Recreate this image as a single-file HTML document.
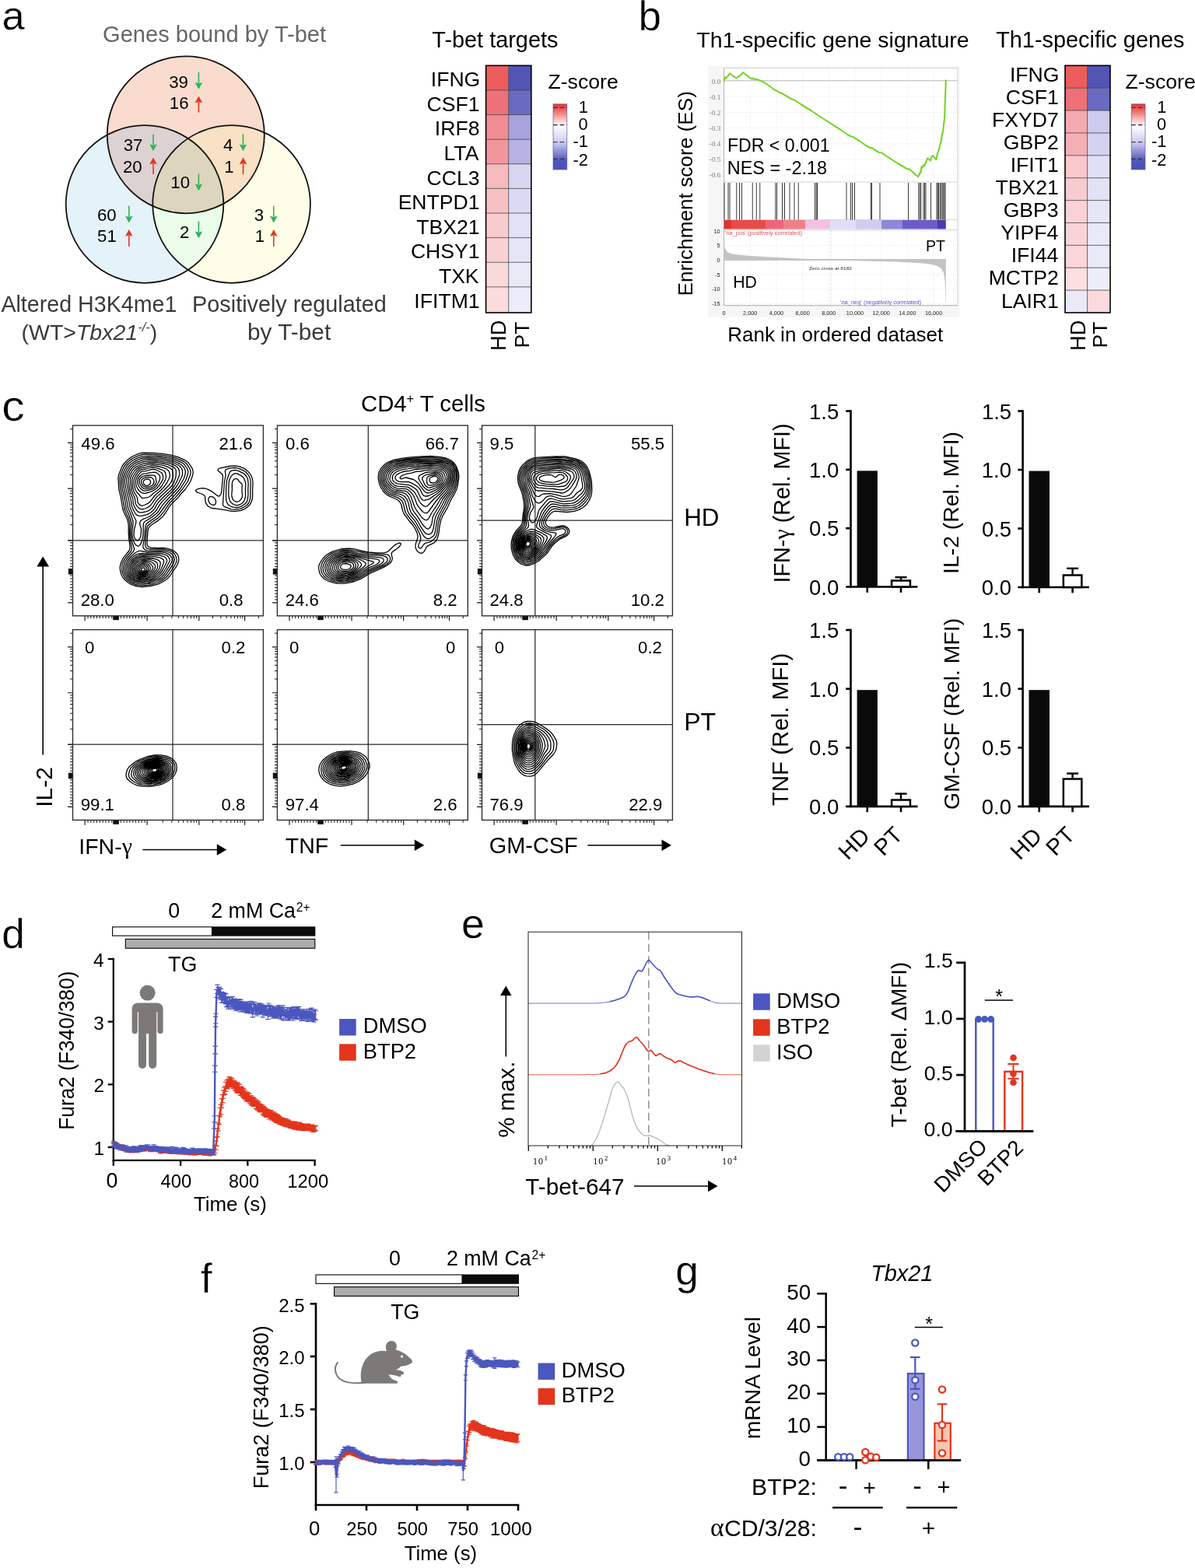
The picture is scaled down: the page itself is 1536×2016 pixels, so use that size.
<!DOCTYPE html>
<html lang="en"><head><meta charset="utf-8"><title>Figure</title>
<style>
html,body{margin:0;padding:0;background:#fff;}
svg{display:block;font-family:"Liberation Sans",sans-serif;}
</style></head>
<body>
<svg width="1536" height="2016" viewBox="0 0 1536 2016">
<rect width="1536" height="2016" fill="#fff"/>
<!-- panel a -->
<text x="2.57" y="38.30" font-size="52.50" stroke="#fff" stroke-width="0.35">a</text>
<text x="132.05" y="54.40" font-size="29.07" fill="#666">Genes bound by T-bet</text>
<defs><clipPath id="cT"><circle cx="238.8" cy="173.3" r="101.0"/></clipPath><clipPath id="cL"><circle cx="186.0" cy="262.5" r="101.3"/></clipPath><clipPath id="cR"><circle cx="297.6" cy="262.5" r="101.3"/></clipPath></defs>
<circle cx="238.8" cy="173.3" r="101.0" fill="#fadccf"/>
<circle cx="186.0" cy="262.5" r="101.3" fill="#e4f2fa"/>
<circle cx="297.6" cy="262.5" r="101.3" fill="#fdfde8"/>
<circle cx="238.8" cy="173.3" r="101.0" fill="#ddd2d2" clip-path="url(#cL)"/>
<circle cx="238.8" cy="173.3" r="101.0" fill="#f8e1c4" clip-path="url(#cR)"/>
<circle cx="186.0" cy="262.5" r="101.3" fill="#ebfcea" clip-path="url(#cR)"/>
<g clip-path="url(#cL)"><circle cx="238.8" cy="173.3" r="101.0" fill="#ded5be" clip-path="url(#cR)"/></g>
<circle cx="238.80" cy="173.30" r="101.00" fill="none" stroke="#111" stroke-width="1.8"/>
<circle cx="186.00" cy="262.50" r="101.30" fill="none" stroke="#111" stroke-width="1.8"/>
<circle cx="297.60" cy="262.50" r="101.30" fill="none" stroke="#111" stroke-width="1.8"/>
<text x="217.17" y="112.80" font-size="22.20">39</text>
<text x="217.84" y="140.00" font-size="22.20">16</text>
<text x="158.67" y="193.80" font-size="22.20">37</text>
<text x="157.89" y="222.00" font-size="22.20">20</text>
<text x="287.00" y="193.80" font-size="22.20">4</text>
<text x="288.33" y="222.00" font-size="22.20">1</text>
<text x="219.34" y="242.00" font-size="22.20">10</text>
<text x="124.89" y="283.80" font-size="22.20">60</text>
<text x="125.11" y="311.30" font-size="22.20">51</text>
<text x="230.89" y="305.50" font-size="22.20">2</text>
<text x="326.67" y="283.80" font-size="22.20">3</text>
<text x="327.83" y="311.30" font-size="22.20">1</text>
<line x1="255.40" y1="92.90" x2="255.40" y2="107.00" stroke="#2fb45c" stroke-width="1.6"/>
<path d="M255.40 114.80L250.60 106.00L255.40 107.20L260.20 106.00Z" fill="#2fb45c"/>
<line x1="255.40" y1="144.60" x2="255.40" y2="131.30" stroke="#e2371f" stroke-width="1.6"/>
<path d="M255.40 123.50L250.60 132.30L255.40 131.10L260.20 132.30Z" fill="#e2371f"/>
<line x1="197.00" y1="172.50" x2="197.00" y2="186.50" stroke="#2fb45c" stroke-width="1.6"/>
<path d="M197.00 194.30L192.20 185.50L197.00 186.70L201.80 185.50Z" fill="#2fb45c"/>
<line x1="197.00" y1="224.00" x2="197.00" y2="210.30" stroke="#e2371f" stroke-width="1.6"/>
<path d="M197.00 202.50L192.20 211.30L197.00 210.10L201.80 211.30Z" fill="#e2371f"/>
<line x1="312.50" y1="172.50" x2="312.50" y2="186.50" stroke="#2fb45c" stroke-width="1.6"/>
<path d="M312.50 194.30L307.70 185.50L312.50 186.70L317.30 185.50Z" fill="#2fb45c"/>
<line x1="312.50" y1="224.00" x2="312.50" y2="210.30" stroke="#e2371f" stroke-width="1.6"/>
<path d="M312.50 202.50L307.70 211.30L312.50 210.10L317.30 211.30Z" fill="#e2371f"/>
<line x1="255.40" y1="223.50" x2="255.40" y2="237.50" stroke="#2fb45c" stroke-width="1.6"/>
<path d="M255.40 245.30L250.60 236.50L255.40 237.70L260.20 236.50Z" fill="#2fb45c"/>
<line x1="165.80" y1="264.80" x2="165.80" y2="278.70" stroke="#2fb45c" stroke-width="1.6"/>
<path d="M165.80 286.50L161.00 277.70L165.80 278.90L170.60 277.70Z" fill="#2fb45c"/>
<line x1="165.80" y1="317.00" x2="165.80" y2="302.80" stroke="#e2371f" stroke-width="1.6"/>
<path d="M165.80 295.00L161.00 303.80L165.80 302.60L170.60 303.80Z" fill="#e2371f"/>
<line x1="255.40" y1="284.50" x2="255.40" y2="298.50" stroke="#2fb45c" stroke-width="1.6"/>
<path d="M255.40 306.30L250.60 297.50L255.40 298.70L260.20 297.50Z" fill="#2fb45c"/>
<line x1="351.80" y1="264.80" x2="351.80" y2="278.70" stroke="#2fb45c" stroke-width="1.6"/>
<path d="M351.80 286.50L347.00 277.70L351.80 278.90L356.60 277.70Z" fill="#2fb45c"/>
<line x1="351.80" y1="317.00" x2="351.80" y2="302.80" stroke="#e2371f" stroke-width="1.6"/>
<path d="M351.80 295.00L347.00 303.80L351.80 302.60L356.60 303.80Z" fill="#e2371f"/>
<text x="1.43" y="401.20" font-size="28.63" fill="#3a3a3a">Altered H3K4me1</text>
<text x="27.5" y="436.6" font-size="28.5" fill="#3a3a3a">(WT&gt;<tspan font-style="italic">Tbx21</tspan><tspan font-style="italic" font-size="16.5" dy="-10.5">-/-</tspan><tspan dy="10.5">)</tspan></text>
<text x="247.12" y="401.20" font-size="28.80" fill="#3a3a3a">Positively regulated</text>
<text x="318.06" y="436.60" font-size="29.81" fill="#3a3a3a">by T-bet</text>
<text x="555.35" y="61.30" font-size="28.88">T-bet targets</text>
<rect x="624.60" y="84.30" width="29.10" height="31.92" fill="#ec5c5c"/>
<rect x="653.70" y="84.30" width="29.10" height="31.92" fill="#5255b4"/>
<rect x="624.60" y="115.92" width="29.10" height="31.92" fill="#ee7078"/>
<rect x="653.70" y="115.92" width="29.10" height="31.92" fill="#6a6ac0"/>
<rect x="624.60" y="147.54" width="29.10" height="31.92" fill="#f18c94"/>
<rect x="653.70" y="147.54" width="29.10" height="31.92" fill="#a6a3dd"/>
<rect x="624.60" y="179.16" width="29.10" height="31.92" fill="#f2969e"/>
<rect x="653.70" y="179.16" width="29.10" height="31.92" fill="#b6b2e3"/>
<rect x="624.60" y="210.78" width="29.10" height="31.92" fill="#f6b9be"/>
<rect x="653.70" y="210.78" width="29.10" height="31.92" fill="#d8d6f1"/>
<rect x="624.60" y="242.40" width="29.10" height="31.92" fill="#f7c0c5"/>
<rect x="653.70" y="242.40" width="29.10" height="31.92" fill="#dbdaf3"/>
<rect x="624.60" y="274.02" width="29.10" height="31.92" fill="#f8cbcf"/>
<rect x="653.70" y="274.02" width="29.10" height="31.92" fill="#e2e2f6"/>
<rect x="624.60" y="305.64" width="29.10" height="31.92" fill="#f9d0d3"/>
<rect x="653.70" y="305.64" width="29.10" height="31.92" fill="#e5e5f7"/>
<rect x="624.60" y="337.26" width="29.10" height="31.92" fill="#fad9db"/>
<rect x="653.70" y="337.26" width="29.10" height="31.92" fill="#e9e9f8"/>
<rect x="624.60" y="368.88" width="29.10" height="33.42" fill="#fadcde"/>
<rect x="653.70" y="368.88" width="29.10" height="33.42" fill="#ebebf9"/>
<line x1="624.60" y1="115.92" x2="682.80" y2="115.92" stroke="#444" stroke-width="0.8"/>
<line x1="624.60" y1="147.54" x2="682.80" y2="147.54" stroke="#444" stroke-width="0.8"/>
<line x1="624.60" y1="179.16" x2="682.80" y2="179.16" stroke="#444" stroke-width="0.8"/>
<line x1="624.60" y1="210.78" x2="682.80" y2="210.78" stroke="#444" stroke-width="0.8"/>
<line x1="624.60" y1="242.40" x2="682.80" y2="242.40" stroke="#444" stroke-width="0.8"/>
<line x1="624.60" y1="274.02" x2="682.80" y2="274.02" stroke="#444" stroke-width="0.8"/>
<line x1="624.60" y1="305.64" x2="682.80" y2="305.64" stroke="#444" stroke-width="0.8"/>
<line x1="624.60" y1="337.26" x2="682.80" y2="337.26" stroke="#444" stroke-width="0.8"/>
<line x1="624.60" y1="368.88" x2="682.80" y2="368.88" stroke="#444" stroke-width="0.8"/>
<line x1="653.70" y1="84.30" x2="653.70" y2="402.00" stroke="#444" stroke-width="0.8"/>
<rect x="624.60" y="84.30" width="58.20" height="317.70" fill="none" stroke="#000" stroke-width="1.6"/>
<text x="553.79" y="111.30" font-size="26.60">IFNG</text>
<text x="548.60" y="142.88" font-size="26.60">CSF1</text>
<text x="558.84" y="174.46" font-size="26.60">IRF8</text>
<text x="570.55" y="206.04" font-size="26.60">LTA</text>
<text x="548.47" y="237.62" font-size="26.60">CCL3</text>
<text x="511.63" y="269.20" font-size="26.60">ENTPD1</text>
<text x="535.30" y="300.78" font-size="26.60">TBX21</text>
<text x="527.92" y="332.36" font-size="26.60">CHSY1</text>
<text x="563.90" y="363.94" font-size="26.60">TXK</text>
<text x="532.37" y="395.52" font-size="26.60">IFITM1</text>
<text x="650.30" y="450.93" font-size="27.20" transform="rotate(-90 650.30 450.93)">HD</text>
<text x="679.60" y="447.52" font-size="26.50" transform="rotate(-90 679.60 447.52)">PT</text>
<defs><linearGradient id="zg1" x1="0" y1="0" x2="0" y2="1"><stop offset="0" stop-color="#e53a35"/><stop offset="0.06" stop-color="#e8504c"/><stop offset="0.33" stop-color="#ffffff"/><stop offset="0.6" stop-color="#c9c7ec"/><stop offset="0.86" stop-color="#5256b8"/><stop offset="1" stop-color="#4a4fb4"/></linearGradient></defs>
<rect x="711.00" y="133.80" width="17.80" height="84.20" fill="url(#zg1)" stroke="#5a5bb0" stroke-width="0.7"/>
<line x1="711.00" y1="138.20" x2="728.80" y2="138.20" stroke="#222" stroke-width="1.1" stroke-dasharray="5.5 3.2"/>
<line x1="711.00" y1="160.60" x2="728.80" y2="160.60" stroke="#222" stroke-width="1.1" stroke-dasharray="5.5 3.2"/>
<line x1="711.00" y1="182.70" x2="728.80" y2="182.70" stroke="#222" stroke-width="1.1" stroke-dasharray="5.5 3.2"/>
<line x1="711.00" y1="204.30" x2="728.80" y2="204.30" stroke="#222" stroke-width="1.1" stroke-dasharray="5.5 3.2"/>
<text x="743.74" y="144.70" font-size="21.80">1</text>
<text x="743.52" y="166.90" font-size="21.80">0</text>
<text x="736.49" y="188.70" font-size="21.80">-1</text>
<text x="736.54" y="212.50" font-size="21.80">-2</text>
<text x="704.43" y="113.80" font-size="26.66">Z-score</text>
<text x="1280.15" y="61.30" font-size="28.88">Th1-specific genes</text>
<rect x="1369.00" y="84.30" width="28.60" height="29.18" fill="#ec5c5c"/>
<rect x="1397.60" y="84.30" width="29.40" height="29.18" fill="#5255b4"/>
<rect x="1369.00" y="113.18" width="28.60" height="29.18" fill="#ee7078"/>
<rect x="1397.60" y="113.18" width="29.40" height="29.18" fill="#6a6ac0"/>
<rect x="1369.00" y="142.06" width="28.60" height="29.18" fill="#f4aab0"/>
<rect x="1397.60" y="142.06" width="29.40" height="29.18" fill="#cdcaed"/>
<rect x="1369.00" y="170.95" width="28.60" height="29.18" fill="#f5b0b6"/>
<rect x="1397.60" y="170.95" width="29.40" height="29.18" fill="#d4d2f0"/>
<rect x="1369.00" y="199.83" width="28.60" height="29.18" fill="#f8c8cc"/>
<rect x="1397.60" y="199.83" width="29.40" height="29.18" fill="#e0e0f5"/>
<rect x="1369.00" y="228.71" width="28.60" height="29.18" fill="#f8cbcf"/>
<rect x="1397.60" y="228.71" width="29.40" height="29.18" fill="#e2e2f6"/>
<rect x="1369.00" y="257.59" width="28.60" height="29.18" fill="#f9d2d5"/>
<rect x="1397.60" y="257.59" width="29.40" height="29.18" fill="#e6e6f7"/>
<rect x="1369.00" y="286.47" width="28.60" height="29.18" fill="#f9d4d7"/>
<rect x="1397.60" y="286.47" width="29.40" height="29.18" fill="#e8e8f8"/>
<rect x="1369.00" y="315.35" width="28.60" height="29.18" fill="#fad6d9"/>
<rect x="1397.60" y="315.35" width="29.40" height="29.18" fill="#e9e9f8"/>
<rect x="1369.00" y="344.24" width="28.60" height="29.18" fill="#fbe0e2"/>
<rect x="1397.60" y="344.24" width="29.40" height="29.18" fill="#ededfa"/>
<rect x="1369.00" y="373.12" width="28.60" height="29.18" fill="#e9e9f8"/>
<rect x="1397.60" y="373.12" width="29.40" height="29.18" fill="#fadadc"/>
<line x1="1369.00" y1="113.18" x2="1427.00" y2="113.18" stroke="#444" stroke-width="0.8"/>
<line x1="1369.00" y1="142.06" x2="1427.00" y2="142.06" stroke="#444" stroke-width="0.8"/>
<line x1="1369.00" y1="170.95" x2="1427.00" y2="170.95" stroke="#444" stroke-width="0.8"/>
<line x1="1369.00" y1="199.83" x2="1427.00" y2="199.83" stroke="#444" stroke-width="0.8"/>
<line x1="1369.00" y1="228.71" x2="1427.00" y2="228.71" stroke="#444" stroke-width="0.8"/>
<line x1="1369.00" y1="257.59" x2="1427.00" y2="257.59" stroke="#444" stroke-width="0.8"/>
<line x1="1369.00" y1="286.47" x2="1427.00" y2="286.47" stroke="#444" stroke-width="0.8"/>
<line x1="1369.00" y1="315.35" x2="1427.00" y2="315.35" stroke="#444" stroke-width="0.8"/>
<line x1="1369.00" y1="344.24" x2="1427.00" y2="344.24" stroke="#444" stroke-width="0.8"/>
<line x1="1369.00" y1="373.12" x2="1427.00" y2="373.12" stroke="#444" stroke-width="0.8"/>
<line x1="1397.60" y1="84.30" x2="1397.60" y2="402.00" stroke="#444" stroke-width="0.8"/>
<rect x="1369.00" y="84.30" width="58.00" height="317.70" fill="none" stroke="#000" stroke-width="1.6"/>
<text x="1297.99" y="104.60" font-size="26.60">IFNG</text>
<text x="1292.80" y="133.69" font-size="26.60">CSF1</text>
<text x="1275.11" y="162.78" font-size="26.60">FXYD7</text>
<text x="1289.87" y="191.87" font-size="26.60">GBP2</text>
<text x="1298.72" y="220.96" font-size="26.60">IFIT1</text>
<text x="1279.50" y="250.05" font-size="26.60">TBX21</text>
<text x="1289.67" y="279.14" font-size="26.60">GBP3</text>
<text x="1286.35" y="308.23" font-size="26.60">YIPF4</text>
<text x="1299.65" y="337.32" font-size="26.60">IFI44</text>
<text x="1270.72" y="366.41" font-size="26.60">MCTP2</text>
<text x="1286.88" y="395.50" font-size="26.60">LAIR1</text>
<text x="1395.00" y="450.93" font-size="27.20" transform="rotate(-90 1395.00 450.93)">HD</text>
<text x="1423.30" y="447.52" font-size="26.50" transform="rotate(-90 1423.30 447.52)">PT</text>
<defs><linearGradient id="zg2" x1="0" y1="0" x2="0" y2="1"><stop offset="0" stop-color="#e53a35"/><stop offset="0.06" stop-color="#e8504c"/><stop offset="0.33" stop-color="#ffffff"/><stop offset="0.6" stop-color="#c9c7ec"/><stop offset="0.86" stop-color="#5256b8"/><stop offset="1" stop-color="#4a4fb4"/></linearGradient></defs>
<rect x="1454.20" y="133.80" width="17.80" height="84.20" fill="url(#zg2)" stroke="#5a5bb0" stroke-width="0.7"/>
<line x1="1454.20" y1="138.20" x2="1472.00" y2="138.20" stroke="#222" stroke-width="1.1" stroke-dasharray="5.5 3.2"/>
<line x1="1454.20" y1="160.60" x2="1472.00" y2="160.60" stroke="#222" stroke-width="1.1" stroke-dasharray="5.5 3.2"/>
<line x1="1454.20" y1="182.70" x2="1472.00" y2="182.70" stroke="#222" stroke-width="1.1" stroke-dasharray="5.5 3.2"/>
<line x1="1454.20" y1="204.30" x2="1472.00" y2="204.30" stroke="#222" stroke-width="1.1" stroke-dasharray="5.5 3.2"/>
<text x="1487.24" y="144.70" font-size="21.80">1</text>
<text x="1487.02" y="166.90" font-size="21.80">0</text>
<text x="1479.99" y="188.70" font-size="21.80">-1</text>
<text x="1480.04" y="212.50" font-size="21.80">-2</text>
<text x="1446.43" y="113.80" font-size="26.66">Z-score</text>
<!-- panel b : GSEA -->
<text x="820.55" y="39.40" font-size="53.00" stroke="#fff" stroke-width="0.35">b</text>
<text x="895.36" y="61.30" font-size="28.52">Th1-specific gene signature</text>
<rect x="910.00" y="85.00" width="323.30" height="323.00" fill="#f6f6f6"/>
<rect x="930.50" y="87.50" width="300.30" height="305.00" fill="#fff"/>
<path d="M930.5 87.5V233.5M930.5 296V392.5M964.2 87.5V233.5M964.2 296V392.5M997.9 87.5V233.5M997.9 296V392.5M1031.6 87.5V233.5M1031.6 296V392.5M1065.3 87.5V233.5M1065.3 296V392.5M1099.0 87.5V233.5M1099.0 296V392.5M1132.7 87.5V233.5M1132.7 296V392.5M1166.4 87.5V233.5M1166.4 296V392.5M1200.1 87.5V233.5M1200.1 296V392.5M930.5 124.5H1230.8M930.5 144.5H1230.8M930.5 164.5H1230.8M930.5 185H1230.8M930.5 205H1230.8M930.5 225H1230.8M930.5 297.5H1230.8M930.5 315.5H1230.8M930.5 353H1230.8M930.5 371.8H1230.8M930.5 390.5H1230.8" fill="none" stroke="#e4e4e4" stroke-width="0.7" stroke-dasharray="1.5 1.5"/>
<path d="M930.5 87.5H1230.8V392.5H930.5Z M930.5 234H1230.8 M930.5 282.5H1230.8 M930.5 295.5H1230.8" fill="none" stroke="#cfcfcf" stroke-width="0.9"/>
<line x1="930.50" y1="87.50" x2="930.50" y2="392.50" stroke="#b5b5b5" stroke-width="1"/>
<line x1="930.50" y1="392.80" x2="1230.80" y2="392.80" stroke="#b5b5b5" stroke-width="1"/>
<line x1="930.50" y1="103.80" x2="1230.80" y2="103.80" stroke="#b9b9b9" stroke-width="1.1"/>
<polyline points="930.5,104.5 931.5,99.5 933.0,101.0 934.5,98.5 936.0,97.5 938.0,94.3 940.0,96.0 942.5,97.8 945.0,99.5 946.8,100.3 949.0,98.5 951.0,97.5 953.0,95.5 955.0,93.2 957.5,95.0 960.0,97.0 963.0,99.5 966.8,101.5 968.5,100.8 970.5,102.3 972.0,101.6 975.0,103.0 978.0,103.8 983.0,106.5 988.0,110.0 993.0,113.5 996.0,116.0 998.0,116.3 1002.0,119.0 1006.0,120.5 1010.0,123.0 1018.0,127.5 1022.0,129.0 1030.0,134.5 1043.0,142.5 1055.0,150.5 1068.0,158.8 1080.0,166.5 1090.0,173.5 1093.0,175.0 1097.0,176.3 1105.0,181.5 1113.0,187.0 1118.0,190.2 1120.0,189.7 1124.0,192.5 1130.0,196.0 1133.0,196.3 1140.0,201.0 1152.0,208.8 1160.0,213.5 1167.0,217.8 1168.5,217.0 1174.0,222.0 1180.0,227.2 1181.5,225.0 1182.5,221.5 1183.5,222.0 1184.5,214.5 1185.5,215.5 1186.5,212.5 1188.0,213.5 1189.5,210.0 1191.0,206.5 1192.0,203.5 1194.0,205.0 1196.0,206.5 1197.5,201.5 1198.5,200.0 1201.0,202.5 1203.3,205.2 1204.5,200.0 1205.8,195.0 1207.0,192.0 1208.3,186.0 1209.5,183.0 1210.8,173.0 1212.0,170.0 1213.3,158.0 1214.2,150.0 1214.6,135.0 1215.3,118.0 1215.8,102.5" fill="none" stroke="#76d32a" stroke-width="2.1" stroke-linejoin="round"/>
<path d="M931.00 235V282.5M936.00 235V282.5M938.00 235V282.5M946.75 235V282.5M950.50 235V282.5M953.50 235V282.5M967.25 235V282.5M972.25 235V282.5M976.75 235V282.5M996.75 235V282.5M998.50 235V282.5M1005.50 235V282.5M1008.50 235V282.5M1015.00 235V282.5M1021.00 235V282.5M1026.25 235V282.5M1047.50 235V282.5M1049.25 235V282.5M1050.50 235V282.5M1088.00 235V282.5M1093.50 235V282.5M1095.50 235V282.5M1098.50 235V282.5M1119.25 235V282.5M1120.50 235V282.5M1131.00 235V282.5M1167.50 235V282.5M1180.75 235V282.5M1182.25 235V282.5M1183.75 235V282.5M1187.00 235V282.5M1188.50 235V282.5M1190.00 235V282.5M1196.50 235V282.5M1204.00 235V282.5M1205.25 235V282.5M1206.50 235V282.5M1208.25 235V282.5M1209.75 235V282.5M1211.25 235V282.5M1212.75 235V282.5M1214.00 235V282.5M1215.00 235V282.5" fill="none" stroke="#222" stroke-width="0.9"/>
<rect x="930.50" y="283.00" width="9.50" height="11.50" fill="#e0332f"/>
<rect x="940.00" y="283.00" width="44.00" height="11.50" fill="#e94a48"/>
<rect x="984.00" y="283.00" width="23.00" height="11.50" fill="#ee647c"/>
<rect x="1007.00" y="283.00" width="28.00" height="11.50" fill="#ef7f88"/>
<rect x="1035.00" y="283.00" width="32.00" height="11.50" fill="#f0c1e2"/>
<rect x="1067.00" y="283.00" width="33.00" height="11.50" fill="#e1ddf8"/>
<rect x="1100.00" y="283.00" width="33.00" height="11.50" fill="#d3cbf1"/>
<rect x="1133.00" y="283.00" width="27.00" height="11.50" fill="#8e88d7"/>
<rect x="1160.00" y="283.00" width="45.00" height="11.50" fill="#6b5dc9"/>
<rect x="1205.00" y="283.00" width="10.80" height="11.50" fill="#4a3bb2"/>
<path d="M930.5 334.3L930.5 312.0L931.5 318.0L933.0 321.5L936.0 324.5L940.0 326.3L950.0 327.8L965.0 329.0L985.0 330.3L1010.0 331.6L1040.0 333.0L1068.0 334.3L1068.0 334.3L1110.0 335.4L1150.0 336.6L1180.0 338.0L1195.0 339.6L1205.0 342.0L1210.0 345.5L1213.0 351.0L1214.6 362.0L1215.4 388.0L1215.8 388.0L1215.8 334.3Z" fill="#c3c3c3"/>
<line x1="930.50" y1="334.00" x2="1215.80" y2="334.00" stroke="#c3c3c3" stroke-width="2.0"/>
<line x1="1068.00" y1="296.00" x2="1068.00" y2="392.50" stroke="#cfcfcf" stroke-width="0.7" stroke-dasharray="2.5 2"/>
<text x="926.30" y="107.50" font-size="9.00" text-anchor="end" font-family="Liberation Serif,serif" fill="#777">0.0</text>
<text x="926.30" y="127.50" font-size="9.00" text-anchor="end" font-family="Liberation Serif,serif" fill="#777">-0.1</text>
<text x="926.30" y="147.50" font-size="9.00" text-anchor="end" font-family="Liberation Serif,serif" fill="#777">-0.2</text>
<text x="926.30" y="167.50" font-size="9.00" text-anchor="end" font-family="Liberation Serif,serif" fill="#777">-0.3</text>
<text x="926.30" y="188.00" font-size="9.00" text-anchor="end" font-family="Liberation Serif,serif" fill="#777">-0.4</text>
<text x="926.30" y="208.00" font-size="9.00" text-anchor="end" font-family="Liberation Serif,serif" fill="#777">-0.5</text>
<text x="926.30" y="228.00" font-size="9.00" text-anchor="end" font-family="Liberation Serif,serif" fill="#777">-0.6</text>
<text x="925.50" y="299.80" font-size="7.30" text-anchor="end" fill="#222">10</text>
<text x="925.50" y="318.10" font-size="7.30" text-anchor="end" fill="#222">5</text>
<text x="925.50" y="336.90" font-size="7.30" text-anchor="end" fill="#222">0</text>
<text x="925.50" y="355.60" font-size="7.30" text-anchor="end" fill="#222">-5</text>
<text x="925.50" y="374.40" font-size="7.30" text-anchor="end" fill="#222">-10</text>
<text x="925.50" y="393.10" font-size="7.30" text-anchor="end" fill="#222">-15</text>
<text x="930.50" y="405.20" font-size="7.30" text-anchor="middle" fill="#222">0</text>
<text x="964.20" y="405.20" font-size="7.30" text-anchor="middle" fill="#222">2,000</text>
<text x="997.90" y="405.20" font-size="7.30" text-anchor="middle" fill="#222">4,000</text>
<text x="1031.60" y="405.20" font-size="7.30" text-anchor="middle" fill="#222">6,000</text>
<text x="1065.30" y="405.20" font-size="7.30" text-anchor="middle" fill="#222">8,000</text>
<text x="1099.00" y="405.20" font-size="7.30" text-anchor="middle" fill="#222">10,000</text>
<text x="1132.70" y="405.20" font-size="7.30" text-anchor="middle" fill="#222">12,000</text>
<text x="1166.40" y="405.20" font-size="7.30" text-anchor="middle" fill="#222">14,000</text>
<text x="1200.10" y="405.20" font-size="7.30" text-anchor="middle" fill="#222">16,000</text>
<text x="932.00" y="302.00" font-size="6.40" fill="#e4504e" textLength="99" lengthAdjust="spacingAndGlyphs">'na_pos' (positively correlated)</text>
<text x="1080.00" y="391.00" font-size="6.40" fill="#5a55c8" textLength="104" lengthAdjust="spacingAndGlyphs">'na_neg' (negatively correlated)</text>
<text x="1040.00" y="346.50" font-size="6.20" fill="#333" textLength="55" lengthAdjust="spacingAndGlyphs">Zero cross at 8182</text>
<text x="934.89" y="195.00" font-size="23.12">FDR &lt; 0.001</text>
<text x="934.87" y="223.80" font-size="23.40">NES = -2.18</text>
<text x="942.24" y="370.00" font-size="21.29">HD</text>
<text x="1189.88" y="322.50" font-size="19.62">PT</text>
<text x="890.30" y="380.55" font-size="26.20" transform="rotate(-90 890.30 380.55)">Enrichment score (ES)</text>
<text x="935.36" y="438.80" font-size="25.94">Rank in ordered dataset</text>
<!-- panel c -->
<text x="2.20" y="541.40" font-size="55.30" stroke="#fff" stroke-width="0.4" textLength="29.4" lengthAdjust="spacingAndGlyphs">c</text>
<text x="464.0" y="528.6" font-size="29.3">CD4<tspan font-size="16.5" dy="-10.5">+</tspan><tspan dy="10.5"> T cells</tspan></text>
<path d="M109.1 791.8v6.4M87.1 774.8H93.5M189.1 791.8v6.4M87.1 694.8H93.5M255.8 791.8v6.4M87.1 628.1H93.5M314.6 791.8v6.4M87.1 569.3H93.5" fill="none" stroke="#111" stroke-width="1.15"/>
<path d="M113.0 791.8v3.4M90.1 770.9H93.5M116.8 791.8v3.4M90.1 767.1H93.5M120.7 791.8v3.4M90.1 763.2H93.5M124.5 791.8v3.4M90.1 759.4H93.5M128.3 791.8v3.4M90.1 755.5H93.5M132.2 791.8v3.4M90.1 751.7H93.5M136.1 791.8v3.4M90.1 747.9H93.5M139.9 791.8v3.4M90.1 744.0H93.5M143.8 791.8v3.4M90.1 740.1H93.5M155.3 791.8v3.4M90.1 728.6H93.5M159.2 791.8v3.4M90.1 724.8H93.5M163.0 791.8v3.4M90.1 720.9H93.5M166.8 791.8v3.4M90.1 717.0H93.5M170.7 791.8v3.4M90.1 713.2H93.5M174.5 791.8v3.4M90.1 709.4H93.5M178.4 791.8v3.4M90.1 705.5H93.5M182.2 791.8v3.4M90.1 701.6H93.5M186.1 791.8v3.4M90.1 697.8H93.5M209.2 791.8v3.4M90.1 674.7H93.5M273.5 791.8v3.4M90.1 610.4H93.5M220.9 791.8v3.4M90.1 663.0H93.5M283.9 791.8v3.4M90.1 600.0H93.5M229.3 791.8v3.4M90.1 654.6H93.5M291.2 791.8v3.4M90.1 592.7H93.5M235.7 791.8v3.4M90.1 648.2H93.5M296.9 791.8v3.4M90.1 587.0H93.5M241.0 791.8v3.4M90.1 642.9H93.5M301.6 791.8v3.4M90.1 582.3H93.5M245.5 791.8v3.4M90.1 638.4H93.5M305.5 791.8v3.4M90.1 578.4H93.5M249.3 791.8v3.4M90.1 634.6H93.5M308.9 791.8v3.4M90.1 575.0H93.5M252.7 791.8v3.4M90.1 631.2H93.5M311.9 791.8v3.4M90.1 572.0H93.5M332.3 791.8v3.4M90.1 551.6H93.5" fill="none" stroke="#111" stroke-width="1.0"/>
<rect x="145.30" y="791.80" width="7.60" height="5.40" fill="#111"/>
<rect x="87.90" y="731.00" width="5.60" height="7.60" fill="#111"/>
<rect x="93.50" y="547.00" width="244.90" height="244.80" fill="none" stroke="#2a2a2a" stroke-width="1.35"/>
<line x1="222.00" y1="547.00" x2="222.00" y2="791.80" stroke="#2a2a2a" stroke-width="1.25"/>
<line x1="87.30" y1="694.80" x2="338.40" y2="694.80" stroke="#2a2a2a" stroke-width="1.25"/>
<path d="M372.0 791.8v6.4M350.0 774.8H356.4M452.0 791.8v6.4M350.0 694.8H356.4M518.7 791.8v6.4M350.0 628.1H356.4M577.5 791.8v6.4M350.0 569.3H356.4" fill="none" stroke="#111" stroke-width="1.15"/>
<path d="M375.8 791.8v3.4M353.0 770.9H356.4M379.7 791.8v3.4M353.0 767.1H356.4M383.5 791.8v3.4M353.0 763.2H356.4M387.4 791.8v3.4M353.0 759.4H356.4M391.2 791.8v3.4M353.0 755.5H356.4M395.1 791.8v3.4M353.0 751.7H356.4M398.9 791.8v3.4M353.0 747.9H356.4M402.8 791.8v3.4M353.0 744.0H356.4M406.6 791.8v3.4M353.0 740.1H356.4M418.2 791.8v3.4M353.0 728.6H356.4M422.0 791.8v3.4M353.0 724.8H356.4M425.9 791.8v3.4M353.0 720.9H356.4M429.8 791.8v3.4M353.0 717.0H356.4M433.6 791.8v3.4M353.0 713.2H356.4M437.4 791.8v3.4M353.0 709.4H356.4M441.3 791.8v3.4M353.0 705.5H356.4M445.1 791.8v3.4M353.0 701.6H356.4M449.0 791.8v3.4M353.0 697.8H356.4M472.1 791.8v3.4M353.0 674.7H356.4M536.4 791.8v3.4M353.0 610.4H356.4M483.8 791.8v3.4M353.0 663.0H356.4M546.8 791.8v3.4M353.0 600.0H356.4M492.2 791.8v3.4M353.0 654.6H356.4M554.1 791.8v3.4M353.0 592.7H356.4M498.6 791.8v3.4M353.0 648.2H356.4M559.8 791.8v3.4M353.0 587.0H356.4M503.9 791.8v3.4M353.0 642.9H356.4M564.5 791.8v3.4M353.0 582.3H356.4M508.4 791.8v3.4M353.0 638.4H356.4M568.4 791.8v3.4M353.0 578.4H356.4M512.2 791.8v3.4M353.0 634.6H356.4M571.8 791.8v3.4M353.0 575.0H356.4M515.6 791.8v3.4M353.0 631.2H356.4M574.8 791.8v3.4M353.0 572.0H356.4M595.2 791.8v3.4M353.0 551.6H356.4" fill="none" stroke="#111" stroke-width="1.0"/>
<rect x="408.20" y="791.80" width="7.60" height="5.40" fill="#111"/>
<rect x="350.80" y="731.00" width="5.60" height="7.60" fill="#111"/>
<rect x="356.40" y="547.00" width="244.90" height="244.80" fill="none" stroke="#2a2a2a" stroke-width="1.35"/>
<line x1="473.30" y1="547.00" x2="473.30" y2="791.80" stroke="#2a2a2a" stroke-width="1.25"/>
<line x1="350.20" y1="694.80" x2="601.30" y2="694.80" stroke="#2a2a2a" stroke-width="1.25"/>
<path d="M635.1 791.8v6.4M613.1 774.8H619.5M715.1 791.8v6.4M613.1 694.8H619.5M781.8 791.8v6.4M613.1 628.1H619.5M840.6 791.8v6.4M613.1 569.3H619.5" fill="none" stroke="#111" stroke-width="1.15"/>
<path d="M639.0 791.8v3.4M616.1 770.9H619.5M642.8 791.8v3.4M616.1 767.1H619.5M646.6 791.8v3.4M616.1 763.2H619.5M650.5 791.8v3.4M616.1 759.4H619.5M654.4 791.8v3.4M616.1 755.5H619.5M658.2 791.8v3.4M616.1 751.7H619.5M662.0 791.8v3.4M616.1 747.9H619.5M665.9 791.8v3.4M616.1 744.0H619.5M669.8 791.8v3.4M616.1 740.1H619.5M681.3 791.8v3.4M616.1 728.6H619.5M685.1 791.8v3.4M616.1 724.8H619.5M689.0 791.8v3.4M616.1 720.9H619.5M692.9 791.8v3.4M616.1 717.0H619.5M696.7 791.8v3.4M616.1 713.2H619.5M700.5 791.8v3.4M616.1 709.4H619.5M704.4 791.8v3.4M616.1 705.5H619.5M708.2 791.8v3.4M616.1 701.6H619.5M712.1 791.8v3.4M616.1 697.8H619.5M735.2 791.8v3.4M616.1 674.7H619.5M799.5 791.8v3.4M616.1 610.4H619.5M746.9 791.8v3.4M616.1 663.0H619.5M809.9 791.8v3.4M616.1 600.0H619.5M755.3 791.8v3.4M616.1 654.6H619.5M817.2 791.8v3.4M616.1 592.7H619.5M761.7 791.8v3.4M616.1 648.2H619.5M822.9 791.8v3.4M616.1 587.0H619.5M767.0 791.8v3.4M616.1 642.9H619.5M827.6 791.8v3.4M616.1 582.3H619.5M771.5 791.8v3.4M616.1 638.4H619.5M831.5 791.8v3.4M616.1 578.4H619.5M775.3 791.8v3.4M616.1 634.6H619.5M834.9 791.8v3.4M616.1 575.0H619.5M778.7 791.8v3.4M616.1 631.2H619.5M837.9 791.8v3.4M616.1 572.0H619.5M858.3 791.8v3.4M616.1 551.6H619.5" fill="none" stroke="#111" stroke-width="1.0"/>
<rect x="671.30" y="791.80" width="7.60" height="5.40" fill="#111"/>
<rect x="613.90" y="731.00" width="5.60" height="7.60" fill="#111"/>
<rect x="619.50" y="547.00" width="244.90" height="244.80" fill="none" stroke="#2a2a2a" stroke-width="1.35"/>
<line x1="687.80" y1="547.00" x2="687.80" y2="791.80" stroke="#2a2a2a" stroke-width="1.25"/>
<line x1="613.30" y1="669.00" x2="864.40" y2="669.00" stroke="#2a2a2a" stroke-width="1.25"/>
<path d="M109.1 1054.4v6.4M87.1 1037.4H93.5M189.1 1054.4v6.4M87.1 957.4H93.5M255.8 1054.4v6.4M87.1 890.7H93.5M314.6 1054.4v6.4M87.1 831.9H93.5" fill="none" stroke="#111" stroke-width="1.15"/>
<path d="M113.0 1054.4v3.4M90.1 1033.5H93.5M116.8 1054.4v3.4M90.1 1029.7H93.5M120.7 1054.4v3.4M90.1 1025.8H93.5M124.5 1054.4v3.4M90.1 1022.0H93.5M128.3 1054.4v3.4M90.1 1018.1H93.5M132.2 1054.4v3.4M90.1 1014.3H93.5M136.1 1054.4v3.4M90.1 1010.5H93.5M139.9 1054.4v3.4M90.1 1006.6H93.5M143.8 1054.4v3.4M90.1 1002.8H93.5M155.3 1054.4v3.4M90.1 991.2H93.5M159.2 1054.4v3.4M90.1 987.4H93.5M163.0 1054.4v3.4M90.1 983.5H93.5M166.8 1054.4v3.4M90.1 979.6H93.5M170.7 1054.4v3.4M90.1 975.8H93.5M174.5 1054.4v3.4M90.1 972.0H93.5M178.4 1054.4v3.4M90.1 968.1H93.5M182.2 1054.4v3.4M90.1 964.2H93.5M186.1 1054.4v3.4M90.1 960.4H93.5M209.2 1054.4v3.4M90.1 937.3H93.5M273.5 1054.4v3.4M90.1 873.0H93.5M220.9 1054.4v3.4M90.1 925.6H93.5M283.9 1054.4v3.4M90.1 862.6H93.5M229.3 1054.4v3.4M90.1 917.2H93.5M291.2 1054.4v3.4M90.1 855.3H93.5M235.7 1054.4v3.4M90.1 910.8H93.5M296.9 1054.4v3.4M90.1 849.6H93.5M241.0 1054.4v3.4M90.1 905.5H93.5M301.6 1054.4v3.4M90.1 844.9H93.5M245.5 1054.4v3.4M90.1 901.0H93.5M305.5 1054.4v3.4M90.1 841.0H93.5M249.3 1054.4v3.4M90.1 897.2H93.5M308.9 1054.4v3.4M90.1 837.6H93.5M252.7 1054.4v3.4M90.1 893.8H93.5M311.9 1054.4v3.4M90.1 834.6H93.5M332.3 1054.4v3.4M90.1 814.2H93.5" fill="none" stroke="#111" stroke-width="1.0"/>
<rect x="145.30" y="1054.40" width="7.60" height="5.40" fill="#111"/>
<rect x="87.90" y="993.60" width="5.60" height="7.60" fill="#111"/>
<rect x="93.50" y="809.60" width="244.90" height="244.80" fill="none" stroke="#2a2a2a" stroke-width="1.35"/>
<line x1="222.00" y1="809.60" x2="222.00" y2="1054.40" stroke="#2a2a2a" stroke-width="1.25"/>
<line x1="87.30" y1="957.00" x2="338.40" y2="957.00" stroke="#2a2a2a" stroke-width="1.25"/>
<path d="M372.0 1054.4v6.4M350.0 1037.4H356.4M452.0 1054.4v6.4M350.0 957.4H356.4M518.7 1054.4v6.4M350.0 890.7H356.4M577.5 1054.4v6.4M350.0 831.9H356.4" fill="none" stroke="#111" stroke-width="1.15"/>
<path d="M375.8 1054.4v3.4M353.0 1033.5H356.4M379.7 1054.4v3.4M353.0 1029.7H356.4M383.5 1054.4v3.4M353.0 1025.8H356.4M387.4 1054.4v3.4M353.0 1022.0H356.4M391.2 1054.4v3.4M353.0 1018.1H356.4M395.1 1054.4v3.4M353.0 1014.3H356.4M398.9 1054.4v3.4M353.0 1010.5H356.4M402.8 1054.4v3.4M353.0 1006.6H356.4M406.6 1054.4v3.4M353.0 1002.8H356.4M418.2 1054.4v3.4M353.0 991.2H356.4M422.0 1054.4v3.4M353.0 987.4H356.4M425.9 1054.4v3.4M353.0 983.5H356.4M429.8 1054.4v3.4M353.0 979.6H356.4M433.6 1054.4v3.4M353.0 975.8H356.4M437.4 1054.4v3.4M353.0 972.0H356.4M441.3 1054.4v3.4M353.0 968.1H356.4M445.1 1054.4v3.4M353.0 964.2H356.4M449.0 1054.4v3.4M353.0 960.4H356.4M472.1 1054.4v3.4M353.0 937.3H356.4M536.4 1054.4v3.4M353.0 873.0H356.4M483.8 1054.4v3.4M353.0 925.6H356.4M546.8 1054.4v3.4M353.0 862.6H356.4M492.2 1054.4v3.4M353.0 917.2H356.4M554.1 1054.4v3.4M353.0 855.3H356.4M498.6 1054.4v3.4M353.0 910.8H356.4M559.8 1054.4v3.4M353.0 849.6H356.4M503.9 1054.4v3.4M353.0 905.5H356.4M564.5 1054.4v3.4M353.0 844.9H356.4M508.4 1054.4v3.4M353.0 901.0H356.4M568.4 1054.4v3.4M353.0 841.0H356.4M512.2 1054.4v3.4M353.0 897.2H356.4M571.8 1054.4v3.4M353.0 837.6H356.4M515.6 1054.4v3.4M353.0 893.8H356.4M574.8 1054.4v3.4M353.0 834.6H356.4M595.2 1054.4v3.4M353.0 814.2H356.4" fill="none" stroke="#111" stroke-width="1.0"/>
<rect x="408.20" y="1054.40" width="7.60" height="5.40" fill="#111"/>
<rect x="350.80" y="993.60" width="5.60" height="7.60" fill="#111"/>
<rect x="356.40" y="809.60" width="244.90" height="244.80" fill="none" stroke="#2a2a2a" stroke-width="1.35"/>
<line x1="473.30" y1="809.60" x2="473.30" y2="1054.40" stroke="#2a2a2a" stroke-width="1.25"/>
<line x1="350.20" y1="957.00" x2="601.30" y2="957.00" stroke="#2a2a2a" stroke-width="1.25"/>
<path d="M635.1 1054.4v6.4M613.1 1037.4H619.5M715.1 1054.4v6.4M613.1 957.4H619.5M781.8 1054.4v6.4M613.1 890.7H619.5M840.6 1054.4v6.4M613.1 831.9H619.5" fill="none" stroke="#111" stroke-width="1.15"/>
<path d="M639.0 1054.4v3.4M616.1 1033.5H619.5M642.8 1054.4v3.4M616.1 1029.7H619.5M646.6 1054.4v3.4M616.1 1025.8H619.5M650.5 1054.4v3.4M616.1 1022.0H619.5M654.4 1054.4v3.4M616.1 1018.1H619.5M658.2 1054.4v3.4M616.1 1014.3H619.5M662.0 1054.4v3.4M616.1 1010.5H619.5M665.9 1054.4v3.4M616.1 1006.6H619.5M669.8 1054.4v3.4M616.1 1002.8H619.5M681.3 1054.4v3.4M616.1 991.2H619.5M685.1 1054.4v3.4M616.1 987.4H619.5M689.0 1054.4v3.4M616.1 983.5H619.5M692.9 1054.4v3.4M616.1 979.6H619.5M696.7 1054.4v3.4M616.1 975.8H619.5M700.5 1054.4v3.4M616.1 972.0H619.5M704.4 1054.4v3.4M616.1 968.1H619.5M708.2 1054.4v3.4M616.1 964.2H619.5M712.1 1054.4v3.4M616.1 960.4H619.5M735.2 1054.4v3.4M616.1 937.3H619.5M799.5 1054.4v3.4M616.1 873.0H619.5M746.9 1054.4v3.4M616.1 925.6H619.5M809.9 1054.4v3.4M616.1 862.6H619.5M755.3 1054.4v3.4M616.1 917.2H619.5M817.2 1054.4v3.4M616.1 855.3H619.5M761.7 1054.4v3.4M616.1 910.8H619.5M822.9 1054.4v3.4M616.1 849.6H619.5M767.0 1054.4v3.4M616.1 905.5H619.5M827.6 1054.4v3.4M616.1 844.9H619.5M771.5 1054.4v3.4M616.1 901.0H619.5M831.5 1054.4v3.4M616.1 841.0H619.5M775.3 1054.4v3.4M616.1 897.2H619.5M834.9 1054.4v3.4M616.1 837.6H619.5M778.7 1054.4v3.4M616.1 893.8H619.5M837.9 1054.4v3.4M616.1 834.6H619.5M858.3 1054.4v3.4M616.1 814.2H619.5" fill="none" stroke="#111" stroke-width="1.0"/>
<rect x="671.30" y="1054.40" width="7.60" height="5.40" fill="#111"/>
<rect x="613.90" y="993.60" width="5.60" height="7.60" fill="#111"/>
<rect x="619.50" y="809.60" width="244.90" height="244.80" fill="none" stroke="#2a2a2a" stroke-width="1.35"/>
<line x1="687.80" y1="809.60" x2="687.80" y2="1054.40" stroke="#2a2a2a" stroke-width="1.25"/>
<line x1="613.30" y1="931.60" x2="864.40" y2="931.60" stroke="#2a2a2a" stroke-width="1.25"/>
<text x="104.30" y="577.80" font-size="22.20">49.6</text>
<text x="103.69" y="779.00" font-size="22.20">28.0</text>
<text x="109.11" y="840.30" font-size="22.20">0</text>
<text x="103.75" y="1041.80" font-size="22.20">99.1</text>
<text x="366.91" y="577.80" font-size="22.20">0.6</text>
<text x="366.69" y="779.00" font-size="22.20">24.6</text>
<text x="372.11" y="840.30" font-size="22.20">0</text>
<text x="366.75" y="1041.80" font-size="22.20">97.4</text>
<text x="629.55" y="577.80" font-size="22.20">9.5</text>
<text x="629.49" y="779.00" font-size="22.20">24.8</text>
<text x="635.71" y="840.30" font-size="22.20">0</text>
<text x="629.49" y="1041.80" font-size="22.20">76.9</text>
<text x="281.49" y="577.80" font-size="22.20">21.6</text>
<text x="281.71" y="779.00" font-size="22.20">0.8</text>
<text x="284.61" y="840.30" font-size="22.20">0.2</text>
<text x="284.61" y="1041.80" font-size="22.20">0.8</text>
<text x="546.69" y="577.80" font-size="22.20">66.7</text>
<text x="556.86" y="779.00" font-size="22.20">8.2</text>
<text x="573.11" y="840.30" font-size="22.20">0</text>
<text x="556.69" y="1041.80" font-size="22.20">2.6</text>
<text x="810.91" y="577.80" font-size="22.20">55.5</text>
<text x="810.74" y="779.00" font-size="22.20">10.2</text>
<text x="820.11" y="840.30" font-size="22.20">0.2</text>
<text x="808.19" y="1041.80" font-size="22.20">22.9</text>
<path d="M188.1 616.0L190.0 615.8L191.5 616.2L192.8 617.5L193.5 619.0L193.5 620.5L193.0 622.0L191.6 623.5L190.0 624.3L187.8 624.3L186.2 623.7L184.8 622.1L184.1 620.5L184.2 619.0L184.8 618.0L186.2 616.8ZM184.0 730.0L185.5 730.1L186.2 730.7L186.6 731.5L186.5 732.2L186.0 733.0L184.8 733.9L183.2 734.2L182.5 734.0L181.6 733.0L181.8 731.7L182.5 730.7ZM187.7 613.8L190.8 613.3L194.5 614.0L196.5 615.2L197.5 617.0L198.1 619.8L197.4 622.0L195.2 624.2L192.2 625.9L188.5 626.5L185.5 625.8L183.2 623.7L181.9 621.2L181.5 619.0L182.2 616.8L184.0 615.2ZM184.0 727.8L185.5 727.7L187.3 728.5L188.6 730.0L188.9 731.5L188.3 733.0L186.6 734.5L184.8 735.4L182.5 735.6L181.5 735.2L180.2 734.1L179.7 733.0L179.7 731.5L181.2 729.2L182.5 728.3ZM187.8 611.5L192.3 611.0L197.5 611.1L198.8 611.5L199.9 613.0L200.9 619.0L200.7 620.5L199.7 622.8L197.1 625.8L195.2 626.9L193.0 627.8L187.8 628.7L184.8 628.1L183.2 627.1L181.9 625.7L179.6 622.0L179.0 618.2L179.5 616.0L181.6 613.8L184.0 612.4ZM182.4 726.2L185.5 725.7L187.8 726.3L190.0 728.3L191.2 730.8L191.0 732.2L189.9 733.8L187.0 735.9L184.8 736.7L182.5 736.9L180.2 736.1L178.6 734.5L177.8 733.0L177.7 731.5L178.7 729.2L180.2 727.6ZM191.8 607.8L199.0 607.1L200.5 607.5L202.4 608.5L204.2 610.0L205.4 612.2L205.7 614.5L205.3 616.8L203.7 620.5L201.9 623.5L199.8 626.2L197.5 628.0L193.8 629.6L189.2 630.7L186.2 631.1L184.0 630.7L182.5 629.9L181.0 628.6L178.8 625.8L177.6 623.5L176.8 619.8L177.1 616.0L178.8 613.3L182.5 609.9L184.0 609.2L187.8 608.8ZM184.3 724.0L187.8 724.2L190.2 725.5L192.8 728.5L193.5 730.0L193.6 731.5L192.4 733.8L188.5 736.6L184.8 737.9L181.8 738.0L179.5 737.2L177.2 735.2L176.0 733.0L175.9 730.8L176.9 728.5L179.1 726.2L181.8 724.6ZM192.6 604.0L196.0 603.4L199.0 603.5L201.2 604.3L207.2 607.5L208.3 608.5L209.3 610.8L209.7 613.8L209.4 616.0L208.0 618.9L204.6 624.2L202.0 627.2L199.8 629.1L196.0 631.3L191.5 633.0L186.2 634.3L183.2 634.0L181.0 632.8L178.8 631.0L177.7 629.5L175.6 625.8L174.8 623.5L174.5 621.2L174.4 618.2L174.8 616.0L176.3 613.0L181.0 606.9L182.5 606.1L187.8 605.6ZM182.9 722.5L187.0 722.2L189.2 722.6L190.9 723.2L193.0 724.8L195.3 727.0L196.3 728.5L196.6 730.0L196.4 731.5L195.6 733.0L194.4 734.5L192.5 736.0L187.8 738.5L183.2 739.3L179.5 738.7L176.5 736.8L174.6 734.5L174.0 731.5L174.7 728.5L176.5 726.0L179.5 723.7ZM194.1 601.0L196.8 600.8L200.5 601.3L208.8 604.3L211.0 605.5L212.2 607.0L213.1 610.0L213.5 613.0L213.1 615.2L211.4 619.0L207.7 625.0L205.8 627.5L202.8 630.2L197.5 634.0L193.8 637.5L191.5 639.0L188.5 639.9L184.0 640.4L182.5 640.3L181.8 639.8L179.1 636.2L175.8 632.8L174.3 630.2L172.3 623.5L172.0 619.0L172.4 616.0L174.1 612.2L178.2 606.2L179.8 604.8L182.5 603.6L187.8 603.0ZM181.2 721.0L185.5 720.4L190.0 720.8L193.0 721.8L197.1 724.0L199.0 726.1L199.6 728.5L199.0 731.5L197.7 733.8L195.5 736.0L193.4 737.5L190.0 739.2L187.0 740.1L184.0 740.5L181.0 740.4L178.0 739.5L175.8 738.2L174.1 736.8L172.7 734.5L172.2 731.5L172.6 728.5L173.7 726.2L175.8 723.9L178.0 722.3ZM194.4 598.8L198.2 598.8L202.9 599.5L209.5 601.2L214.1 603.2L216.2 604.7L217.6 607.0L218.3 610.0L218.2 613.0L217.4 615.2L214.2 621.2L210.9 625.8L206.8 630.2L199.1 637.0L192.2 645.8L190.0 647.4L185.5 649.5L183.2 650.2L181.8 650.2L179.5 649.1L177.5 646.8L176.9 645.2L176.5 640.8L175.9 638.5L172.8 633.4L171.7 631.0L170.5 625.8L169.8 620.5L169.7 617.5L170.1 615.2L170.9 613.0L172.2 610.8L175.9 605.5L178.3 603.2L180.2 602.1L182.5 601.3L187.8 600.6ZM183.6 718.8L191.5 719.2L198.2 721.1L200.6 722.5L201.9 724.0L202.5 725.5L202.6 727.8L202.1 730.8L201.0 733.0L198.3 736.0L195.6 738.2L192.2 740.1L189.2 741.1L185.5 741.7L181.8 741.8L179.5 741.4L176.5 740.4L174.2 739.1L172.4 737.5L171.3 736.0L170.8 734.5L170.5 730.0L170.9 727.8L172.0 725.5L175.0 722.1L178.8 719.8L181.0 719.1ZM191.2 597.2L196.8 596.6L206.5 597.6L211.0 598.7L217.8 601.4L220.5 603.2L221.9 605.5L222.3 608.5L222.3 613.0L221.7 615.2L220.0 619.6L218.2 622.8L210.8 630.2L200.5 639.9L193.8 649.5L191.5 651.4L187.8 653.5L184.8 654.5L181.8 654.8L179.9 654.2L178.0 652.9L175.8 650.3L174.2 647.5L173.3 640.0L170.3 634.0L169.2 630.2L167.5 619.8L167.5 616.0L168.2 613.0L169.8 610.0L172.9 605.5L175.8 602.5L178.8 600.6L181.8 599.3ZM180.8 717.2L185.5 717.0L196.0 718.0L200.5 718.9L204.2 720.6L205.9 722.5L206.2 724.8L204.9 730.8L203.3 733.8L201.2 736.0L196.8 739.7L193.8 741.3L190.0 742.6L184.8 743.2L180.2 743.0L175.8 741.8L172.8 740.2L170.5 738.0L169.1 735.2L168.6 730.8L169.2 727.0L170.8 724.0L173.5 721.0L177.2 718.5ZM191.7 595.0L199.8 594.7L208.0 595.5L215.1 597.2L222.2 600.1L224.5 601.8L226.0 604.0L226.4 606.2L226.0 613.0L223.5 620.5L221.5 623.8L218.5 627.2L208.6 636.2L201.3 643.8L199.8 646.0L196.9 651.2L195.1 653.5L192.2 655.8L188.5 657.6L182.5 658.8L179.5 658.8L177.2 657.8L175.8 656.4L173.5 652.9L171.7 649.0L171.2 646.8L170.7 640.8L167.9 634.0L166.2 626.5L165.0 619.0L165.2 615.2L166.4 611.5L169.3 606.2L170.8 604.0L173.5 601.4L177.2 599.0L181.8 596.9L184.8 596.1ZM179.4 715.8L184.0 715.2L200.5 716.2L205.8 717.2L209.3 718.8L210.2 719.8L210.6 721.0L210.4 723.2L207.6 730.8L205.6 734.5L203.5 736.8L198.2 740.9L195.2 742.5L190.8 744.0L187.0 744.5L181.0 744.6L175.8 743.5L172.0 741.7L169.0 739.0L167.4 736.0L166.8 730.8L167.3 727.0L169.2 723.2L172.0 720.0L175.7 717.3ZM193.8 592.8L202.0 592.7L208.0 593.3L216.2 595.1L223.0 597.4L227.5 600.2L229.5 602.5L230.5 605.5L230.7 608.5L230.5 610.8L229.9 613.0L226.2 621.2L223.9 625.0L219.6 630.2L210.7 638.5L204.2 645.2L202.0 648.2L199.0 653.6L196.6 656.5L193.0 659.5L189.2 661.6L181.8 663.3L178.0 663.1L175.8 662.2L174.2 660.8L171.1 655.0L169.6 651.2L168.9 648.2L168.2 642.2L165.9 634.8L162.9 621.2L162.5 617.5L162.9 614.5L164.3 610.8L167.8 604.0L169.8 601.5L173.5 598.5L177.2 596.3L183.2 594.0L187.8 593.2ZM181.3 713.5L184.0 713.4L205.0 714.2L210.2 715.3L211.8 716.0L213.2 717.2L214.4 719.5L214.6 721.0L214.3 722.5L209.1 733.0L205.8 737.6L202.8 740.0L197.5 743.3L192.2 745.3L188.5 746.0L181.8 746.2L177.2 745.5L172.8 744.1L169.0 741.5L166.5 738.2L165.4 735.2L165.0 730.0L165.2 727.8L165.9 725.5L168.7 721.0L172.0 717.7L176.5 714.9L178.8 714.0ZM185.1 591.2L191.5 590.7L205.0 590.8L213.2 592.2L222.2 594.5L229.1 598.0L231.2 599.5L232.6 601.0L233.6 602.5L234.4 604.8L234.6 609.2L234.2 611.5L233.3 613.8L227.3 625.0L221.5 632.0L215.5 637.6L208.0 645.4L205.0 649.3L201.6 655.0L199.8 657.5L196.8 660.4L191.5 664.4L189.2 665.5L184.0 667.3L182.2 668.5L180.6 670.0L179.7 671.5L179.6 673.0L179.8 674.5L181.3 679.0L181.6 681.2L181.0 688.8L180.4 691.0L179.5 692.6L178.0 694.3L176.5 694.9L175.0 694.2L173.5 692.6L172.4 690.2L172.0 688.0L172.5 681.2L174.8 672.2L174.9 669.2L171.7 663.2L167.2 652.8L165.4 642.2L161.3 625.8L160.3 620.5L160.3 616.8L161.0 613.0L162.2 610.0L165.6 603.2L167.8 600.2L172.0 596.8L175.0 594.9L181.0 592.3ZM301.1 616.0L303.2 615.3L305.2 616.0L307.8 619.4L310.6 622.0L311.3 623.5L310.9 631.8L311.6 636.2L311.5 638.5L310.5 640.8L308.9 643.0L307.2 644.5L305.5 645.2L303.2 645.1L300.8 643.8L299.0 641.5L298.0 638.2L297.8 635.5L298.4 629.5L298.3 621.2L299.5 617.8ZM178.1 712.0L182.5 711.3L190.8 712.0L205.0 711.8L210.2 712.5L214.0 713.8L216.3 715.8L217.9 718.8L218.1 720.2L217.9 721.8L212.8 731.5L209.9 736.0L207.2 739.3L204.2 741.6L198.2 744.8L190.8 747.3L182.5 747.8L176.5 746.9L173.5 746.1L170.5 744.7L168.2 743.0L166.5 741.2L164.9 739.0L163.6 736.0L163.1 733.0L163.0 730.0L163.4 727.0L164.1 724.8L165.2 722.5L166.8 720.2L169.8 717.1L172.8 714.6L175.0 713.2ZM184.1 589.0L190.0 588.5L205.0 588.8L213.2 590.1L223.0 592.4L231.2 596.3L234.6 598.8L236.5 601.0L237.6 603.2L238.2 605.5L238.3 607.8L237.6 611.5L236.3 615.2L230.8 625.0L229.0 627.5L212.4 645.2L207.7 651.2L203.8 657.2L201.2 660.2L193.0 666.6L187.0 670.0L185.3 671.5L184.5 673.0L184.2 674.5L184.2 682.0L183.8 689.5L183.2 692.5L181.8 697.1L180.2 700.4L178.8 701.8L177.2 702.1L175.0 701.0L173.5 699.2L172.0 696.2L170.5 691.8L169.8 685.7L171.0 673.8L170.9 670.0L167.8 660.2L165.2 655.0L164.5 652.8L163.0 643.1L159.2 627.2L158.3 621.2L158.2 617.5L158.6 613.8L159.8 610.0L163.4 602.5L166.0 598.8L169.0 596.2L173.5 593.1L180.2 590.0ZM300.5 609.2L302.5 608.7L304.8 608.9L308.7 610.8L311.5 612.6L313.0 614.2L314.0 616.0L315.2 619.3L315.8 622.0L315.4 629.5L315.6 637.8L314.6 642.2L313.5 644.5L311.5 646.8L308.5 648.7L305.5 649.6L303.2 649.5L301.0 648.8L298.8 647.6L297.2 646.3L295.8 644.5L295.1 643.0L293.9 637.8L293.7 633.2L294.1 621.2L294.5 618.2L295.6 615.2L297.2 612.3L298.8 610.6ZM177.0 709.0L178.8 708.4L181.0 708.3L190.0 710.0L206.5 709.7L209.5 710.0L212.5 710.7L217.0 712.6L219.2 714.6L221.1 718.0L221.3 719.5L221.0 721.8L219.6 724.8L211.7 737.5L208.4 741.2L205.0 743.6L197.5 746.9L193.0 748.4L190.0 749.1L181.0 749.3L173.5 747.7L170.5 746.5L168.2 745.1L166.0 743.2L163.8 740.5L162.5 738.2L161.4 735.2L160.9 732.2L161.0 729.2L162.2 724.0L164.3 720.2L167.5 716.5L171.2 712.9L174.2 710.5ZM183.3 586.8L190.0 586.4L199.8 586.5L205.8 587.0L216.2 588.6L224.5 590.7L232.8 594.3L236.5 596.8L238.2 598.8L240.6 602.5L241.5 604.8L241.8 607.0L241.1 610.8L238.7 617.5L231.4 628.8L223.5 637.8L216.3 645.0L204.4 661.0L200.5 664.7L189.2 672.4L187.7 674.5L186.9 677.5L185.7 691.0L183.8 701.5L183.9 703.8L184.6 705.2L186.4 706.8L190.0 707.9L193.8 708.1L208.8 707.9L213.2 708.7L218.4 710.5L221.5 712.8L223.7 716.5L224.3 719.5L223.4 723.2L221.9 726.2L214.0 738.2L211.0 741.7L208.0 744.2L201.2 747.5L193.8 750.0L190.0 750.7L183.2 751.1L179.5 750.8L174.2 749.7L170.5 748.3L167.5 746.7L164.6 744.3L162.1 741.2L160.4 738.2L159.1 734.5L158.8 731.5L159.1 727.8L159.7 724.8L160.8 721.8L162.8 718.8L171.4 709.0L172.4 706.8L172.5 705.2L169.4 695.5L168.5 690.2L168.1 685.0L168.8 674.5L168.6 670.8L165.7 661.8L162.9 655.8L161.9 652.8L160.8 644.2L159.0 635.5L157.2 628.8L156.3 622.0L156.2 618.2L156.5 613.8L157.5 610.0L161.2 601.8L163.8 597.8L166.8 594.9L171.2 591.6L178.8 588.1ZM298.7 604.8L301.8 604.3L304.0 604.6L306.2 605.3L313.0 608.6L314.7 610.0L317.0 613.0L318.2 615.2L318.7 617.5L319.2 622.8L318.8 628.8L319.0 635.5L318.5 640.8L317.9 643.8L316.8 646.0L314.4 648.3L310.0 651.1L306.2 652.3L303.2 652.5L300.2 652.2L298.0 651.6L295.6 650.5L293.5 649.0L292.3 647.5L291.3 645.2L290.8 643.0L290.5 639.2L290.7 627.2L291.5 617.5L295.3 607.0L296.5 605.7ZM183.0 584.5L186.2 584.2L198.2 584.4L207.2 585.2L217.0 586.6L226.8 589.2L235.0 592.9L238.8 595.3L240.5 597.2L243.5 601.8L244.5 604.0L245.1 607.0L244.5 610.8L241.3 619.0L234.1 629.5L225.2 639.9L218.5 646.3L215.9 649.8L211.0 657.3L206.2 663.2L202.8 666.4L195.2 671.3L190.8 674.9L189.2 677.6L188.3 681.3L186.6 700.0L186.9 702.2L187.8 704.0L189.5 705.2L192.1 706.0L210.2 706.2L217.0 707.7L220.8 709.2L222.7 710.5L224.2 712.0L226.4 715.8L227.1 719.5L226.8 721.8L226.1 724.0L224.0 727.8L216.4 739.0L213.0 742.8L209.5 745.6L202.8 749.0L194.5 751.6L190.8 752.3L182.5 752.8L178.0 752.3L173.5 751.3L169.8 749.9L166.0 747.8L162.8 745.0L160.2 742.0L158.2 738.2L157.0 734.5L156.7 731.5L156.7 728.5L157.2 725.5L158.2 722.5L160.6 718.0L168.2 709.0L169.2 706.8L169.4 704.5L167.5 694.8L167.0 691.0L166.6 685.0L166.9 675.2L166.6 671.5L165.4 667.0L160.7 656.5L159.8 653.5L157.6 640.0L155.0 628.8L154.3 622.0L154.1 616.0L154.6 611.5L157.9 603.2L159.7 599.5L162.7 595.8L166.8 591.9L170.5 589.2L178.0 585.9ZM296.1 601.8L300.2 601.3L304.0 601.5L307.0 602.4L313.8 605.3L316.1 607.0L319.2 610.8L320.6 613.0L321.7 616.0L322.2 621.2L321.9 629.5L322.0 635.5L321.6 640.8L320.7 644.5L319.6 646.8L317.5 649.2L311.5 653.2L308.5 654.4L301.8 655.1L297.2 654.8L289.0 651.7L287.2 650.5L286.4 649.0L288.5 619.0L290.1 610.8L289.3 605.5L290.3 604.0L291.5 603.2ZM270.1 638.5L271.8 638.3L274.0 639.1L275.5 640.4L276.8 642.2L277.5 644.5L277.4 646.8L276.7 648.2L275.7 649.0L274.0 649.3L271.8 648.7L270.1 647.5L268.5 645.2L267.8 643.0L268.0 640.9L268.8 639.5ZM183.2 582.2L197.5 582.3L208.8 583.3L218.5 584.8L229.0 587.7L238.0 591.8L241.5 594.2L245.0 598.8L246.9 601.8L247.9 604.8L248.2 607.8L247.5 611.5L245.1 618.2L243.0 622.0L237.9 629.5L232.2 635.5L227.9 640.8L220.0 648.4L217.8 651.4L212.7 659.5L208.5 664.8L203.5 669.1L195.2 674.5L192.5 676.8L191.0 679.0L190.0 682.4L188.9 697.8L189.2 700.7L190.1 702.2L192.2 703.7L194.5 704.2L202.0 704.6L209.5 704.5L213.2 704.9L219.2 706.4L223.0 708.1L226.8 711.2L228.4 713.5L229.4 715.8L229.8 718.0L229.8 720.2L228.6 724.8L227.0 727.8L218.4 740.5L214.8 744.2L211.0 747.0L203.5 750.8L195.2 753.2L191.5 753.9L182.5 754.6L178.0 754.2L172.8 753.0L168.2 751.1L164.5 749.0L160.7 745.8L158.1 742.8L156.1 739.0L154.9 735.2L154.4 732.2L154.3 729.2L154.7 726.2L155.6 723.2L158.5 717.2L166.0 708.0L166.8 706.0L167.1 703.0L165.7 692.5L165.2 685.0L165.2 676.0L164.8 672.2L163.8 668.3L159.0 658.0L157.6 653.5L155.5 640.4L152.9 629.5L151.9 615.2L152.5 610.8L156.7 600.2L158.5 597.2L161.1 594.2L166.0 589.6L169.8 587.0L178.0 583.4ZM294.6 599.5L301.0 598.9L304.8 599.2L308.5 600.1L314.5 602.7L317.5 604.9L320.9 608.5L322.9 611.5L324.4 615.2L325.0 620.5L324.6 630.2L324.7 637.0L324.3 640.8L323.4 644.5L321.6 648.2L319.0 651.1L313.8 654.7L310.0 656.3L302.5 657.4L298.0 657.4L290.5 655.8L279.2 654.1L273.2 653.5L270.6 652.8L267.1 650.5L265.0 647.7L264.0 644.5L263.5 638.5L262.7 637.0L260.5 635.5L253.8 633.1L251.9 631.8L251.6 631.0L251.7 630.2L252.4 629.5L255.2 628.3L259.8 627.7L263.6 628.0L267.2 629.2L271.8 631.6L280.0 637.7L281.5 638.0L282.2 637.7L283.8 635.7L284.8 631.8L286.5 612.2L286.2 610.8L285.2 609.3L280.6 605.5L280.0 604.0L280.4 603.2L281.4 602.5L283.0 601.9Z" fill="none" stroke="#000" stroke-width="1.3" stroke-linejoin="round"/>
<path d="M559.0 612.2L560.8 612.6L562.4 613.8L562.9 615.2L562.2 617.6L560.8 619.4L558.5 620.7L555.5 621.0L553.4 620.5L552.5 619.1L552.2 617.5L552.1 616.0L552.7 614.5L555.4 613.0ZM556.7 610.8L559.2 610.4L560.8 610.5L562.2 611.0L563.8 611.9L564.6 613.0L565.0 614.5L564.5 617.5L562.2 620.7L559.5 622.8L553.2 624.2L551.0 623.9L549.5 622.6L548.6 620.5L548.6 616.0L549.2 613.8L551.0 612.2ZM558.6 608.5L560.8 608.6L563.0 609.2L564.9 610.0L566.0 611.0L566.7 612.2L567.1 614.5L566.9 616.8L566.4 618.2L563.8 622.0L560.8 624.6L552.5 627.2L550.2 626.9L547.5 625.0L545.8 622.8L542.7 616.0L542.8 614.1L544.5 612.2L548.0 610.3ZM549.8 607.0L560.0 606.6L565.2 607.8L566.9 608.5L568.2 609.9L569.0 611.5L569.4 613.8L569.2 616.8L568.4 619.0L566.8 621.5L564.3 624.2L562.2 626.0L560.0 627.5L551.8 630.4L550.2 630.3L548.8 629.7L544.3 625.8L539.0 617.5L537.9 614.5L538.3 612.2L539.9 610.8L546.2 607.8ZM441.0 724.8L444.5 724.5L449.0 725.6L450.3 726.2L450.9 727.0L451.2 727.8L451.0 729.2L449.7 730.8L448.5 731.5L446.8 732.1L441.5 732.3L439.2 731.7L437.8 730.0L437.8 728.2L438.7 726.2ZM545.9 604.8L551.8 604.2L560.8 604.8L566.8 605.9L568.2 606.5L569.8 607.8L570.8 609.2L572.0 612.2L572.3 614.5L571.6 617.5L569.9 620.5L566.9 624.2L563.0 628.0L560.8 629.7L552.5 633.4L549.5 633.8L548.0 633.5L546.5 632.6L545.0 631.1L537.5 621.2L533.8 618.0L531.5 616.5L521.8 614.0L520.2 614.2L516.5 615.6L515.0 615.5L514.1 614.5L514.2 613.7L515.8 612.1L518.0 610.8L520.4 610.0L523.1 609.2L529.2 608.2L534.5 606.4L540.5 606.0ZM442.2 722.5L448.5 722.5L452.0 723.3L453.5 724.6L454.5 726.2L454.6 728.5L453.9 730.0L451.6 732.2L448.2 733.8L440.8 734.5L437.8 733.7L435.9 732.2L435.1 730.8L434.9 729.2L435.5 727.0L436.4 725.5L437.9 724.0L440.0 723.0ZM545.0 602.5L552.5 601.8L562.2 602.9L568.3 604.0L570.5 605.2L572.4 607.0L573.8 609.2L574.7 612.2L574.6 615.2L573.4 619.0L572.0 621.2L568.0 625.8L563.8 630.2L561.5 632.0L551.0 637.5L547.2 638.0L545.8 637.7L544.2 636.9L542.5 634.8L540.2 629.5L538.2 627.1L534.5 624.1L528.5 620.9L525.5 619.7L523.2 619.3L516.5 619.7L512.8 619.2L509.5 617.5L508.0 615.2L508.0 613.0L509.4 610.8L512.8 608.6L516.5 607.0L520.2 606.0L527.0 605.3L532.2 603.9ZM440.8 721.0L443.8 720.5L447.5 720.5L451.2 720.9L453.6 721.8L455.5 723.2L457.1 725.5L457.3 727.8L456.4 730.0L455.0 731.8L452.7 733.5L450.5 734.8L448.2 735.5L440.0 736.2L438.3 736.0L436.2 735.1L434.3 733.8L433.1 732.2L432.5 730.0L432.8 727.8L433.8 725.5L435.7 723.2L437.8 722.0ZM547.4 600.2L554.0 599.9L565.2 601.1L569.0 602.1L572.0 603.7L574.2 605.8L575.9 608.5L576.7 611.5L576.7 614.5L575.9 617.5L574.3 621.2L572.8 623.5L566.0 631.0L563.0 633.8L551.8 641.6L545.8 643.4L543.5 643.1L542.0 641.8L540.5 639.6L536.4 631.0L535.2 629.5L533.0 627.8L528.5 624.9L525.5 623.7L512.8 622.2L509.8 621.6L506.7 619.8L505.3 618.2L504.5 616.8L504.3 613.8L504.8 611.5L505.6 610.0L508.2 607.5L512.8 605.2L518.0 603.6L524.8 602.8L530.0 601.7L536.0 601.5L541.2 600.7ZM444.0 718.8L451.2 719.1L455.0 720.4L457.1 721.8L459.6 724.0L460.4 725.5L460.2 727.8L458.3 730.8L456.1 733.0L453.5 734.9L450.5 736.4L447.5 737.2L440.8 737.8L438.5 737.8L436.2 737.1L432.0 734.5L430.3 732.2L430.0 730.8L430.1 729.2L430.9 726.2L432.9 723.2L435.5 721.2L439.2 719.6ZM540.0 598.8L553.2 598.1L562.2 598.7L567.5 599.6L572.0 601.4L575.0 603.6L577.2 606.7L578.3 610.0L578.5 613.8L578.0 616.7L576.3 621.2L574.2 624.8L566.3 634.0L557.0 642.2L550.2 649.8L548.0 651.3L546.5 651.2L545.0 650.6L542.8 649.1L541.0 647.5L538.9 644.5L535.7 637.8L533.1 633.2L531.5 631.6L527.0 627.9L525.5 626.9L523.2 626.1L511.2 625.2L508.2 624.5L506.0 623.1L503.8 621.1L502.1 619.0L501.2 616.8L501.1 615.2L501.4 613.0L502.1 610.8L503.3 608.5L506.0 605.8L509.8 603.7L513.5 602.3L517.2 601.4L529.2 599.7L535.5 599.5ZM442.0 717.2L445.2 717.0L450.5 717.4L453.5 717.9L455.8 718.7L461.2 721.8L463.1 723.2L464.6 725.5L464.5 727.0L462.9 729.2L456.8 734.5L453.5 736.6L450.5 737.9L446.7 738.8L439.2 739.4L437.0 739.1L434.8 738.3L430.5 736.0L428.2 733.8L427.6 732.2L427.4 730.8L428.1 727.0L430.3 723.2L433.2 720.5L437.0 718.6ZM549.2 596.5L559.2 596.6L564.5 597.2L569.0 598.2L573.5 600.2L576.5 602.4L578.7 605.5L579.8 608.5L580.2 613.0L579.8 616.0L578.7 619.8L576.8 624.2L575.0 627.2L572.1 631.0L565.2 638.5L560.3 644.5L551.0 657.5L549.5 659.1L548.8 659.5L547.2 659.7L545.0 659.0L542.8 657.5L537.5 650.9L535.9 648.2L533.1 640.8L531.3 637.0L529.8 634.8L525.5 630.5L524.0 629.4L521.8 628.6L510.5 627.9L506.8 626.7L503.4 624.2L500.0 620.5L498.8 618.2L498.4 615.2L499.3 610.8L501.5 606.9L503.0 605.3L505.2 603.5L509.8 601.3L515.8 599.7L526.2 598.1L535.2 597.6L540.5 596.8ZM440.8 715.8L443.8 715.4L447.5 715.5L452.8 716.2L455.8 717.0L464.3 720.2L467.3 721.8L470.0 724.0L470.2 725.5L469.4 727.0L467.2 729.2L456.5 736.6L452.0 738.9L447.5 740.2L440.8 740.8L437.8 740.8L434.8 740.1L429.0 737.5L426.4 735.2L425.6 733.8L425.0 731.5L425.3 727.8L427.0 724.0L429.0 721.7L431.0 720.0L434.8 717.7ZM541.6 595.0L551.8 594.8L560.8 595.0L566.0 595.7L570.5 597.0L575.0 598.9L578.0 601.3L580.6 605.5L581.7 610.0L581.8 613.8L581.2 617.5L579.1 623.5L577.2 627.4L574.4 631.8L566.2 641.5L561.4 649.8L554.7 659.5L551.0 666.7L549.5 668.2L548.0 668.7L545.8 668.3L542.8 666.1L535.2 655.8L532.7 651.2L528.2 638.5L526.9 636.2L525.0 634.0L523.2 632.5L521.0 631.4L509.0 630.0L505.3 628.5L502.2 626.3L498.5 622.3L496.9 619.8L496.1 616.8L496.4 612.2L497.1 610.0L498.2 607.8L499.9 605.5L502.1 603.2L506.0 600.7L511.2 598.9L524.0 596.6ZM440.1 714.2L446.0 713.8L453.5 714.7L471.5 719.9L479.1 721.8L480.2 722.5L480.3 723.2L478.7 724.8L463.7 733.8L458.0 737.6L452.8 740.1L449.0 741.4L445.2 741.9L439.2 742.4L434.8 741.8L428.8 739.6L426.5 738.2L424.9 736.8L423.5 734.5L422.8 732.2L422.6 730.0L422.8 727.8L423.6 725.5L425.0 723.2L427.0 721.0L429.5 718.8L433.2 716.6ZM539.4 593.5L548.0 593.1L559.2 593.3L566.0 594.0L571.2 595.4L575.8 597.2L578.8 599.5L581.7 604.0L582.9 607.0L583.3 609.2L583.4 613.0L583.0 616.8L582.0 620.5L579.9 626.5L576.9 631.8L569.3 641.5L564.6 650.5L558.0 661.0L556.1 665.5L555.2 672.2L554.5 674.5L552.5 678.4L551.1 679.8L550.2 680.1L549.5 680.1L548.0 679.4L543.8 675.2L536.0 663.1L531.4 657.2L529.7 653.5L527.6 645.2L525.0 639.2L523.2 636.7L521.0 634.8L519.2 634.0L516.3 633.2L508.2 632.0L505.2 630.9L503.0 629.7L500.0 627.1L496.3 622.8L495.0 620.5L494.2 617.5L494.3 612.2L494.8 610.0L495.7 607.8L497.3 605.5L500.0 602.6L502.2 600.7L504.5 599.3L509.0 597.6L523.2 594.9ZM439.7 712.8L445.2 712.1L451.2 712.6L460.5 715.0L471.5 717.4L484.2 718.9L486.1 719.5L487.2 720.2L487.7 721.8L487.1 723.2L484.3 725.5L475.2 729.7L467.4 733.8L458.8 739.0L455.0 740.8L450.5 742.5L446.0 743.4L439.2 743.8L434.0 743.2L431.0 742.5L428.0 741.3L425.2 739.8L423.4 738.2L421.8 736.0L420.8 733.8L420.2 730.8L420.4 727.8L421.2 725.5L423.0 722.5L424.9 720.2L427.5 718.0L431.8 715.4ZM538.0 592.0L545.8 591.5L557.8 591.6L566.8 592.5L572.8 594.1L577.2 596.1L580.4 598.8L581.9 601.0L583.5 604.0L584.9 609.2L585.1 613.0L584.5 617.5L581.6 627.2L578.3 633.2L572.0 641.8L568.5 649.0L560.8 662.5L559.2 667.0L557.0 679.8L555.5 684.2L554.0 685.9L552.5 686.7L551.0 687.0L549.5 686.9L548.0 686.4L545.6 684.2L541.2 678.0L537.8 671.5L534.5 666.6L528.6 659.5L527.0 655.8L524.7 646.0L523.1 642.2L521.0 639.3L519.4 637.8L516.6 636.2L505.2 633.2L503.0 632.2L500.8 630.8L497.9 628.0L494.5 623.5L493.0 620.5L492.3 617.5L492.3 612.2L492.9 609.2L493.8 607.0L495.4 604.8L498.5 601.4L500.7 599.5L503.0 598.0L508.2 596.0L522.5 593.4ZM444.1 710.5L447.5 710.4L451.2 710.8L460.2 713.2L471.5 715.4L488.8 716.8L491.0 717.5L492.5 718.5L493.2 719.5L493.2 721.0L492.4 722.5L491.0 724.0L487.7 726.2L469.8 734.5L460.2 740.1L455.8 742.3L449.8 744.2L444.5 745.1L438.5 745.3L431.8 744.5L428.0 743.3L424.2 741.5L421.9 739.8L419.9 737.5L418.7 735.2L417.9 732.2L417.7 729.2L418.4 726.2L419.8 723.2L422.1 720.2L425.0 717.5L428.4 715.0L431.0 713.8L437.8 711.6ZM536.3 590.5L544.2 589.9L555.5 589.8L566.8 590.9L572.8 592.3L578.0 594.7L580.2 596.3L581.8 598.0L583.3 600.2L584.8 603.2L585.9 606.2L586.5 609.2L586.7 613.0L586.4 616.0L585.4 621.2L583.7 627.2L580.6 633.2L574.2 642.5L571.3 649.0L563.8 662.7L561.5 669.8L559.4 683.5L558.5 686.9L557.8 688.3L556.2 689.9L553.2 691.8L551.0 692.6L549.5 692.6L548.0 692.1L545.8 690.5L544.2 688.8L534.9 672.2L531.5 667.6L527.7 663.2L525.5 660.2L523.8 656.5L520.9 645.2L518.8 641.6L517.0 640.0L514.6 638.5L511.0 637.0L503.0 634.6L500.8 633.5L498.5 631.9L495.7 628.8L492.7 624.2L491.4 621.2L490.4 617.5L490.2 614.5L490.4 611.5L491.0 608.5L491.9 606.2L493.4 604.0L496.2 600.9L498.5 598.8L500.7 597.2L504.5 595.4L508.2 594.2L524.0 591.5ZM442.3 709.0L447.5 708.7L451.2 709.0L460.2 711.3L472.3 713.6L489.5 714.4L493.2 714.9L495.5 715.6L497.0 716.6L498.0 718.0L498.1 720.2L497.5 721.8L496.2 723.2L491.8 726.4L472.2 735.2L461.0 741.7L456.5 743.7L450.5 745.6L443.8 746.7L438.5 746.8L431.0 746.1L428.0 745.2L422.8 743.0L420.3 741.2L418.1 739.0L416.2 736.0L415.3 733.0L415.2 729.2L415.8 726.2L417.5 722.5L419.7 719.5L422.1 717.2L426.5 713.9L431.0 711.8L437.8 709.8ZM544.0 588.2L554.8 588.2L567.5 589.4L572.8 590.5L578.0 592.9L580.2 594.3L582.5 596.5L584.2 598.8L585.9 601.8L587.8 607.8L588.2 613.8L587.8 617.5L586.6 623.5L584.4 630.2L581.5 635.5L576.5 643.3L573.3 650.5L567.0 661.8L565.4 665.5L563.3 673.0L561.7 685.8L560.2 690.2L557.9 693.2L554.8 695.8L551.8 697.2L547.2 698.2L545.8 698.9L544.6 700.0L542.0 704.0L541.2 704.7L539.8 705.0L539.0 704.7L538.2 703.9L537.8 702.2L538.1 700.0L540.2 695.5L540.8 693.2L540.6 690.2L539.7 687.2L536.7 680.5L533.8 675.3L523.7 662.5L521.7 659.5L520.6 656.5L518.6 648.2L517.4 645.2L515.7 643.0L512.8 640.7L509.0 638.8L500.8 635.9L497.8 634.0L495.4 631.8L492.1 627.2L489.9 622.8L488.5 617.5L488.2 613.0L488.5 610.0L489.4 607.0L490.5 604.8L492.0 602.5L497.3 597.2L499.2 596.0L503.7 593.9L508.2 592.5L523.2 590.0ZM440.4 707.5L446.8 707.0L451.2 707.1L473.0 711.9L497.0 712.8L499.2 713.6L500.5 715.0L501.6 717.2L501.5 719.5L500.6 721.8L499.4 723.2L497.0 725.3L494.0 727.2L474.5 736.0L463.2 742.4L458.8 744.6L452.0 746.9L444.5 748.2L439.2 748.4L431.0 747.9L427.2 746.9L421.2 744.5L418.5 742.8L416.2 740.5L414.1 737.5L413.0 734.5L412.5 730.8L412.9 727.0L414.3 723.2L416.7 719.5L419.0 717.0L423.5 713.5L426.5 711.6L429.5 710.3L435.5 708.5ZM542.2 586.8L554.0 586.5L566.8 587.7L572.8 588.8L578.8 591.5L581.0 593.0L583.2 595.0L585.0 597.2L586.8 600.2L589.0 606.2L589.6 610.0L589.8 613.8L588.7 622.0L587.5 627.2L586.4 630.2L583.5 636.2L578.6 644.5L575.1 652.8L569.0 663.2L566.8 668.5L565.3 675.2L563.7 687.2L561.8 693.2L560.0 695.9L557.8 697.9L549.4 702.2L548.0 703.8L545.8 708.0L544.5 709.8L542.8 711.0L541.2 711.4L539.0 710.7L536.8 709.0L535.2 706.8L534.3 704.5L534.0 702.2L534.3 699.2L536.8 691.8L537.0 689.5L536.3 685.8L533.7 679.8L530.8 675.3L525.5 669.2L519.5 661.0L517.6 656.5L515.9 649.0L513.8 645.2L511.5 643.0L509.1 641.5L500.8 638.1L497.8 636.4L494.8 634.0L492.2 631.0L489.8 627.2L488.1 623.5L486.7 618.2L486.1 613.8L486.8 608.5L487.6 606.2L489.1 603.2L491.4 600.2L494.4 597.2L497.0 595.3L499.2 594.1L506.0 591.3L515.8 589.4L527.8 587.9ZM512.0 698.5L513.5 698.2L515.0 698.4L515.3 699.2L515.2 700.0L513.8 702.2L511.6 704.5L505.2 709.0L503.6 710.5L503.3 711.2L503.2 712.8L504.3 717.3L504.1 719.5L502.7 722.5L500.6 724.8L497.8 726.8L493.2 729.4L475.2 737.5L464.0 744.1L455.8 747.5L450.5 748.9L443.0 750.1L434.0 750.0L429.5 749.4L421.2 746.8L417.5 744.8L413.5 741.2L412.0 739.0L410.9 736.8L409.8 732.2L409.7 728.5L410.5 725.5L412.5 721.8L415.1 718.0L418.2 714.8L423.5 711.1L428.0 708.9L437.8 706.0L442.2 705.5L449.0 705.1L455.8 705.8L465.5 708.5L473.0 710.0L485.0 710.9L493.2 710.8L496.2 710.2L498.9 709.0L506.0 702.0L509.0 699.9Z" fill="none" stroke="#000" stroke-width="1.3" stroke-linejoin="round"/>
<path d="M677.1 697.0L678.2 696.5L679.0 696.5L680.4 697.0L681.1 697.8L681.4 698.5L681.3 700.0L679.8 701.8L678.2 702.2L677.5 702.1L676.8 701.7L676.0 700.8L676.0 698.6ZM676.8 695.5L678.2 695.0L680.5 695.4L681.9 696.2L682.9 697.8L683.0 699.2L682.6 700.8L681.5 702.2L679.8 703.4L678.2 703.7L676.8 703.4L675.2 702.4L674.7 701.5L674.5 700.0L674.7 698.5L675.3 697.0ZM701.5 610.7L704.5 610.3L707.5 610.5L710.2 611.5L713.5 613.5L714.2 613.5L715.0 612.9L717.4 610.8L719.5 610.1L721.0 610.2L722.5 610.6L724.1 611.5L724.8 612.3L725.2 613.8L724.4 615.2L721.9 616.8L718.7 618.2L713.7 619.8L709.8 620.1L700.8 619.5L695.5 618.2L693.7 616.8L693.2 615.2L693.8 613.8L695.5 612.4ZM676.8 694.0L679.0 693.7L682.0 694.5L683.5 695.6L684.6 697.8L684.7 700.0L683.6 702.2L682.0 704.0L679.8 705.1L677.5 705.2L675.5 704.5L673.9 703.0L673.3 701.5L673.2 699.2L673.9 697.0L675.2 695.0ZM706.7 607.8L713.5 607.6L719.5 607.1L723.6 607.8L726.3 609.4L728.8 612.2L729.7 614.5L729.3 616.8L728.3 618.2L726.2 619.7L718.8 622.3L716.5 622.8L701.5 622.3L693.2 620.6L691.0 618.8L689.4 616.0L689.7 613.8L691.2 611.5L693.3 610.0L696.2 608.9ZM677.1 692.5L680.5 692.4L683.5 693.4L685.6 695.5L686.5 697.8L686.3 700.7L685.2 703.0L682.1 706.0L679.8 707.0L676.8 706.7L674.5 705.6L672.8 703.8L672.0 701.5L672.1 698.5L673.0 696.0L674.5 694.0ZM715.9 604.8L721.0 604.6L725.5 605.8L727.6 607.0L731.6 610.0L733.3 612.2L733.5 613.8L733.2 615.2L731.1 619.8L727.8 623.6L725.5 625.0L717.2 625.8L711.2 625.1L703.0 625.1L697.0 624.2L692.5 623.9L691.0 623.3L689.5 622.0L685.8 617.1L685.5 614.5L686.7 611.5L688.8 609.6L692.5 607.7L697.0 606.4ZM677.7 691.0L682.0 691.1L685.0 692.2L687.3 694.8L688.3 697.8L688.1 700.8L686.5 704.0L682.8 707.7L681.2 708.6L679.8 709.0L676.8 708.6L673.8 707.0L671.7 704.5L670.8 701.5L671.0 697.8L672.3 694.8L674.5 692.3L676.0 691.5ZM715.2 602.5L718.8 602.2L721.8 602.5L733.0 605.5L735.7 607.0L737.5 610.0L738.2 612.2L738.0 613.8L737.5 614.9L730.9 625.0L729.2 626.8L727.0 628.4L724.0 629.5L720.2 629.8L711.2 628.5L702.2 628.2L696.2 627.3L691.8 627.1L689.5 626.3L688.0 625.1L683.9 619.0L682.9 616.0L683.2 612.2L684.3 609.2L685.0 608.3L686.5 607.2L695.5 604.6L703.8 604.0ZM678.0 689.5L682.8 689.3L685.8 690.5L688.0 692.3L689.3 694.0L690.3 697.0L689.9 700.8L688.0 704.5L683.5 709.2L681.4 710.5L679.8 710.9L678.2 710.9L676.0 710.4L673.0 708.5L670.5 705.2L669.5 701.5L669.9 697.0L671.5 693.7L673.0 691.9L674.5 690.8ZM712.0 601.0L717.2 600.3L721.8 600.6L733.8 603.0L736.7 604.1L738.5 605.5L739.5 607.0L741.0 610.8L741.2 613.8L739.9 616.8L735.1 625.0L733.0 628.0L730.0 630.6L725.5 633.3L723.2 634.0L709.0 631.9L695.5 630.9L691.0 631.0L688.8 630.2L687.2 628.8L685.8 626.7L682.6 621.2L681.4 618.2L680.9 615.2L681.0 612.2L681.6 609.2L682.8 607.0L685.0 605.0L688.8 603.7L696.2 602.5L703.8 602.0ZM677.6 688.0L682.0 687.3L684.2 687.6L685.8 688.2L688.0 689.6L691.0 692.1L692.3 694.0L692.7 695.5L692.5 697.8L691.7 700.8L689.3 705.2L686.7 708.2L684.2 710.6L682.0 712.1L679.8 712.7L676.0 712.3L674.5 711.7L672.8 710.5L669.8 706.8L668.8 704.5L668.4 702.2L668.3 699.2L668.6 697.0L670.3 693.2L672.1 691.0L673.8 689.6ZM715.3 598.8L721.0 598.8L733.8 600.8L739.0 602.5L740.5 603.6L741.9 605.5L744.0 611.5L744.2 613.8L743.8 616.0L740.7 625.0L735.2 633.2L733.3 635.5L731.5 636.7L728.5 637.8L725.5 638.4L722.5 638.2L715.0 636.1L707.5 634.7L698.5 635.0L696.8 635.5L694.0 637.6L692.5 638.3L690.2 638.1L688.8 637.4L687.2 635.9L686.5 634.6L684.4 629.5L680.9 622.8L679.9 619.8L679.1 615.2L679.0 612.2L679.5 609.2L680.9 606.2L682.1 604.8L684.2 603.0L688.8 601.3ZM679.5 685.8L682.0 685.4L684.2 685.6L688.5 687.2L694.0 691.0L695.1 692.5L695.7 694.8L695.0 697.8L693.4 701.5L691.6 704.5L688.7 708.2L685.8 711.2L683.5 713.0L681.2 714.1L678.2 714.5L676.0 714.2L673.8 713.3L672.0 712.0L670.0 709.6L668.6 707.5L667.7 705.2L667.1 702.2L667.1 699.2L667.3 697.0L668.0 694.8L669.2 692.5L670.9 690.2L674.5 687.5ZM713.5 597.2L720.2 597.1L732.2 598.4L739.0 600.1L742.0 601.9L743.2 603.2L744.6 605.5L746.8 611.5L748.9 624.2L748.8 626.5L748.3 628.0L746.5 630.4L742.0 633.3L737.5 638.4L735.2 639.9L733.8 640.4L725.5 641.6L722.5 641.6L718.8 640.8L710.5 638.0L708.2 637.6L706.0 637.7L703.2 638.5L701.5 639.4L697.8 643.8L694.8 646.2L692.5 646.8L690.2 646.3L688.0 644.1L685.0 639.2L684.1 637.0L682.4 631.0L678.3 622.0L677.0 613.0L677.2 610.0L678.3 607.0L679.8 604.7L682.0 602.4L684.2 600.9L687.2 599.7L691.0 599.0ZM680.7 683.5L683.5 683.3L685.8 683.7L694.1 687.2L696.4 688.8L697.9 690.2L698.8 691.8L699.0 694.0L698.1 697.0L695.2 702.2L692.0 706.8L688.8 710.5L685.4 713.5L682.8 715.2L679.8 716.1L676.8 716.1L674.5 715.5L672.2 714.3L670.0 712.0L667.9 709.0L666.8 706.8L666.0 703.8L665.9 697.8L666.7 694.8L667.7 692.5L670.8 688.4L674.5 685.6ZM710.4 595.8L720.2 595.4L731.5 596.5L739.0 598.2L741.2 599.1L743.1 600.2L745.0 602.2L746.6 604.8L748.1 607.8L749.1 610.8L751.7 623.5L751.7 626.5L751.0 629.2L749.5 632.2L747.3 634.8L744.2 637.2L739.8 641.6L737.5 643.0L735.2 643.9L723.2 644.8L718.8 644.0L709.0 641.0L706.8 641.1L704.5 642.1L703.0 643.4L693.3 655.0L692.0 658.0L690.4 664.8L688.0 669.6L685.8 671.7L684.2 672.0L683.5 671.8L682.0 670.3L681.1 668.5L680.5 665.5L680.6 663.2L682.0 658.6L685.5 653.5L685.8 651.2L682.5 640.8L680.5 632.5L677.4 625.8L676.1 622.0L675.0 613.8L675.0 611.5L675.7 608.5L677.1 605.5L679.8 602.2L682.8 599.8L685.8 598.3L690.2 597.2ZM682.0 680.5L683.5 680.3L685.8 680.8L696.2 685.2L702.1 688.8L703.2 690.2L703.4 691.8L702.4 694.8L699.7 699.2L694.2 706.8L689.5 712.0L685.8 715.1L682.8 716.8L679.8 717.7L676.0 717.7L673.8 717.1L671.5 715.8L669.2 713.4L666.7 709.8L665.4 706.8L664.7 703.8L664.5 700.0L664.7 697.0L665.5 694.0L666.9 691.0L668.5 688.8L670.8 686.3L674.5 683.7ZM706.6 594.2L712.8 593.8L720.2 593.7L731.5 594.7L739.8 596.6L742.0 597.5L744.2 598.9L746.4 601.0L747.9 603.2L750.0 607.0L751.1 610.0L752.9 617.5L753.6 622.0L753.8 625.8L753.3 629.5L751.8 633.7L749.5 636.9L742.7 643.6L738.2 646.4L735.2 647.1L724.0 647.8L720.2 647.2L711.2 644.9L709.0 644.6L707.5 644.9L706.0 645.8L701.4 650.5L697.4 655.8L695.5 659.0L689.9 674.5L689.5 676.8L690.1 678.2L692.9 680.5L700.0 684.4L707.9 688.0L708.5 688.8L708.5 690.2L707.3 692.5L699.0 703.8L693.4 710.5L690.2 713.6L685.8 717.0L682.8 718.5L678.2 719.5L674.5 719.1L672.2 718.2L670.0 716.6L665.8 711.2L664.7 709.0L663.8 706.0L663.1 700.8L663.3 697.8L663.8 694.8L664.9 691.8L666.2 689.3L670.8 684.2L677.9 679.0L679.0 677.5L679.5 676.0L679.4 673.8L678.1 667.8L678.1 664.0L679.0 659.5L681.5 652.0L681.6 648.2L678.7 634.0L675.1 625.0L673.6 619.8L672.9 613.8L673.6 609.2L675.1 605.5L677.5 602.1L680.5 599.2L684.2 596.9L687.2 595.9L690.2 595.4ZM715.6 592.0L724.0 592.2L731.5 593.0L736.8 594.0L742.8 596.0L745.0 597.4L747.2 599.4L749.6 602.5L751.7 606.2L753.1 610.0L754.5 615.2L755.3 620.5L755.6 625.8L755.3 629.5L754.4 633.2L753.1 636.2L751.8 638.5L746.9 643.8L743.5 646.8L739.0 649.2L736.0 649.9L724.0 650.5L721.0 650.1L714.2 648.4L710.5 648.0L709.0 648.2L707.5 648.9L704.5 651.4L699.2 658.4L697.0 662.5L693.9 670.8L693.4 673.8L693.5 676.0L694.2 677.5L695.5 679.0L699.2 681.6L702.2 683.0L705.2 683.9L713.5 685.1L714.7 685.8L714.9 686.5L714.7 687.2L712.3 691.0L706.8 697.0L697.9 708.2L693.7 712.8L690.2 715.9L685.8 719.0L681.2 720.8L677.5 721.3L673.8 720.7L671.5 719.8L669.2 718.2L667.0 715.8L664.9 712.8L663.7 710.5L662.7 707.5L661.9 703.8L661.7 700.8L662.2 695.5L663.1 692.5L664.4 689.5L665.8 687.2L668.5 684.2L675.2 678.2L676.1 676.8L676.8 674.5L676.2 667.8L676.3 664.0L679.0 652.0L679.2 647.5L676.7 634.0L672.4 622.8L671.2 618.2L670.9 613.0L672.1 607.8L673.9 604.0L677.6 599.5L681.2 596.5L685.0 594.7L688.0 593.9L694.8 593.1ZM709.1 590.5L721.0 590.3L733.0 591.6L738.2 592.6L742.0 593.9L745.0 595.4L747.5 597.2L750.2 600.2L752.2 603.2L754.2 607.8L755.9 613.0L756.8 618.2L757.3 623.5L757.2 628.8L756.5 633.2L754.6 638.5L752.0 642.2L745.8 648.4L743.5 650.0L740.5 651.5L736.0 652.6L724.8 653.2L721.0 652.8L714.2 651.3L711.2 651.2L708.2 652.1L706.0 653.9L700.7 661.0L697.8 666.7L696.7 670.0L696.2 673.0L696.4 675.2L697.0 676.8L698.5 678.5L700.8 680.0L703.8 681.3L706.8 681.9L712.0 681.8L721.0 679.8L724.0 679.9L725.5 680.5L726.3 681.2L727.0 682.8L726.9 684.2L725.9 685.8L724.8 686.6L718.8 689.2L716.5 690.6L710.5 695.9L706.8 700.0L699.3 709.8L693.2 715.7L690.2 718.3L686.5 720.6L681.2 722.6L677.5 723.2L674.5 722.8L671.5 721.7L668.5 719.8L666.6 718.0L664.3 715.0L662.7 712.0L661.6 709.0L660.5 704.5L660.2 701.5L660.7 695.5L661.5 692.5L663.1 688.8L664.5 686.5L666.9 683.5L673.0 677.6L674.4 675.2L674.8 673.0L674.8 663.2L677.2 651.2L677.1 646.0L674.8 634.0L670.4 622.8L669.4 619.0L669.0 613.8L669.7 609.2L671.0 605.5L673.3 601.8L678.2 596.5L682.0 594.0L685.8 592.6L690.2 591.8ZM703.7 589.0L715.8 588.4L723.2 588.6L728.5 589.1L740.5 591.6L744.2 593.1L748.3 595.8L751.3 598.8L753.4 601.8L755.2 605.5L757.2 611.5L758.3 616.8L758.9 621.2L759.0 629.5L758.4 634.0L756.5 640.0L753.4 644.5L748.3 649.8L745.8 651.6L742.8 653.3L737.5 654.9L727.8 655.8L721.0 655.4L714.2 654.2L712.0 654.2L709.0 655.4L706.8 657.3L701.5 664.4L699.5 668.5L698.9 670.8L698.8 673.0L699.3 675.2L700.2 676.8L702.1 678.2L703.6 679.0L706.0 679.7L708.2 679.9L712.8 679.6L721.0 677.7L724.8 677.8L727.0 678.7L728.9 680.5L729.7 682.8L729.3 685.0L728.4 686.5L727.0 687.7L718.7 691.8L711.9 697.0L707.8 701.5L701.4 710.5L691.0 720.0L687.2 722.3L682.0 724.3L678.2 725.1L675.2 724.9L671.5 723.7L668.5 722.0L666.2 720.2L663.6 717.2L661.8 714.2L660.6 711.2L659.2 706.0L658.7 702.2L659.1 695.5L659.9 692.5L661.3 688.8L664.1 684.2L670.8 677.3L672.5 674.5L673.1 672.2L673.5 662.5L675.4 652.0L675.2 645.8L673.0 634.4L672.2 631.8L668.7 623.5L667.8 620.5L667.2 615.2L667.5 610.8L669.0 605.5L671.1 601.8L676.0 596.1L679.8 593.2L683.5 591.4L687.2 590.4L694.0 589.6ZM713.0 586.8L726.2 587.0L739.0 589.6L742.8 590.8L746.5 592.5L749.5 594.6L752.3 597.2L755.0 601.0L756.8 604.8L758.6 610.8L760.1 617.5L760.5 621.2L760.8 630.2L760.5 634.0L759.7 637.8L757.5 643.0L755.7 646.0L753.3 649.0L749.5 652.5L744.2 655.4L738.2 657.3L728.5 658.5L713.5 657.1L710.7 658.0L708.2 659.9L703.8 665.4L702.0 668.5L701.5 670.0L701.3 672.2L701.6 673.8L702.3 675.2L703.8 676.6L705.2 677.3L709.0 678.1L712.8 677.8L721.8 676.0L724.0 676.0L726.2 676.5L729.2 678.1L731.2 680.5L731.8 682.8L731.7 684.2L731.1 685.8L730.1 687.2L728.5 688.8L719.6 693.2L712.8 698.5L709.0 702.8L704.9 709.0L702.6 712.0L691.8 721.7L687.2 724.3L681.2 726.5L677.5 727.0L673.8 726.5L670.0 725.1L667.0 723.2L664.4 721.0L662.0 718.0L660.2 715.0L659.0 712.0L657.6 706.8L657.1 703.0L657.1 699.2L657.6 695.5L658.5 691.8L659.9 688.0L663.1 682.8L669.4 676.0L671.1 673.0L671.5 670.8L672.1 662.5L673.7 652.8L673.5 646.0L671.5 635.8L670.0 631.0L666.8 623.5L665.9 619.8L665.5 613.0L666.6 607.0L668.5 602.5L671.7 598.0L676.8 593.1L681.2 590.5L685.8 588.9L691.0 588.1Z" fill="none" stroke="#000" stroke-width="1.3" stroke-linejoin="round"/>
<path d="M197.5 988.3L199.8 988.0L201.2 988.5L202.0 989.8L201.4 991.2L200.5 992.0L199.0 992.4L197.5 992.3L196.0 991.8L195.2 991.1L195.1 990.5L195.3 989.8ZM196.5 987.5L199.8 986.9L202.2 987.5L203.0 988.2L203.4 989.0L203.5 989.8L203.0 991.2L201.5 992.8L199.8 993.5L197.1 993.5L194.5 992.8L193.1 991.3L193.3 989.8L194.5 988.6ZM198.1 986.0L201.3 986.0L203.4 986.8L204.3 987.5L204.8 988.2L204.9 989.8L203.9 992.0L202.0 993.8L199.8 994.6L196.0 994.6L192.8 993.5L191.9 992.8L191.2 991.2L191.4 989.8L191.9 989.0L193.9 987.5ZM196.9 985.2L199.8 984.9L202.8 985.2L204.6 986.0L206.1 987.5L206.5 989.0L205.9 991.2L204.9 992.8L202.8 994.6L199.7 995.7L195.2 995.7L192.2 994.9L190.8 993.9L189.8 992.8L189.5 990.5L190.7 988.2L193.0 986.6ZM195.7 984.5L199.0 983.9L202.0 984.0L204.2 984.5L206.5 985.8L207.7 987.5L208.0 989.0L207.7 990.5L206.4 992.8L203.5 995.3L202.0 996.1L199.8 996.8L193.8 996.7L191.5 996.1L189.4 995.0L188.1 993.5L187.5 992.0L187.7 990.5L188.3 989.0L190.8 986.6ZM197.6 983.0L200.5 982.8L203.5 983.1L205.8 983.9L207.9 985.3L209.1 986.8L209.5 989.0L209.2 990.5L207.9 992.8L206.5 994.3L204.2 996.1L202.0 997.3L199.8 997.8L196.0 998.0L192.2 997.7L189.2 996.8L187.4 995.8L186.0 994.2L185.4 992.0L185.7 990.5L187.0 988.2L188.5 986.7L190.8 985.2L193.8 984.0ZM196.0 982.2L199.0 981.8L202.8 981.9L205.8 982.6L208.8 984.1L210.4 986.0L211.2 988.2L210.8 990.5L209.6 992.8L207.5 995.0L205.0 996.9L202.0 998.4L199.8 998.9L195.2 999.2L191.5 998.9L187.8 997.9L185.1 996.5L183.8 995.0L183.0 992.8L183.5 990.5L184.4 989.0L186.5 986.8L189.2 984.7L192.2 983.3ZM198.1 980.8L202.0 980.6L205.8 981.3L208.8 982.5L211.3 984.5L212.6 986.8L212.8 989.0L212.2 991.2L210.1 994.2L207.6 996.5L204.2 998.6L201.2 999.7L198.2 1000.2L193.8 1000.4L189.2 999.9L185.3 998.8L182.5 997.0L181.1 995.0L180.6 992.8L181.1 990.5L182.7 988.2L186.3 985.2L189.2 983.3L193.0 981.9ZM195.8 980.0L199.7 979.5L204.2 979.6L208.0 980.6L211.1 982.2L213.3 984.5L214.1 986.0L214.5 987.5L214.3 990.5L212.7 993.5L210.2 996.2L207.2 998.3L203.5 1000.2L199.8 1001.2L194.5 1001.7L190.0 1001.5L184.8 1000.4L181.5 998.8L179.4 996.5L178.4 994.2L178.4 992.0L179.7 989.0L181.8 986.8L187.8 982.8L191.5 981.2ZM197.4 978.5L202.8 978.2L207.2 978.9L211.0 980.4L213.5 982.2L215.7 985.2L216.3 988.2L216.0 990.5L215.5 992.0L213.5 995.0L210.2 998.0L205.8 1000.6L202.0 1002.0L197.5 1002.9L192.2 1003.1L186.2 1002.4L182.5 1001.4L179.3 999.5L177.0 996.5L176.2 993.5L176.7 990.5L178.5 987.5L181.2 985.2L187.8 981.4L192.2 979.7ZM199.3 977.0L205.0 977.1L209.5 978.0L213.4 980.0L216.5 983.0L217.9 986.0L218.0 989.8L216.6 993.5L214.3 996.5L210.8 999.5L205.8 1002.1L201.2 1003.5L196.0 1004.4L190.8 1004.5L184.0 1003.6L180.2 1002.4L177.2 1000.3L174.9 997.2L174.3 995.8L174.0 993.5L174.9 989.8L177.2 986.3L181.0 983.5L188.5 979.6L195.2 977.6ZM195.2 976.2L200.5 975.5L207.2 975.9L211.8 977.1L215.5 979.2L218.5 982.2L219.8 985.2L220.0 987.5L219.7 990.5L218.2 994.2L215.0 998.0L211.0 1001.2L205.8 1003.7L199.8 1005.2L194.5 1006.0L189.2 1005.9L181.8 1004.9L179.5 1004.2L177.2 1003.0L173.5 999.5L172.5 998.0L171.8 995.8L171.7 993.5L172.1 991.3L173.9 987.5L176.6 984.5L181.0 981.7L188.5 978.1ZM195.3 974.8L201.2 974.0L208.8 974.5L214.0 976.1L216.2 977.3L218.5 978.9L221.3 982.2L221.9 983.8L222.3 986.0L221.7 991.2L220.9 993.5L219.5 995.8L215.0 1000.2L210.2 1003.4L205.7 1005.3L197.5 1007.2L191.5 1007.6L181.8 1006.8L178.0 1005.8L175.0 1004.1L170.5 1000.2L169.5 998.8L169.0 997.2L168.8 995.0L169.3 992.0L170.0 989.8L171.3 987.5L174.6 983.8L178.8 981.0L187.8 976.8ZM199.4 972.5L207.2 972.7L212.5 973.6L218.5 976.2L220.6 977.8L222.6 980.0L224.0 982.2L224.6 984.5L224.7 987.5L224.3 990.5L222.5 995.0L220.9 997.2L218.8 999.5L213.2 1003.7L207.2 1006.5L197.5 1008.8L193.0 1009.2L182.5 1008.8L178.0 1008.0L172.8 1005.5L169.0 1002.7L167.1 1001.0L166.1 999.5L165.5 997.2L165.5 995.0L166.4 991.2L168.2 987.5L172.4 983.0L177.2 979.7L186.2 975.7L193.0 973.7ZM197.9 971.0L202.0 970.7L206.5 970.9L210.2 971.3L214.0 972.1L220.0 974.7L222.2 976.2L224.3 978.5L225.8 980.7L226.7 983.0L227.2 986.0L227.0 989.0L226.3 992.0L225.1 995.0L223.1 998.0L221.0 1000.2L215.5 1004.5L208.8 1007.9L205.8 1008.8L198.2 1010.4L193.0 1011.0L182.5 1010.9L176.5 1009.8L171.2 1007.5L166.8 1004.5L164.5 1002.5L163.3 1001.0L162.3 998.8L162.1 995.0L162.8 992.0L163.9 989.0L165.3 986.8L167.5 984.5L173.5 979.7L179.5 976.6L188.5 973.0Z" fill="none" stroke="#000" stroke-width="1.3" stroke-linejoin="round"/>
<path d="M440.5 985.2L442.2 984.8L443.8 984.8L444.7 985.2L445.3 986.0L445.4 986.8L444.5 988.1L443.0 989.0L440.8 989.3L439.2 989.0L438.4 988.2L438.4 987.5L439.2 986.1ZM441.6 983.8L443.8 983.6L446.0 984.5L447.0 986.0L446.8 987.5L445.2 989.2L443.0 990.3L440.0 990.6L437.8 990.0L436.7 989.0L436.5 988.2L436.8 986.8L438.5 985.1ZM440.0 983.0L443.8 982.4L445.2 982.7L446.8 983.4L448.1 984.5L448.8 986.0L448.3 988.2L446.0 990.4L443.0 991.6L440.0 992.0L436.9 991.2L435.8 990.5L434.9 989.0L435.1 986.8L437.0 984.5ZM441.1 981.5L444.5 981.3L447.5 982.2L450.0 984.5L450.5 986.0L450.4 987.5L449.0 989.8L447.2 991.2L445.2 992.3L443.0 993.0L440.8 993.3L437.0 992.8L435.4 992.0L433.8 990.5L433.2 989.0L433.4 986.8L434.7 984.5L436.2 983.2L438.5 982.2ZM438.6 980.8L444.5 980.1L446.8 980.5L449.0 981.6L451.2 983.5L452.2 985.2L452.3 986.8L451.6 989.0L450.4 990.5L448.2 992.3L446.0 993.6L443.8 994.2L438.5 994.5L436.2 994.0L434.0 992.9L432.3 991.2L431.6 989.8L431.4 988.2L431.9 986.0L433.2 983.8L434.8 982.4ZM439.6 979.2L443.8 978.9L446.8 979.2L449.8 980.4L452.3 982.2L453.9 984.5L454.1 986.8L453.5 989.0L451.9 991.2L449.8 993.0L446.8 994.7L444.5 995.4L441.5 995.8L438.5 995.8L435.5 995.2L433.2 994.2L431.3 992.8L430.2 991.2L429.6 989.0L429.9 986.8L430.8 984.5L432.5 982.3L434.0 981.1L436.3 980.0ZM442.4 977.8L445.2 977.7L448.2 978.3L451.2 979.6L454.2 981.7L455.6 983.8L456.0 986.0L455.6 988.3L454.5 990.5L452.8 992.6L450.5 994.3L447.5 995.9L444.5 996.8L440.7 997.2L437.0 997.1L434.0 996.3L431.5 995.0L428.9 992.8L427.8 990.5L427.8 987.5L429.3 983.8L431.7 981.0L434.5 979.2L437.8 978.2ZM437.3 977.0L443.8 976.5L447.5 976.8L452.0 978.3L455.7 980.8L457.3 983.0L457.8 986.0L456.8 989.8L454.8 992.8L452.8 994.6L449.0 996.7L446.0 997.8L442.2 998.5L437.8 998.6L434.8 998.1L431.0 996.7L428.5 995.0L426.6 992.8L425.7 990.5L425.7 987.5L426.8 984.5L429.0 981.5L431.7 979.2L434.0 978.0ZM439.0 975.5L446.0 975.3L450.5 976.1L455.0 978.0L458.0 980.6L459.6 983.8L459.8 985.2L459.5 987.5L458.7 989.8L457.5 992.0L454.8 995.0L451.2 997.2L446.8 999.1L443.0 999.9L438.5 1000.1L434.8 999.7L431.0 998.5L428.0 996.9L425.8 994.7L424.1 992.0L423.6 989.0L424.1 986.0L425.6 983.0L428.4 980.0L431.8 977.6L435.5 976.0ZM442.0 974.0L446.8 974.0L451.2 974.7L455.0 975.9L458.0 977.9L460.5 980.8L461.8 983.8L461.8 986.8L460.5 990.5L458.0 994.2L455.6 996.5L452.0 998.5L446.0 1000.8L442.2 1001.5L437.0 1001.6L432.5 1000.8L428.8 999.4L426.6 998.0L425.0 996.5L423.2 994.2L422.0 992.0L421.6 990.5L421.6 988.2L422.0 986.0L423.0 983.8L424.5 981.5L426.1 980.0L431.8 976.0L436.2 974.5ZM443.2 972.5L448.2 972.6L453.5 973.5L457.2 975.0L460.2 977.1L463.1 980.8L464.2 983.8L464.1 987.5L462.4 991.2L460.0 995.0L457.2 997.5L452.8 1000.0L446.0 1002.4L441.5 1003.2L435.5 1003.1L431.0 1002.1L427.2 1000.6L425.0 999.0L423.2 997.2L421.4 995.0L420.1 992.8L419.6 990.5L419.5 988.2L420.2 985.2L421.2 983.0L422.8 980.9L424.4 979.2L428.8 976.1L431.8 974.4L436.2 973.1ZM442.4 971.0L447.5 971.0L453.5 971.7L458.0 973.1L461.0 974.8L464.0 977.8L466.0 981.5L466.7 986.0L465.8 989.8L462.6 995.0L459.8 998.0L454.2 1001.3L448.2 1003.5L443.0 1004.7L437.0 1004.9L431.8 1004.1L426.5 1002.3L424.2 1000.9L421.9 998.8L419.3 995.8L418.1 993.5L417.6 991.2L417.4 988.2L418.0 985.2L418.9 983.0L420.4 980.8L422.6 978.5L430.2 973.4L434.8 971.9ZM440.8 969.5L446.8 969.2L453.5 969.9L458.8 971.2L462.5 973.1L466.2 976.8L468.2 980.7L469.0 983.8L469.1 986.0L468.4 989.8L464.7 995.8L462.1 998.8L458.0 1001.5L452.0 1004.2L445.2 1006.1L440.0 1006.7L432.5 1006.1L426.5 1004.5L423.5 1002.9L421.0 1001.0L418.2 998.3L416.6 995.8L415.6 992.8L415.2 989.8L415.4 986.8L416.2 983.8L417.8 980.7L419.8 978.5L422.0 976.6L428.0 972.6L430.2 971.5L433.2 970.6ZM438.8 968.0L444.5 967.5L451.2 967.7L458.0 968.9L462.5 970.4L466.3 973.2L469.3 977.0L471.5 982.2L471.9 984.5L471.9 986.8L470.4 991.3L466.5 997.2L463.6 1000.2L459.5 1003.0L452.8 1006.1L445.2 1008.1L439.2 1008.7L432.5 1008.2L428.0 1007.2L424.2 1005.8L420.5 1003.6L416.6 1000.2L414.6 997.2L413.3 994.2L412.8 990.5L412.9 986.8L413.7 983.8L415.2 980.8L417.5 977.8L420.2 975.5L426.5 971.4L429.5 969.9L433.2 968.8ZM442.0 965.8L450.5 965.6L458.8 966.9L464.0 968.7L468.6 971.8L470.2 973.2L471.7 975.5L474.1 980.0L474.9 982.2L475.0 986.0L473.4 991.2L470.9 995.8L466.2 1001.0L461.0 1004.6L453.5 1008.1L446.0 1009.9L437.8 1010.8L431.0 1010.2L424.2 1008.3L419.8 1005.9L416.2 1003.2L413.5 1000.2L411.7 997.2L410.5 994.2L409.8 990.5L410.1 986.8L411.3 983.0L413.4 979.2L416.1 976.2L419.0 973.9L425.0 970.0L428.0 968.5L432.5 967.0Z" fill="none" stroke="#000" stroke-width="1.3" stroke-linejoin="round"/>
<path d="M678.0 956.8L679.0 956.1L679.8 956.2L680.7 956.8L681.6 958.2L681.7 959.8L681.3 961.2L680.5 962.5L679.8 963.0L679.0 963.2L678.2 962.9L677.5 961.7L677.2 959.0L677.5 957.5ZM678.6 954.5L679.8 954.5L681.3 955.2L682.5 956.8L683.1 959.0L682.8 961.1L682.0 962.8L680.5 964.5L679.0 965.0L677.5 964.3L676.9 963.5L676.1 959.8L676.3 957.5L676.7 956.2L677.5 955.1ZM677.9 953.0L679.8 952.7L682.0 953.6L683.9 956.0L684.5 958.2L684.2 961.2L682.9 964.2L681.2 965.9L679.0 966.7L677.5 966.4L676.2 965.0L675.4 962.8L675.1 960.5L675.1 958.2L675.5 956.0L676.8 953.8ZM677.3 951.5L679.8 950.9L681.2 951.1L682.8 951.9L685.0 954.7L686.0 958.2L685.5 962.0L683.9 965.8L682.0 967.6L679.0 968.6L677.5 968.5L675.8 967.2L674.7 965.0L674.1 962.0L674.0 958.2L674.4 955.2L675.6 953.0ZM678.5 949.2L680.5 949.0L682.0 949.3L684.3 950.8L685.5 952.2L686.7 954.5L687.4 956.8L687.6 959.0L686.8 963.5L685.0 967.5L683.5 968.9L682.0 969.8L679.8 970.6L678.2 970.7L676.0 969.9L674.9 968.8L674.1 967.2L673.1 963.5L672.8 958.2L673.1 955.2L674.4 952.2L676.0 950.5ZM677.3 947.8L679.0 947.2L681.2 947.2L683.5 947.8L685.0 948.9L686.5 950.5L687.5 952.2L688.5 954.5L689.1 957.5L689.1 959.8L688.7 962.8L687.9 965.8L686.9 968.0L685.8 969.6L683.5 971.5L681.2 972.7L679.8 973.1L678.2 973.1L676.8 972.6L674.5 970.9L672.8 968.0L671.9 963.5L671.6 957.5L672.2 953.8L673.0 951.9L674.3 950.0ZM677.6 945.5L679.8 945.1L682.0 945.3L684.2 946.2L686.4 947.8L687.8 949.2L689.2 951.5L690.3 954.5L690.8 957.5L690.8 960.5L690.3 963.5L689.2 967.2L688.1 969.5L686.5 971.7L684.2 973.8L682.0 975.2L679.8 975.7L677.5 975.4L676.0 974.7L674.5 973.5L673.0 971.7L671.3 968.0L670.5 962.8L670.4 956.8L671.3 952.2L673.8 948.2L675.2 946.8ZM678.2 943.2L680.5 943.2L683.5 943.9L686.4 945.5L688.8 947.5L690.1 949.2L691.2 951.5L692.3 955.2L692.7 958.2L692.4 962.0L691.4 966.5L690.2 969.5L688.8 971.8L686.5 974.6L683.6 977.0L681.2 978.0L679.0 978.3L676.8 977.9L675.2 977.0L673.0 974.7L671.1 971.8L669.6 967.2L669.0 959.0L669.5 953.8L670.2 951.5L671.5 948.8L673.0 946.6L674.5 945.0L676.0 944.0ZM676.3 941.8L679.0 941.2L682.0 941.5L685.8 943.1L689.5 945.5L691.6 947.8L692.7 950.0L694.3 955.2L694.8 958.2L694.5 962.0L693.1 967.2L691.9 970.2L690.3 973.1L688.0 976.0L685.0 978.8L682.8 980.1L679.8 980.8L677.5 980.7L676.0 980.3L674.5 979.4L672.8 977.8L669.5 971.8L668.5 968.8L668.0 965.8L667.8 956.8L668.7 951.5L670.4 947.8L672.2 944.8L673.8 943.2ZM677.2 939.5L679.8 939.2L682.8 939.7L688.0 942.1L691.8 944.7L693.6 947.0L695.1 950.0L696.8 955.2L697.3 958.2L696.9 962.0L694.7 968.8L693.3 971.8L691.0 975.6L688.0 979.2L685.0 981.8L682.8 982.9L679.8 983.4L677.5 983.3L675.2 982.5L673.0 980.9L671.5 979.2L667.9 971.8L666.8 968.0L666.5 965.0L666.5 955.2L667.1 952.2L668.1 949.2L670.3 944.8L672.0 942.5L674.5 940.6ZM678.1 937.2L680.5 937.0L683.5 937.7L690.5 941.0L693.2 942.9L696.1 946.2L698.4 950.0L699.8 953.8L700.7 958.2L700.5 960.5L699.8 962.8L695.3 972.5L691.8 978.4L688.8 981.8L685.8 984.3L682.8 985.7L679.8 986.2L676.8 985.9L674.5 984.9L672.2 983.0L670.0 980.3L668.3 977.0L666.1 971.0L665.2 967.2L665.0 964.2L664.9 958.2L665.3 953.8L666.2 950.0L668.1 945.5L669.8 942.5L672.2 940.0L675.2 938.2ZM678.2 935.0L681.2 934.8L684.2 935.4L691.8 939.0L695.7 941.8L699.3 945.5L701.9 949.2L703.7 953.8L704.3 958.2L704.2 961.2L703.5 963.5L700.0 968.4L695.3 977.0L692.7 980.8L689.8 983.8L685.8 987.1L682.8 988.6L679.8 989.1L676.8 988.8L673.8 987.4L671.5 985.3L668.5 981.5L666.7 977.8L664.9 972.5L663.9 968.0L663.4 963.5L663.5 956.8L664.0 952.2L665.1 948.5L667.4 943.2L669.2 940.4L671.5 938.2L674.5 936.3ZM677.6 932.8L681.2 932.5L685.8 933.3L692.5 936.7L698.2 940.2L701.4 943.2L704.9 947.8L707.2 952.2L708.0 956.0L707.9 962.0L707.1 965.0L706.0 966.6L701.5 971.4L695.6 980.8L693.0 983.8L686.5 989.8L683.5 991.4L680.5 991.9L676.0 991.5L673.0 990.1L670.8 987.9L667.0 983.0L665.1 979.2L663.6 974.0L662.3 968.0L661.8 963.5L661.9 956.8L662.5 951.5L663.5 947.8L665.8 942.5L668.2 938.8L670.8 936.2L674.5 933.8ZM676.2 930.5L681.2 930.0L686.5 930.9L690.2 932.5L699.5 938.0L703.2 941.0L707.4 945.5L710.8 951.5L711.9 955.2L711.5 962.8L710.8 965.0L709.6 967.2L703.8 973.5L696.1 983.7L688.9 991.2L685.8 993.7L682.0 994.8L677.5 994.7L674.5 994.1L671.5 992.4L669.1 989.8L665.0 983.8L663.5 980.8L660.8 969.5L660.2 965.0L660.1 959.8L660.6 952.2L661.7 947.8L663.7 942.5L666.2 938.0L668.5 935.2L672.2 932.2ZM677.8 927.5L682.8 927.4L685.8 927.9L688.8 928.9L692.5 930.8L703.0 937.4L707.5 941.1L710.8 944.8L714.5 950.8L715.3 953.0L715.7 955.2L715.5 959.0L714.8 963.5L713.6 966.5L711.6 969.5L705.2 976.2L690.2 993.8L688.0 995.7L685.7 997.1L682.0 998.1L676.8 997.8L673.0 996.6L669.2 993.8L666.6 990.5L662.9 984.5L661.3 980.8L659.0 969.5L658.3 963.5L658.5 955.2L659.2 950.0L660.7 944.8L663.7 938.0L666.2 934.2L670.0 930.6L673.8 928.5Z" fill="none" stroke="#000" stroke-width="1.3" stroke-linejoin="round"/>
<line x1="55.20" y1="970.50" x2="55.20" y2="727.60" stroke="#000" stroke-width="1.6"/>
<path d="M55.20 715.60L47.30 728.60L63.10 728.60Z" fill="#000"/>
<text x="66.60" y="1037.77" font-size="30.00" transform="rotate(-90 66.60 1037.77)">IL-2</text>
<text x="101.3" y="1097.6" font-size="28.5">IFN-<tspan font-family="Liberation Serif,DejaVu Serif,serif" font-size="30">γ</tspan></text>
<line x1="183.30" y1="1092.50" x2="279.80" y2="1092.50" stroke="#000" stroke-width="1.6"/>
<path d="M291.30 1092.50L278.80 1085.25L278.80 1099.75Z" fill="#000"/>
<text x="366.86" y="1096.80" font-size="28.50">TNF</text>
<line x1="437.80" y1="1086.80" x2="533.80" y2="1086.80" stroke="#000" stroke-width="1.6"/>
<path d="M545.30 1086.80L532.80 1079.55L532.80 1094.05Z" fill="#000"/>
<text x="628.86" y="1096.80" font-size="28.86">GM-CSF</text>
<line x1="755.30" y1="1086.80" x2="851.50" y2="1086.80" stroke="#000" stroke-width="1.6"/>
<path d="M863.00 1086.80L850.50 1079.55L850.50 1094.05Z" fill="#000"/>
<text x="879.22" y="676.00" font-size="31.33">HD</text>
<text x="879.16" y="939.00" font-size="31.98">PT</text>
<line x1="1093.50" y1="527.20" x2="1093.50" y2="755.80" stroke="#000" stroke-width="2.6"/>
<line x1="1087.20" y1="754.50" x2="1179.50" y2="754.50" stroke="#000" stroke-width="2.6"/>
<line x1="1087.20" y1="679.17" x2="1093.50" y2="679.17" stroke="#000" stroke-width="2.6"/>
<line x1="1087.20" y1="603.83" x2="1093.50" y2="603.83" stroke="#000" stroke-width="2.6"/>
<line x1="1087.20" y1="528.50" x2="1093.50" y2="528.50" stroke="#000" stroke-width="2.6"/>
<text x="1040.01" y="764.70" font-size="27.50">0.0</text>
<text x="1040.08" y="689.37" font-size="27.50">0.5</text>
<text x="1040.01" y="614.03" font-size="27.50">1.0</text>
<text x="1040.08" y="538.70" font-size="27.50">1.5</text>
<rect x="1101.60" y="605.34" width="26.30" height="149.16" fill="#0a0a0a"/>
<line x1="1158.00" y1="745.30" x2="1158.00" y2="742.20" stroke="#000" stroke-width="2.4"/>
<line x1="1150.50" y1="742.20" x2="1165.50" y2="742.20" stroke="#000" stroke-width="2.4"/>
<rect x="1146.05" y="746.50" width="23.90" height="8.00" fill="#fff" stroke="#000" stroke-width="2.5"/>
<line x1="1114.75" y1="754.50" x2="1114.75" y2="761.80" stroke="#000" stroke-width="2.6"/>
<line x1="1158.00" y1="754.50" x2="1158.00" y2="761.80" stroke="#000" stroke-width="2.6"/>
<text x="1015.3" y="749.6" font-size="28.8" transform="rotate(-90 1015.3 749.6)">IFN-<tspan font-family="Liberation Serif,DejaVu Serif,serif" font-size="30">γ</tspan> (Rel. MFI)</text>
<line x1="1314.60" y1="527.20" x2="1314.60" y2="756.30" stroke="#000" stroke-width="2.6"/>
<line x1="1308.30" y1="755.00" x2="1400.00" y2="755.00" stroke="#000" stroke-width="2.6"/>
<line x1="1308.30" y1="679.50" x2="1314.60" y2="679.50" stroke="#000" stroke-width="2.6"/>
<line x1="1308.30" y1="604.00" x2="1314.60" y2="604.00" stroke="#000" stroke-width="2.6"/>
<line x1="1308.30" y1="528.50" x2="1314.60" y2="528.50" stroke="#000" stroke-width="2.6"/>
<text x="1261.81" y="765.20" font-size="27.50">0.0</text>
<text x="1261.88" y="689.70" font-size="27.50">0.5</text>
<text x="1261.81" y="614.20" font-size="27.50">1.0</text>
<text x="1261.88" y="538.70" font-size="27.50">1.5</text>
<rect x="1322.50" y="605.51" width="26.50" height="149.49" fill="#0a0a0a"/>
<line x1="1378.60" y1="738.30" x2="1378.60" y2="730.80" stroke="#000" stroke-width="2.4"/>
<line x1="1371.10" y1="730.80" x2="1386.10" y2="730.80" stroke="#000" stroke-width="2.4"/>
<rect x="1366.85" y="739.50" width="23.50" height="15.50" fill="#fff" stroke="#000" stroke-width="2.5"/>
<line x1="1335.75" y1="755.00" x2="1335.75" y2="762.30" stroke="#000" stroke-width="2.6"/>
<line x1="1378.60" y1="755.00" x2="1378.60" y2="762.30" stroke="#000" stroke-width="2.6"/>
<text x="1231.60" y="737.98" font-size="28.40" transform="rotate(-90 1231.60 737.98)">IL-2 (Rel. MFI)</text>
<line x1="1093.50" y1="808.70" x2="1093.50" y2="1038.20" stroke="#000" stroke-width="2.6"/>
<line x1="1087.20" y1="1036.90" x2="1179.50" y2="1036.90" stroke="#000" stroke-width="2.6"/>
<line x1="1087.20" y1="961.27" x2="1093.50" y2="961.27" stroke="#000" stroke-width="2.6"/>
<line x1="1087.20" y1="885.63" x2="1093.50" y2="885.63" stroke="#000" stroke-width="2.6"/>
<line x1="1087.20" y1="810.00" x2="1093.50" y2="810.00" stroke="#000" stroke-width="2.6"/>
<text x="1040.01" y="1047.10" font-size="27.50">0.0</text>
<text x="1040.08" y="971.47" font-size="27.50">0.5</text>
<text x="1040.01" y="895.83" font-size="27.50">1.0</text>
<text x="1040.08" y="820.20" font-size="27.50">1.5</text>
<rect x="1101.60" y="887.15" width="26.30" height="149.75" fill="#0a0a0a"/>
<line x1="1158.00" y1="1027.30" x2="1158.00" y2="1020.50" stroke="#000" stroke-width="2.4"/>
<line x1="1150.50" y1="1020.50" x2="1165.50" y2="1020.50" stroke="#000" stroke-width="2.4"/>
<rect x="1146.05" y="1028.50" width="23.90" height="8.40" fill="#fff" stroke="#000" stroke-width="2.5"/>
<line x1="1114.75" y1="1036.90" x2="1114.75" y2="1044.20" stroke="#000" stroke-width="2.6"/>
<line x1="1158.00" y1="1036.90" x2="1158.00" y2="1044.20" stroke="#000" stroke-width="2.6"/>
<text x="1013.30" y="1036.26" font-size="29.50" transform="rotate(-90 1013.30 1036.26)">TNF (Rel. MFI)</text>
<line x1="1314.60" y1="808.70" x2="1314.60" y2="1038.20" stroke="#000" stroke-width="2.6"/>
<line x1="1308.30" y1="1036.90" x2="1400.00" y2="1036.90" stroke="#000" stroke-width="2.6"/>
<line x1="1308.30" y1="961.27" x2="1314.60" y2="961.27" stroke="#000" stroke-width="2.6"/>
<line x1="1308.30" y1="885.63" x2="1314.60" y2="885.63" stroke="#000" stroke-width="2.6"/>
<line x1="1308.30" y1="810.00" x2="1314.60" y2="810.00" stroke="#000" stroke-width="2.6"/>
<text x="1261.81" y="1047.10" font-size="27.50">0.0</text>
<text x="1261.88" y="971.47" font-size="27.50">0.5</text>
<text x="1261.81" y="895.83" font-size="27.50">1.0</text>
<text x="1261.88" y="820.20" font-size="27.50">1.5</text>
<rect x="1322.50" y="887.15" width="26.50" height="149.75" fill="#0a0a0a"/>
<line x1="1378.60" y1="1000.30" x2="1378.60" y2="994.50" stroke="#000" stroke-width="2.4"/>
<line x1="1371.10" y1="994.50" x2="1386.10" y2="994.50" stroke="#000" stroke-width="2.4"/>
<rect x="1366.85" y="1001.50" width="23.50" height="35.40" fill="#fff" stroke="#000" stroke-width="2.5"/>
<line x1="1335.75" y1="1036.90" x2="1335.75" y2="1044.20" stroke="#000" stroke-width="2.6"/>
<line x1="1378.60" y1="1036.90" x2="1378.60" y2="1044.20" stroke="#000" stroke-width="2.6"/>
<text x="1233.20" y="1040.90" font-size="28.40" transform="rotate(-90 1233.20 1040.90)">GM-CSF (Rel. MFI)</text>
<text x="1076.17" y="1094.44" font-size="29.5" transform="rotate(-45 1098.00 1084.30)">HD</text>
<text x="1122.47" y="1090.94" font-size="29.5" transform="rotate(-45 1142.20 1080.80)">PT</text>
<text x="1297.27" y="1094.44" font-size="29.5" transform="rotate(-45 1319.10 1084.30)">HD</text>
<text x="1343.57" y="1090.94" font-size="29.5" transform="rotate(-45 1363.30 1080.80)">PT</text>
<!-- panel d -->
<text x="2.25" y="1219.30" font-size="53.00" stroke="#fff" stroke-width="0.35">d</text>
<rect x="144.60" y="1191.80" width="127.90" height="11.30" fill="#fff" stroke="#000" stroke-width="1.1"/>
<rect x="272.50" y="1191.30" width="132.80" height="12.30" fill="#0a0a0a"/>
<rect x="161.30" y="1207.40" width="243.50" height="11.80" fill="#adadad" stroke="#000" stroke-width="1.1"/>
<text x="216.13" y="1179.50" font-size="26.80">0</text>
<text x="271.26" y="1179.50" font-size="26.8">2 mM Ca<tspan font-size="15.6" dy="-7.8" dx="0.8">2+</tspan></text>
<text x="216.10" y="1248.50" font-size="26.80">TG</text>
<line x1="145.80" y1="1231.85" x2="145.80" y2="1492.95" stroke="#000" stroke-width="2.3"/>
<line x1="144.65" y1="1491.80" x2="405.75" y2="1491.80" stroke="#000" stroke-width="2.3"/>
<line x1="138.65" y1="1233.00" x2="145.80" y2="1233.00" stroke="#000" stroke-width="2.3"/>
<text x="119.98" y="1243.10" font-size="24.30">4</text>
<line x1="138.65" y1="1313.60" x2="145.80" y2="1313.60" stroke="#000" stroke-width="2.3"/>
<text x="120.35" y="1323.70" font-size="24.30">3</text>
<line x1="138.65" y1="1394.30" x2="145.80" y2="1394.30" stroke="#000" stroke-width="2.3"/>
<text x="120.53" y="1404.40" font-size="24.30">2</text>
<line x1="138.65" y1="1475.00" x2="145.80" y2="1475.00" stroke="#000" stroke-width="2.3"/>
<text x="120.47" y="1485.10" font-size="24.30">1</text>
<line x1="145.80" y1="1491.80" x2="145.80" y2="1498.95" stroke="#000" stroke-width="2.3"/>
<line x1="232.07" y1="1491.80" x2="232.07" y2="1498.95" stroke="#000" stroke-width="2.3"/>
<line x1="318.33" y1="1491.80" x2="318.33" y2="1498.95" stroke="#000" stroke-width="2.3"/>
<line x1="404.60" y1="1491.80" x2="404.60" y2="1498.95" stroke="#000" stroke-width="2.3"/>
<text x="136.53" y="1527.00" font-size="26.81">0</text>
<text x="206.46" y="1527.00" font-size="23.83">400</text>
<text x="294.00" y="1527.00" font-size="23.43">800</text>
<text x="369.21" y="1527.00" font-size="23.84">1200</text>
<text x="248.92" y="1557.00" font-size="25.90">Time (s)</text>
<text x="95.30" y="1452.67" font-size="27.60" transform="rotate(-90 95.30 1452.67)" textLength="204.22" lengthAdjust="spacingAndGlyphs">Fura2 (F340/380)</text>
<circle cx="189.60" cy="1276.60" r="10.00" fill="#7c7a78"/>
<path d="M177.1 1289.4h25a7.5 7.5 0 0 1 7.5 7.5v28.5a3.6 3.6 0 0 1 -7.2 0v-24.5h-1.2v68a5 5 0 0 1 -10 0v-40h-3.2v40a5 5 0 0 1 -10 0v-68h-1.2v24.5a3.6 3.6 0 0 1 -7.2 0v-28.5a7.5 7.5 0 0 1 7.5 -7.5z" fill="#7c7a78"/>
<rect x="436.10" y="1310.00" width="21.60" height="21.40" fill="#4b57be"/>
<text x="466.75" y="1328.20" font-size="27.30">DMSO</text>
<rect x="436.10" y="1342.30" width="21.60" height="21.40" fill="#e2351c"/>
<text x="466.75" y="1360.50" font-size="27.30">BTP2</text>
<path d="M145.8 1467.5V1473.1M142.6 1467.5h6.4M142.6 1473.1h6.4M146.9 1468.6V1473.4M143.7 1468.6h6.4M143.7 1473.4h6.4M148.0 1469.3V1474.5M144.8 1469.3h6.4M144.8 1474.5h6.4M149.0 1469.6V1475.1M145.8 1469.6h6.4M145.8 1475.1h6.4M150.1 1470.0V1474.5M146.9 1470.0h6.4M146.9 1474.5h6.4M151.2 1471.1V1476.1M148.0 1471.1h6.4M148.0 1476.1h6.4M152.3 1471.3V1476.8M149.1 1471.3h6.4M149.1 1476.8h6.4M153.3 1472.1V1476.8M150.1 1472.1h6.4M150.1 1476.8h6.4M154.4 1472.2V1476.7M151.2 1472.2h6.4M151.2 1476.7h6.4M155.5 1472.2V1477.3M152.3 1472.2h6.4M152.3 1477.3h6.4M156.6 1471.7V1477.1M153.4 1471.7h6.4M153.4 1477.1h6.4M157.7 1473.3V1478.8M154.5 1473.3h6.4M154.5 1478.8h6.4M158.7 1473.0V1478.0M155.5 1473.0h6.4M155.5 1478.0h6.4M159.8 1474.8V1479.4M156.6 1474.8h6.4M156.6 1479.4h6.4M160.9 1474.4V1478.8M157.7 1474.4h6.4M157.7 1478.8h6.4M162.0 1474.8V1479.7M158.8 1474.8h6.4M158.8 1479.7h6.4M163.1 1474.3V1478.8M159.9 1474.3h6.4M159.9 1478.8h6.4M164.1 1475.0V1480.2M160.9 1475.0h6.4M160.9 1480.2h6.4M165.2 1476.0V1481.3M162.0 1476.0h6.4M162.0 1481.3h6.4M166.3 1475.7V1480.9M163.1 1475.7h6.4M163.1 1480.9h6.4M167.4 1476.5V1481.1M164.2 1476.5h6.4M164.2 1481.1h6.4M168.4 1476.3V1481.9M165.2 1476.3h6.4M165.2 1481.9h6.4M169.5 1476.3V1481.6M166.3 1476.3h6.4M166.3 1481.6h6.4M170.6 1476.6V1481.9M167.4 1476.6h6.4M167.4 1481.9h6.4M171.7 1474.0V1479.5M168.5 1474.0h6.4M168.5 1479.5h6.4M172.8 1475.5V1481.1M169.6 1475.5h6.4M169.6 1481.1h6.4M173.8 1475.2V1480.1M170.6 1475.2h6.4M170.6 1480.1h6.4M174.9 1476.2V1481.6M171.7 1476.2h6.4M171.7 1481.6h6.4M176.0 1476.3V1481.2M172.8 1476.3h6.4M172.8 1481.2h6.4M177.1 1475.6V1480.5M173.9 1475.6h6.4M173.9 1480.5h6.4M178.2 1475.1V1480.7M175.0 1475.1h6.4M175.0 1480.7h6.4M179.2 1474.9V1479.4M176.0 1474.9h6.4M176.0 1479.4h6.4M180.3 1475.7V1480.7M177.1 1475.7h6.4M177.1 1480.7h6.4M181.4 1474.4V1479.8M178.2 1474.4h6.4M178.2 1479.8h6.4M182.5 1473.7V1478.9M179.3 1473.7h6.4M179.3 1478.9h6.4M183.5 1475.3V1480.2M180.3 1475.3h6.4M180.3 1480.2h6.4M184.6 1473.8V1479.2M181.4 1473.8h6.4M181.4 1479.2h6.4M185.7 1475.2V1479.9M182.5 1475.2h6.4M182.5 1479.9h6.4M186.8 1474.1V1479.1M183.6 1474.1h6.4M183.6 1479.1h6.4M187.9 1473.9V1479.0M184.7 1473.9h6.4M184.7 1479.0h6.4M188.9 1473.2V1477.7M185.7 1473.2h6.4M185.7 1477.7h6.4M190.0 1474.8V1479.5M186.8 1474.8h6.4M186.8 1479.5h6.4M191.1 1474.0V1479.5M187.9 1474.0h6.4M187.9 1479.5h6.4M192.2 1474.0V1478.5M189.0 1474.0h6.4M189.0 1478.5h6.4M193.2 1475.0V1480.6M190.0 1475.0h6.4M190.0 1480.6h6.4M194.3 1474.8V1479.6M191.1 1474.8h6.4M191.1 1479.6h6.4M195.4 1475.1V1480.7M192.2 1475.1h6.4M192.2 1480.7h6.4M196.5 1475.2V1480.5M193.3 1475.2h6.4M193.3 1480.5h6.4M197.6 1474.6V1479.6M194.4 1474.6h6.4M194.4 1479.6h6.4M198.6 1474.5V1480.0M195.4 1474.5h6.4M195.4 1480.0h6.4M199.7 1473.9V1478.4M196.5 1473.9h6.4M196.5 1478.4h6.4M200.8 1474.5V1479.6M197.6 1474.5h6.4M197.6 1479.6h6.4M201.9 1474.5V1479.9M198.7 1474.5h6.4M198.7 1479.9h6.4M203.0 1475.6V1480.9M199.8 1475.6h6.4M199.8 1480.9h6.4M204.0 1476.1V1480.9M200.8 1476.1h6.4M200.8 1480.9h6.4M205.1 1476.1V1480.5M201.9 1476.1h6.4M201.9 1480.5h6.4M206.2 1477.2V1482.8M203.0 1477.2h6.4M203.0 1482.8h6.4M207.3 1474.8V1480.4M204.1 1474.8h6.4M204.1 1480.4h6.4M208.3 1476.8V1481.6M205.1 1476.8h6.4M205.1 1481.6h6.4M209.4 1476.8V1482.3M206.2 1476.8h6.4M206.2 1482.3h6.4M210.5 1477.0V1481.6M207.3 1477.0h6.4M207.3 1481.6h6.4M211.6 1476.2V1480.9M208.4 1476.2h6.4M208.4 1480.9h6.4M212.7 1475.5V1481.2M209.5 1475.5h6.4M209.5 1481.2h6.4M213.7 1477.2V1481.8M210.5 1477.2h6.4M210.5 1481.8h6.4M214.8 1476.5V1481.6M211.6 1476.5h6.4M211.6 1481.6h6.4M215.9 1476.8V1482.1M212.7 1476.8h6.4M212.7 1482.1h6.4M217.0 1477.4V1482.9M213.8 1477.4h6.4M213.8 1482.9h6.4M218.0 1476.7V1482.3M214.8 1476.7h6.4M214.8 1482.3h6.4M219.1 1477.4V1481.9M215.9 1477.4h6.4M215.9 1481.9h6.4M220.2 1478.1V1483.4M217.0 1478.1h6.4M217.0 1483.4h6.4M221.3 1476.5V1481.7M218.1 1476.5h6.4M218.1 1481.7h6.4M222.4 1478.4V1483.4M219.2 1478.4h6.4M219.2 1483.4h6.4M223.4 1477.5V1482.2M220.2 1477.5h6.4M220.2 1482.2h6.4M224.5 1478.0V1483.5M221.3 1478.0h6.4M221.3 1483.5h6.4M225.6 1478.3V1483.1M222.4 1478.3h6.4M222.4 1483.1h6.4M226.7 1478.1V1483.3M223.5 1478.1h6.4M223.5 1483.3h6.4M227.8 1477.5V1482.3M224.6 1477.5h6.4M224.6 1482.3h6.4M228.8 1478.7V1483.7M225.6 1478.7h6.4M225.6 1483.7h6.4M229.9 1477.8V1483.4M226.7 1477.8h6.4M226.7 1483.4h6.4M231.0 1477.2V1481.9M227.8 1477.2h6.4M227.8 1481.9h6.4M232.1 1478.3V1483.8M228.9 1478.3h6.4M228.9 1483.8h6.4M233.1 1478.5V1483.0M229.9 1478.5h6.4M229.9 1483.0h6.4M234.2 1477.6V1483.2M231.0 1477.6h6.4M231.0 1483.2h6.4M235.3 1478.7V1483.9M232.1 1478.7h6.4M232.1 1483.9h6.4M236.4 1478.2V1483.1M233.2 1478.2h6.4M233.2 1483.1h6.4M237.5 1478.8V1484.2M234.3 1478.8h6.4M234.3 1484.2h6.4M238.5 1478.0V1483.3M235.3 1478.0h6.4M235.3 1483.3h6.4M239.6 1478.3V1484.0M236.4 1478.3h6.4M236.4 1484.0h6.4M240.7 1479.2V1484.5M237.5 1479.2h6.4M237.5 1484.5h6.4M241.8 1477.8V1483.1M238.6 1477.8h6.4M238.6 1483.1h6.4M242.9 1479.1V1483.9M239.7 1479.1h6.4M239.7 1483.9h6.4M243.9 1478.9V1484.4M240.7 1478.9h6.4M240.7 1484.4h6.4M245.0 1479.4V1484.8M241.8 1479.4h6.4M241.8 1484.8h6.4M246.1 1479.3V1484.3M242.9 1479.3h6.4M242.9 1484.3h6.4M247.2 1479.3V1484.0M244.0 1479.3h6.4M244.0 1484.0h6.4M248.2 1478.6V1484.3M245.0 1478.6h6.4M245.0 1484.3h6.4M249.3 1478.4V1483.4M246.1 1478.4h6.4M246.1 1483.4h6.4M250.4 1479.8V1485.2M247.2 1479.8h6.4M247.2 1485.2h6.4M251.5 1479.7V1484.1M248.3 1479.7h6.4M248.3 1484.1h6.4M252.6 1478.5V1483.3M249.4 1478.5h6.4M249.4 1483.3h6.4M253.6 1479.3V1483.9M250.4 1479.3h6.4M250.4 1483.9h6.4M254.7 1478.8V1484.2M251.5 1478.8h6.4M251.5 1484.2h6.4M255.8 1478.3V1483.2M252.6 1478.3h6.4M252.6 1483.2h6.4M256.9 1478.9V1484.3M253.7 1478.9h6.4M253.7 1484.3h6.4M257.9 1479.1V1483.9M254.7 1479.1h6.4M254.7 1483.9h6.4M259.0 1479.5V1484.3M255.8 1479.5h6.4M255.8 1484.3h6.4M260.1 1478.3V1483.1M256.9 1478.3h6.4M256.9 1483.1h6.4M261.2 1478.9V1483.6M258.0 1478.9h6.4M258.0 1483.6h6.4M262.3 1479.8V1485.0M259.1 1479.8h6.4M259.1 1485.0h6.4M263.3 1479.1V1484.1M260.1 1479.1h6.4M260.1 1484.1h6.4M264.4 1479.9V1485.5M261.2 1479.9h6.4M261.2 1485.5h6.4M265.5 1478.9V1483.7M262.3 1478.9h6.4M262.3 1483.7h6.4M266.6 1479.3V1483.9M263.4 1479.3h6.4M263.4 1483.9h6.4M267.7 1479.4V1484.9M264.5 1479.4h6.4M264.5 1484.9h6.4M268.7 1479.5V1485.2M265.5 1479.5h6.4M265.5 1485.2h6.4M269.8 1480.7V1485.8M266.6 1480.7h6.4M266.6 1485.8h6.4M270.9 1479.4V1483.9M267.7 1479.4h6.4M267.7 1483.9h6.4M272.0 1479.7V1484.8M268.8 1479.7h6.4M268.8 1484.8h6.4M273.0 1480.1V1484.7M269.8 1480.1h6.4M269.8 1484.7h6.4M274.1 1479.4V1484.2M270.9 1479.4h6.4M270.9 1484.2h6.4M275.2 1480.2V1485.2M272.0 1480.2h6.4M272.0 1485.2h6.4M276.3 1472.6V1482.5M273.1 1472.6h6.4M273.1 1482.5h6.4M277.4 1466.9V1478.1M274.2 1466.9h6.4M274.2 1478.1h6.4M278.4 1462.2V1473.4M275.2 1462.2h6.4M275.2 1473.4h6.4M279.5 1451.1V1461.5M276.3 1451.1h6.4M276.3 1461.5h6.4M280.6 1443.9V1453.9M277.4 1443.9h6.4M277.4 1453.9h6.4M281.7 1434.2V1445.6M278.5 1434.2h6.4M278.5 1445.6h6.4M282.7 1424.2V1435.9M279.5 1424.2h6.4M279.5 1435.9h6.4M283.8 1420.3V1432.9M280.6 1420.3h6.4M280.6 1432.9h6.4M284.9 1412.8V1424.3M281.7 1412.8h6.4M281.7 1424.3h6.4M286.0 1407.3V1417.6M282.8 1407.3h6.4M282.8 1417.6h6.4M287.1 1401.9V1412.2M283.9 1401.9h6.4M283.9 1412.2h6.4M288.1 1398.2V1408.0M284.9 1398.2h6.4M284.9 1408.0h6.4M289.2 1396.7V1406.6M286.0 1396.7h6.4M286.0 1406.6h6.4M290.3 1391.3V1403.4M287.1 1391.3h6.4M287.1 1403.4h6.4M291.4 1388.8V1398.6M288.2 1388.8h6.4M288.2 1398.6h6.4M292.5 1388.9V1399.9M289.3 1388.9h6.4M289.3 1399.9h6.4M293.5 1387.4V1397.7M290.3 1387.4h6.4M290.3 1397.7h6.4M294.6 1384.6V1396.2M291.4 1384.6h6.4M291.4 1396.2h6.4M295.7 1385.0V1397.0M292.5 1385.0h6.4M292.5 1397.0h6.4M296.8 1386.4V1397.7M293.6 1386.4h6.4M293.6 1397.7h6.4M297.8 1386.3V1398.0M294.6 1386.3h6.4M294.6 1398.0h6.4M298.9 1388.0V1397.7M295.7 1388.0h6.4M295.7 1397.7h6.4M300.0 1389.6V1399.5M296.8 1389.6h6.4M296.8 1399.5h6.4M301.1 1389.6V1399.3M297.9 1389.6h6.4M297.9 1399.3h6.4M302.2 1391.0V1401.4M299.0 1391.0h6.4M299.0 1401.4h6.4M303.2 1392.9V1402.6M300.0 1392.9h6.4M300.0 1402.6h6.4M304.3 1393.1V1404.8M301.1 1393.1h6.4M301.1 1404.8h6.4M305.4 1391.8V1403.8M302.2 1391.8h6.4M302.2 1403.8h6.4M306.5 1393.7V1405.4M303.3 1393.7h6.4M303.3 1405.4h6.4M307.6 1394.1V1404.3M304.4 1394.1h6.4M304.4 1404.3h6.4M308.6 1397.1V1407.7M305.4 1397.1h6.4M305.4 1407.7h6.4M309.7 1397.1V1408.4M306.5 1397.1h6.4M306.5 1408.4h6.4M310.8 1398.3V1408.2M307.6 1398.3h6.4M307.6 1408.2h6.4M311.9 1399.4V1409.8M308.7 1399.4h6.4M308.7 1409.8h6.4M312.9 1399.5V1410.9M309.7 1399.5h6.4M309.7 1410.9h6.4M314.0 1401.0V1411.8M310.8 1401.0h6.4M310.8 1411.8h6.4M315.1 1402.7V1413.1M311.9 1402.7h6.4M311.9 1413.1h6.4M316.2 1405.1V1415.0M313.0 1405.1h6.4M313.0 1415.0h6.4M317.3 1404.4V1415.9M314.1 1404.4h6.4M314.1 1415.9h6.4M318.3 1404.3V1414.5M315.1 1404.3h6.4M315.1 1414.5h6.4M319.4 1405.8V1416.2M316.2 1405.8h6.4M316.2 1416.2h6.4M320.5 1406.1V1416.9M317.3 1406.1h6.4M317.3 1416.9h6.4M321.6 1408.8V1418.6M318.4 1408.8h6.4M318.4 1418.6h6.4M322.6 1408.5V1420.2M319.4 1408.5h6.4M319.4 1420.2h6.4M323.7 1410.7V1420.8M320.5 1410.7h6.4M320.5 1420.8h6.4M324.8 1410.2V1421.5M321.6 1410.2h6.4M321.6 1421.5h6.4M325.9 1411.5V1422.4M322.7 1411.5h6.4M322.7 1422.4h6.4M327.0 1412.9V1422.4M323.8 1412.9h6.4M323.8 1422.4h6.4M328.0 1413.2V1422.3M324.8 1413.2h6.4M324.8 1422.3h6.4M329.1 1415.2V1425.5M325.9 1415.2h6.4M325.9 1425.5h6.4M330.2 1414.7V1425.8M327.0 1414.7h6.4M327.0 1425.8h6.4M331.3 1417.9V1427.3M328.1 1417.9h6.4M328.1 1427.3h6.4M332.4 1416.3V1427.5M329.2 1416.3h6.4M329.2 1427.5h6.4M333.4 1419.0V1428.6M330.2 1419.0h6.4M330.2 1428.6h6.4M334.5 1419.5V1429.5M331.3 1419.5h6.4M331.3 1429.5h6.4M335.6 1420.6V1429.9M332.4 1420.6h6.4M332.4 1429.9h6.4M336.7 1420.6V1429.9M333.5 1420.6h6.4M333.5 1429.9h6.4M337.7 1422.0V1432.5M334.5 1422.0h6.4M334.5 1432.5h6.4M338.8 1423.0V1433.9M335.6 1423.0h6.4M335.6 1433.9h6.4M339.9 1425.3V1434.4M336.7 1425.3h6.4M336.7 1434.4h6.4M341.0 1424.0V1435.0M337.8 1424.0h6.4M337.8 1435.0h6.4M342.1 1425.7V1436.0M338.9 1425.7h6.4M338.9 1436.0h6.4M343.1 1426.1V1436.3M339.9 1426.1h6.4M339.9 1436.3h6.4M344.2 1426.5V1436.5M341.0 1426.5h6.4M341.0 1436.5h6.4M345.3 1427.2V1436.1M342.1 1427.2h6.4M342.1 1436.1h6.4M346.4 1427.7V1438.7M343.2 1427.7h6.4M343.2 1438.7h6.4M347.4 1427.5V1438.2M344.2 1427.5h6.4M344.2 1438.2h6.4M348.5 1428.4V1437.1M345.3 1428.4h6.4M345.3 1437.1h6.4M349.6 1430.9V1440.1M346.4 1430.9h6.4M346.4 1440.1h6.4M350.7 1429.9V1438.7M347.5 1429.9h6.4M347.5 1438.7h6.4M351.8 1429.7V1439.0M348.6 1429.7h6.4M348.6 1439.0h6.4M352.8 1432.1V1441.4M349.6 1432.1h6.4M349.6 1441.4h6.4M353.9 1431.3V1441.8M350.7 1431.3h6.4M350.7 1441.8h6.4M355.0 1433.6V1443.3M351.8 1433.6h6.4M351.8 1443.3h6.4M356.1 1432.8V1443.1M352.9 1432.8h6.4M352.9 1443.1h6.4M357.2 1433.9V1444.0M354.0 1433.9h6.4M354.0 1444.0h6.4M358.2 1435.0V1443.4M355.0 1435.0h6.4M355.0 1443.4h6.4M359.3 1435.7V1445.4M356.1 1435.7h6.4M356.1 1445.4h6.4M360.4 1436.5V1445.7M357.2 1436.5h6.4M357.2 1445.7h6.4M361.5 1437.4V1445.5M358.3 1437.4h6.4M358.3 1445.5h6.4M362.5 1437.5V1446.5M359.3 1437.5h6.4M359.3 1446.5h6.4M363.6 1437.6V1447.0M360.4 1437.6h6.4M360.4 1447.0h6.4M364.7 1438.4V1446.4M361.5 1438.4h6.4M361.5 1446.4h6.4M365.8 1438.6V1448.2M362.6 1438.6h6.4M362.6 1448.2h6.4M366.9 1438.3V1447.9M363.7 1438.3h6.4M363.7 1447.9h6.4M367.9 1438.2V1447.9M364.7 1438.2h6.4M364.7 1447.9h6.4M369.0 1441.5V1449.0M365.8 1441.5h6.4M365.8 1449.0h6.4M370.1 1439.9V1448.1M366.9 1439.9h6.4M366.9 1448.1h6.4M371.2 1441.1V1448.8M368.0 1441.1h6.4M368.0 1448.8h6.4M372.2 1441.8V1449.3M369.1 1441.8h6.4M369.1 1449.3h6.4M373.3 1441.8V1450.3M370.1 1441.8h6.4M370.1 1450.3h6.4M374.4 1442.0V1450.2M371.2 1442.0h6.4M371.2 1450.2h6.4M375.5 1442.2V1450.7M372.3 1442.2h6.4M372.3 1450.7h6.4M376.6 1441.7V1450.4M373.4 1441.7h6.4M373.4 1450.4h6.4M377.6 1443.5V1451.4M374.4 1443.5h6.4M374.4 1451.4h6.4M378.7 1442.0V1450.7M375.5 1442.0h6.4M375.5 1450.7h6.4M379.8 1443.6V1452.2M376.6 1443.6h6.4M376.6 1452.2h6.4M380.9 1442.9V1451.7M377.7 1442.9h6.4M377.7 1451.7h6.4M382.0 1444.0V1450.8M378.8 1444.0h6.4M378.8 1450.8h6.4M383.0 1445.6V1453.0M379.8 1445.6h6.4M379.8 1453.0h6.4M384.1 1443.6V1452.2M380.9 1443.6h6.4M380.9 1452.2h6.4M385.2 1443.1V1451.5M382.0 1443.1h6.4M382.0 1451.5h6.4M386.3 1445.6V1452.6M383.1 1445.6h6.4M383.1 1452.6h6.4M387.3 1444.5V1452.6M384.1 1444.5h6.4M384.1 1452.6h6.4M388.4 1445.0V1453.3M385.2 1445.0h6.4M385.2 1453.3h6.4M389.5 1445.1V1453.1M386.3 1445.1h6.4M386.3 1453.1h6.4M390.6 1446.1V1452.7M387.4 1446.1h6.4M387.4 1452.7h6.4M391.7 1445.9V1453.6M388.5 1445.9h6.4M388.5 1453.6h6.4M392.7 1445.9V1452.2M389.5 1445.9h6.4M389.5 1452.2h6.4M393.8 1445.4V1452.7M390.6 1445.4h6.4M390.6 1452.7h6.4M394.9 1446.1V1453.3M391.7 1446.1h6.4M391.7 1453.3h6.4M396.0 1445.1V1452.6M392.8 1445.1h6.4M392.8 1452.6h6.4M397.1 1446.0V1452.6M393.9 1446.0h6.4M393.9 1452.6h6.4M398.1 1446.2V1453.0M394.9 1446.2h6.4M394.9 1453.0h6.4M399.2 1447.4V1454.0M396.0 1447.4h6.4M396.0 1454.0h6.4M400.3 1446.1V1452.1M397.1 1446.1h6.4M397.1 1452.1h6.4M401.4 1446.4V1452.8M398.2 1446.4h6.4M398.2 1452.8h6.4M402.4 1448.5V1455.4M399.2 1448.5h6.4M399.2 1455.4h6.4M403.5 1448.0V1454.8M400.3 1448.0h6.4M400.3 1454.8h6.4M404.6 1448.1V1454.1M401.4 1448.1h6.4M401.4 1454.1h6.4M405.7 1447.4V1453.0M402.5 1447.4h6.4M402.5 1453.0h6.4" fill="none" stroke="#e2351c" stroke-width="1.15"/>
<polyline points="145.8,1470.3 146.9,1471.0 148.0,1471.9 149.0,1472.4 150.1,1472.2 151.2,1473.6 152.3,1474.1 153.3,1474.4 154.4,1474.5 155.5,1474.7 156.6,1474.4 157.7,1476.0 158.7,1475.5 159.8,1477.1 160.9,1476.6 162.0,1477.3 163.1,1476.5 164.1,1477.6 165.2,1478.6 166.3,1478.3 167.4,1478.8 168.4,1479.1 169.5,1479.0 170.6,1479.3 171.7,1476.7 172.8,1478.3 173.8,1477.6 174.9,1478.9 176.0,1478.7 177.1,1478.0 178.2,1477.9 179.2,1477.2 180.3,1478.2 181.4,1477.1 182.5,1476.3 183.5,1477.8 184.6,1476.5 185.7,1477.6 186.8,1476.6 187.9,1476.5 188.9,1475.5 190.0,1477.1 191.1,1476.7 192.2,1476.3 193.2,1477.8 194.3,1477.2 195.4,1477.9 196.5,1477.9 197.6,1477.1 198.6,1477.2 199.7,1476.1 200.8,1477.0 201.9,1477.2 203.0,1478.3 204.0,1478.5 205.1,1478.3 206.2,1480.0 207.3,1477.6 208.3,1479.2 209.4,1479.6 210.5,1479.3 211.6,1478.5 212.7,1478.4 213.7,1479.5 214.8,1479.1 215.9,1479.5 217.0,1480.1 218.0,1479.5 219.1,1479.6 220.2,1480.7 221.3,1479.1 222.4,1480.9 223.4,1479.8 224.5,1480.7 225.6,1480.7 226.7,1480.7 227.8,1479.9 228.8,1481.2 229.9,1480.6 231.0,1479.6 232.1,1481.1 233.1,1480.7 234.2,1480.4 235.3,1481.3 236.4,1480.7 237.5,1481.5 238.5,1480.7 239.6,1481.2 240.7,1481.9 241.8,1480.5 242.9,1481.5 243.9,1481.7 245.0,1482.1 246.1,1481.8 247.2,1481.6 248.2,1481.5 249.3,1480.9 250.4,1482.5 251.5,1481.9 252.6,1480.9 253.6,1481.6 254.7,1481.5 255.8,1480.7 256.9,1481.6 257.9,1481.5 259.0,1481.9 260.1,1480.7 261.2,1481.2 262.3,1482.4 263.3,1481.6 264.4,1482.7 265.5,1481.3 266.6,1481.6 267.7,1482.2 268.7,1482.4 269.8,1483.3 270.9,1481.7 272.0,1482.3 273.0,1482.4 274.1,1481.8 275.2,1482.7 276.3,1477.5 277.4,1472.5 278.4,1467.8 279.5,1456.3 280.6,1448.9 281.7,1439.9 282.7,1430.0 283.8,1426.6 284.9,1418.5 286.0,1412.5 287.1,1407.0 288.1,1403.1 289.2,1401.7 290.3,1397.3 291.4,1393.7 292.5,1394.4 293.5,1392.6 294.6,1390.4 295.7,1391.0 296.8,1392.1 297.8,1392.1 298.9,1392.9 300.0,1394.6 301.1,1394.4 302.2,1396.2 303.2,1397.7 304.3,1399.0 305.4,1397.8 306.5,1399.5 307.6,1399.2 308.6,1402.4 309.7,1402.7 310.8,1403.3 311.9,1404.6 312.9,1405.2 314.0,1406.4 315.1,1407.9 316.2,1410.0 317.3,1410.2 318.3,1409.4 319.4,1411.0 320.5,1411.5 321.6,1413.7 322.6,1414.4 323.7,1415.7 324.8,1415.8 325.9,1417.0 327.0,1417.7 328.0,1417.7 329.1,1420.3 330.2,1420.3 331.3,1422.6 332.4,1421.9 333.4,1423.8 334.5,1424.5 335.6,1425.3 336.7,1425.2 337.7,1427.2 338.8,1428.5 339.9,1429.8 341.0,1429.5 342.1,1430.8 343.1,1431.2 344.2,1431.5 345.3,1431.7 346.4,1433.2 347.4,1432.9 348.5,1432.8 349.6,1435.5 350.7,1434.3 351.8,1434.3 352.8,1436.7 353.9,1436.6 355.0,1438.4 356.1,1437.9 357.2,1439.0 358.2,1439.2 359.3,1440.6 360.4,1441.1 361.5,1441.5 362.5,1442.0 363.6,1442.3 364.7,1442.4 365.8,1443.4 366.9,1443.1 367.9,1443.1 369.0,1445.2 370.1,1444.0 371.2,1445.0 372.2,1445.6 373.3,1446.1 374.4,1446.1 375.5,1446.4 376.6,1446.1 377.6,1447.5 378.7,1446.3 379.8,1447.9 380.9,1447.3 382.0,1447.4 383.0,1449.3 384.1,1447.9 385.2,1447.3 386.3,1449.1 387.3,1448.6 388.4,1449.1 389.5,1449.1 390.6,1449.4 391.7,1449.7 392.7,1449.0 393.8,1449.0 394.9,1449.7 396.0,1448.9 397.1,1449.3 398.1,1449.6 399.2,1450.7 400.3,1449.1 401.4,1449.6 402.4,1452.0 403.5,1451.4 404.6,1451.1 405.7,1450.2" fill="none" stroke="#e2351c" stroke-width="2.4" stroke-linejoin="round"/>
<path d="M145.8 1469.8V1475.0M142.6 1469.8h6.4M142.6 1475.0h6.4M146.9 1470.4V1474.3M143.7 1470.4h6.4M143.7 1474.3h6.4M148.0 1468.4V1473.5M144.8 1468.4h6.4M144.8 1473.5h6.4M149.0 1470.1V1474.6M145.8 1470.1h6.4M145.8 1474.6h6.4M150.1 1473.0V1476.9M146.9 1473.0h6.4M146.9 1476.9h6.4M151.2 1471.3V1476.3M148.0 1471.3h6.4M148.0 1476.3h6.4M152.3 1472.5V1477.1M149.1 1472.5h6.4M149.1 1477.1h6.4M153.3 1472.0V1476.9M150.1 1472.0h6.4M150.1 1476.9h6.4M154.4 1474.4V1478.7M151.2 1474.4h6.4M151.2 1478.7h6.4M155.5 1473.0V1477.1M152.3 1473.0h6.4M152.3 1477.1h6.4M156.6 1473.4V1477.2M153.4 1473.4h6.4M153.4 1477.2h6.4M157.7 1472.4V1476.2M154.5 1472.4h6.4M154.5 1476.2h6.4M158.7 1473.5V1478.0M155.5 1473.5h6.4M155.5 1478.0h6.4M159.8 1473.7V1478.0M156.6 1473.7h6.4M156.6 1478.0h6.4M160.9 1476.2V1479.9M157.7 1476.2h6.4M157.7 1479.9h6.4M162.0 1472.8V1476.6M158.8 1472.8h6.4M158.8 1476.6h6.4M163.1 1476.8V1481.2M159.9 1476.8h6.4M159.9 1481.2h6.4M164.1 1474.5V1478.2M160.9 1474.5h6.4M160.9 1478.2h6.4M165.2 1476.2V1479.8M162.0 1476.2h6.4M162.0 1479.8h6.4M166.3 1476.4V1481.2M163.1 1476.4h6.4M163.1 1481.2h6.4M167.4 1477.0V1480.7M164.2 1477.0h6.4M164.2 1480.7h6.4M168.4 1476.6V1480.9M165.2 1476.6h6.4M165.2 1480.9h6.4M169.5 1474.9V1480.1M166.3 1474.9h6.4M166.3 1480.1h6.4M170.6 1476.0V1479.7M167.4 1476.0h6.4M167.4 1479.7h6.4M171.7 1474.0V1478.3M168.5 1474.0h6.4M168.5 1478.3h6.4M172.8 1477.2V1481.1M169.6 1477.2h6.4M169.6 1481.1h6.4M173.8 1474.8V1479.7M170.6 1474.8h6.4M170.6 1479.7h6.4M174.9 1475.7V1480.2M171.7 1475.7h6.4M171.7 1480.2h6.4M176.0 1474.3V1478.0M172.8 1474.3h6.4M172.8 1478.0h6.4M177.1 1476.4V1481.3M173.9 1476.4h6.4M173.9 1481.3h6.4M178.2 1474.4V1479.5M175.0 1474.4h6.4M175.0 1479.5h6.4M179.2 1473.8V1478.7M176.0 1473.8h6.4M176.0 1478.7h6.4M180.3 1475.8V1479.7M177.1 1475.8h6.4M177.1 1479.7h6.4M181.4 1472.5V1477.8M178.2 1472.5h6.4M178.2 1477.8h6.4M182.5 1473.4V1478.2M179.3 1473.4h6.4M179.3 1478.2h6.4M183.5 1472.7V1476.9M180.3 1472.7h6.4M180.3 1476.9h6.4M184.6 1472.9V1476.6M181.4 1472.9h6.4M181.4 1476.6h6.4M185.7 1474.2V1478.7M182.5 1474.2h6.4M182.5 1478.7h6.4M186.8 1474.2V1477.9M183.6 1474.2h6.4M183.6 1477.9h6.4M187.9 1473.5V1477.2M184.7 1473.5h6.4M184.7 1477.2h6.4M188.9 1471.9V1476.6M185.7 1471.9h6.4M185.7 1476.6h6.4M190.0 1471.9V1476.8M186.8 1471.9h6.4M186.8 1476.8h6.4M191.1 1473.7V1478.3M187.9 1473.7h6.4M187.9 1478.3h6.4M192.2 1473.9V1478.2M189.0 1473.9h6.4M189.0 1478.2h6.4M193.2 1473.9V1478.9M190.0 1473.9h6.4M190.0 1478.9h6.4M194.3 1473.8V1478.9M191.1 1473.8h6.4M191.1 1478.9h6.4M195.4 1474.4V1478.0M192.2 1474.4h6.4M192.2 1478.0h6.4M196.5 1473.8V1478.7M193.3 1473.8h6.4M193.3 1478.7h6.4M197.6 1471.8V1476.8M194.4 1471.8h6.4M194.4 1476.8h6.4M198.6 1474.6V1479.3M195.4 1474.6h6.4M195.4 1479.3h6.4M199.7 1474.7V1479.0M196.5 1474.7h6.4M196.5 1479.0h6.4M200.8 1473.9V1478.8M197.6 1473.9h6.4M197.6 1478.8h6.4M201.9 1476.1V1479.7M198.7 1476.1h6.4M198.7 1479.7h6.4M203.0 1474.9V1480.0M199.8 1474.9h6.4M199.8 1480.0h6.4M204.0 1475.0V1479.5M200.8 1475.0h6.4M200.8 1479.5h6.4M205.1 1474.4V1479.0M201.9 1474.4h6.4M201.9 1479.0h6.4M206.2 1476.5V1481.2M203.0 1476.5h6.4M203.0 1481.2h6.4M207.3 1474.2V1478.6M204.1 1474.2h6.4M204.1 1478.6h6.4M208.3 1476.2V1480.3M205.1 1476.2h6.4M205.1 1480.3h6.4M209.4 1475.9V1479.9M206.2 1475.9h6.4M206.2 1479.9h6.4M210.5 1475.5V1479.3M207.3 1475.5h6.4M207.3 1479.3h6.4M211.6 1475.9V1479.4M208.4 1475.9h6.4M208.4 1479.4h6.4M212.7 1474.8V1479.8M209.5 1474.8h6.4M209.5 1479.8h6.4M213.7 1475.6V1480.9M210.5 1475.6h6.4M210.5 1480.9h6.4M214.8 1476.1V1480.8M211.6 1476.1h6.4M211.6 1480.8h6.4M215.9 1476.1V1480.2M212.7 1476.1h6.4M212.7 1480.2h6.4M217.0 1477.4V1481.6M213.8 1477.4h6.4M213.8 1481.6h6.4M218.0 1474.9V1479.9M214.8 1474.9h6.4M214.8 1479.9h6.4M219.1 1477.2V1481.6M215.9 1477.2h6.4M215.9 1481.6h6.4M220.2 1477.8V1482.1M217.0 1477.8h6.4M217.0 1482.1h6.4M221.3 1474.3V1479.2M218.1 1474.3h6.4M218.1 1479.2h6.4M222.4 1476.9V1481.0M219.2 1476.9h6.4M219.2 1481.0h6.4M223.4 1478.1V1481.9M220.2 1478.1h6.4M220.2 1481.9h6.4M224.5 1475.0V1479.3M221.3 1475.0h6.4M221.3 1479.3h6.4M225.6 1476.7V1481.9M222.4 1476.7h6.4M222.4 1481.9h6.4M226.7 1475.3V1480.7M223.5 1475.3h6.4M223.5 1480.7h6.4M227.8 1477.9V1481.9M224.6 1477.9h6.4M224.6 1481.9h6.4M228.8 1476.9V1481.9M225.6 1476.9h6.4M225.6 1481.9h6.4M229.9 1479.0V1482.7M226.7 1479.0h6.4M226.7 1482.7h6.4M231.0 1478.7V1483.5M227.8 1478.7h6.4M227.8 1483.5h6.4M232.1 1478.4V1482.1M228.9 1478.4h6.4M228.9 1482.1h6.4M233.1 1477.5V1481.4M229.9 1477.5h6.4M229.9 1481.4h6.4M234.2 1476.2V1481.1M231.0 1476.2h6.4M231.0 1481.1h6.4M235.3 1475.2V1479.0M232.1 1475.2h6.4M232.1 1479.0h6.4M236.4 1478.3V1482.8M233.2 1478.3h6.4M233.2 1482.8h6.4M237.5 1476.5V1480.7M234.3 1476.5h6.4M234.3 1480.7h6.4M238.5 1477.6V1482.9M235.3 1477.6h6.4M235.3 1482.9h6.4M239.6 1477.4V1482.3M236.4 1477.4h6.4M236.4 1482.3h6.4M240.7 1479.1V1483.2M237.5 1479.1h6.4M237.5 1483.2h6.4M241.8 1478.6V1483.9M238.6 1478.6h6.4M238.6 1483.9h6.4M242.9 1478.3V1482.9M239.7 1478.3h6.4M239.7 1482.9h6.4M243.9 1479.1V1482.9M240.7 1479.1h6.4M240.7 1482.9h6.4M245.0 1477.9V1481.9M241.8 1477.9h6.4M241.8 1481.9h6.4M246.1 1478.1V1483.1M242.9 1478.1h6.4M242.9 1483.1h6.4M247.2 1476.1V1481.4M244.0 1476.1h6.4M244.0 1481.4h6.4M248.2 1478.0V1481.6M245.0 1478.0h6.4M245.0 1481.6h6.4M249.3 1477.6V1482.1M246.1 1477.6h6.4M246.1 1482.1h6.4M250.4 1477.0V1480.9M247.2 1477.0h6.4M247.2 1480.9h6.4M251.5 1477.2V1482.0M248.3 1477.2h6.4M248.3 1482.0h6.4M252.6 1478.3V1481.9M249.4 1478.3h6.4M249.4 1481.9h6.4M253.6 1477.8V1482.6M250.4 1477.8h6.4M250.4 1482.6h6.4M254.7 1478.0V1482.5M251.5 1478.0h6.4M251.5 1482.5h6.4M255.8 1476.8V1481.5M252.6 1476.8h6.4M252.6 1481.5h6.4M256.9 1477.2V1481.6M253.7 1477.2h6.4M253.7 1481.6h6.4M257.9 1477.5V1482.2M254.7 1477.5h6.4M254.7 1482.2h6.4M259.0 1477.0V1482.0M255.8 1477.0h6.4M255.8 1482.0h6.4M260.1 1479.0V1482.6M256.9 1479.0h6.4M256.9 1482.6h6.4M261.2 1477.7V1481.9M258.0 1477.7h6.4M258.0 1481.9h6.4M262.3 1479.7V1483.7M259.1 1479.7h6.4M259.1 1483.7h6.4M263.3 1476.9V1481.2M260.1 1476.9h6.4M260.1 1481.2h6.4M264.4 1478.0V1482.6M261.2 1478.0h6.4M261.2 1482.6h6.4M265.5 1478.1V1482.4M262.3 1478.1h6.4M262.3 1482.4h6.4M266.6 1477.4V1482.3M263.4 1477.4h6.4M263.4 1482.3h6.4M267.7 1478.7V1482.3M264.5 1478.7h6.4M264.5 1482.3h6.4M268.7 1478.8V1482.7M265.5 1478.8h6.4M265.5 1482.7h6.4M269.8 1477.5V1481.3M266.6 1477.5h6.4M266.6 1481.3h6.4M270.9 1478.6V1482.3M267.7 1478.6h6.4M267.7 1482.3h6.4M272.0 1479.2V1483.8M268.8 1479.2h6.4M268.8 1483.8h6.4M273.0 1477.8V1482.6M269.8 1477.8h6.4M269.8 1482.6h6.4M274.1 1480.2V1484.4M270.9 1480.2h6.4M270.9 1484.4h6.4M275.4 1442.7V1450.8M272.2 1442.7h6.4M272.2 1450.8h6.4M275.8 1434.7V1442.7M272.6 1434.7h6.4M272.6 1442.7h6.4M276.3 1370.1V1378.2M273.1 1370.1h6.4M273.1 1378.2h6.4M276.7 1345.1V1354.8M273.5 1345.1h6.4M273.5 1354.8h6.4M277.1 1307.1V1320.1M273.9 1307.1h6.4M273.9 1320.1h6.4M277.4 1303.2V1315.7M274.2 1303.2h6.4M274.2 1315.7h6.4M278.4 1272.4V1282.3M275.2 1272.4h6.4M275.2 1282.3h6.4M279.5 1266.1V1277.5M276.3 1266.1h6.4M276.3 1277.5h6.4M280.6 1269.4V1279.4M277.4 1269.4h6.4M277.4 1279.4h6.4M281.7 1269.1V1282.4M278.5 1269.1h6.4M278.5 1282.4h6.4M282.7 1270.7V1283.6M279.5 1270.7h6.4M279.5 1283.6h6.4M283.8 1271.5V1285.3M280.6 1271.5h6.4M280.6 1285.3h6.4M284.9 1275.3V1289.2M281.7 1275.3h6.4M281.7 1289.2h6.4M286.0 1276.3V1288.6M282.8 1276.3h6.4M282.8 1288.6h6.4M287.1 1276.0V1286.4M283.9 1276.0h6.4M283.9 1286.4h6.4M288.1 1278.0V1289.1M284.9 1278.0h6.4M284.9 1289.1h6.4M289.2 1277.0V1289.8M286.0 1277.0h6.4M286.0 1289.8h6.4M290.3 1277.8V1290.8M287.1 1277.8h6.4M287.1 1290.8h6.4M291.4 1281.5V1294.6M288.2 1281.5h6.4M288.2 1294.6h6.4M292.5 1283.1V1293.3M289.3 1283.1h6.4M289.3 1293.3h6.4M293.5 1286.8V1297.1M290.3 1286.8h6.4M290.3 1297.1h6.4M294.6 1281.9V1295.1M291.4 1281.9h6.4M291.4 1295.1h6.4M295.7 1281.3V1291.4M292.5 1281.3h6.4M292.5 1291.4h6.4M296.8 1285.2V1297.4M293.6 1285.2h6.4M293.6 1297.4h6.4M297.8 1281.7V1293.5M294.6 1281.7h6.4M294.6 1293.5h6.4M298.9 1281.5V1295.1M295.7 1281.5h6.4M295.7 1295.1h6.4M300.0 1285.4V1295.5M296.8 1285.4h6.4M296.8 1295.5h6.4M301.1 1284.1V1297.3M297.9 1284.1h6.4M297.9 1297.3h6.4M302.2 1285.2V1296.5M299.0 1285.2h6.4M299.0 1296.5h6.4M303.2 1286.3V1299.3M300.0 1286.3h6.4M300.0 1299.3h6.4M304.3 1286.9V1297.4M301.1 1286.9h6.4M301.1 1297.4h6.4M305.4 1285.7V1298.4M302.2 1285.7h6.4M302.2 1298.4h6.4M306.5 1284.6V1297.9M303.3 1284.6h6.4M303.3 1297.9h6.4M307.6 1284.7V1297.8M304.4 1284.7h6.4M304.4 1297.8h6.4M308.6 1287.5V1300.9M305.4 1287.5h6.4M305.4 1300.9h6.4M309.7 1285.5V1298.2M306.5 1285.5h6.4M306.5 1298.2h6.4M310.8 1288.8V1301.0M307.6 1288.8h6.4M307.6 1301.0h6.4M311.9 1287.7V1300.7M308.7 1287.7h6.4M308.7 1300.7h6.4M312.9 1288.5V1298.7M309.7 1288.5h6.4M309.7 1298.7h6.4M314.0 1288.1V1301.1M310.8 1288.1h6.4M310.8 1301.1h6.4M315.1 1289.9V1300.3M311.9 1289.9h6.4M311.9 1300.3h6.4M316.2 1288.8V1300.7M313.0 1288.8h6.4M313.0 1300.7h6.4M317.3 1290.5V1302.5M314.1 1290.5h6.4M314.1 1302.5h6.4M318.3 1291.9V1302.1M315.1 1291.9h6.4M315.1 1302.1h6.4M319.4 1291.0V1301.7M316.2 1291.0h6.4M316.2 1301.7h6.4M320.5 1287.9V1301.1M317.3 1287.9h6.4M317.3 1301.1h6.4M321.6 1290.1V1302.9M318.4 1290.1h6.4M318.4 1302.9h6.4M322.6 1287.2V1299.2M319.4 1287.2h6.4M319.4 1299.2h6.4M323.7 1289.8V1302.8M320.5 1289.8h6.4M320.5 1302.8h6.4M324.8 1296.2V1307.8M321.6 1296.2h6.4M321.6 1307.8h6.4M325.9 1291.7V1303.7M322.7 1291.7h6.4M322.7 1303.7h6.4M327.0 1288.4V1300.1M323.8 1288.4h6.4M323.8 1300.1h6.4M328.0 1290.6V1304.0M324.8 1290.6h6.4M324.8 1304.0h6.4M329.1 1293.2V1303.2M325.9 1293.2h6.4M325.9 1303.2h6.4M330.2 1292.3V1306.0M327.0 1292.3h6.4M327.0 1306.0h6.4M331.3 1290.6V1300.3M328.1 1290.6h6.4M328.1 1300.3h6.4M332.4 1290.6V1301.8M329.2 1290.6h6.4M329.2 1301.8h6.4M333.4 1289.7V1304.1M330.2 1289.7h6.4M330.2 1304.1h6.4M334.5 1292.1V1302.9M331.3 1292.1h6.4M331.3 1302.9h6.4M335.6 1290.2V1301.6M332.4 1290.2h6.4M332.4 1301.6h6.4M336.7 1291.9V1302.4M333.5 1291.9h6.4M333.5 1302.4h6.4M337.7 1294.0V1307.8M334.5 1294.0h6.4M334.5 1307.8h6.4M338.8 1292.3V1302.8M335.6 1292.3h6.4M335.6 1302.8h6.4M339.9 1293.0V1304.6M336.7 1293.0h6.4M336.7 1304.6h6.4M341.0 1293.8V1305.1M337.8 1293.8h6.4M337.8 1305.1h6.4M342.1 1292.7V1303.4M338.9 1292.7h6.4M338.9 1303.4h6.4M343.1 1293.3V1305.7M339.9 1293.3h6.4M339.9 1305.7h6.4M344.2 1299.1V1310.5M341.0 1299.1h6.4M341.0 1310.5h6.4M345.3 1290.0V1304.3M342.1 1290.0h6.4M342.1 1304.3h6.4M346.4 1292.3V1304.2M343.2 1292.3h6.4M343.2 1304.2h6.4M347.4 1293.8V1307.0M344.2 1293.8h6.4M344.2 1307.0h6.4M348.5 1296.1V1305.9M345.3 1296.1h6.4M345.3 1305.9h6.4M349.6 1293.3V1307.0M346.4 1293.3h6.4M346.4 1307.0h6.4M350.7 1296.7V1309.2M347.5 1296.7h6.4M347.5 1309.2h6.4M351.8 1294.7V1305.9M348.6 1294.7h6.4M348.6 1305.9h6.4M352.8 1295.2V1307.6M349.6 1295.2h6.4M349.6 1307.6h6.4M353.9 1296.9V1306.7M350.7 1296.9h6.4M350.7 1306.7h6.4M355.0 1297.7V1308.2M351.8 1297.7h6.4M351.8 1308.2h6.4M356.1 1296.1V1309.2M352.9 1296.1h6.4M352.9 1309.2h6.4M357.2 1293.8V1305.7M354.0 1293.8h6.4M354.0 1305.7h6.4M358.2 1292.5V1306.5M355.0 1292.5h6.4M355.0 1306.5h6.4M359.3 1294.5V1307.7M356.1 1294.5h6.4M356.1 1307.7h6.4M360.4 1295.1V1309.3M357.2 1295.1h6.4M357.2 1309.3h6.4M361.5 1296.9V1310.7M358.3 1296.9h6.4M358.3 1310.7h6.4M362.5 1296.0V1306.3M359.3 1296.0h6.4M359.3 1306.3h6.4M363.6 1292.8V1306.5M360.4 1292.8h6.4M360.4 1306.5h6.4M364.7 1298.8V1311.9M361.5 1298.8h6.4M361.5 1311.9h6.4M365.8 1295.3V1305.9M362.6 1295.3h6.4M362.6 1305.9h6.4M366.9 1301.3V1311.7M363.7 1301.3h6.4M363.7 1311.7h6.4M367.9 1297.8V1309.0M364.7 1297.8h6.4M364.7 1309.0h6.4M369.0 1295.4V1309.0M365.8 1295.4h6.4M365.8 1309.0h6.4M370.1 1299.5V1311.1M366.9 1299.5h6.4M366.9 1311.1h6.4M371.2 1299.5V1311.8M368.0 1299.5h6.4M368.0 1311.8h6.4M372.2 1296.7V1308.8M369.1 1296.7h6.4M369.1 1308.8h6.4M373.3 1295.3V1308.0M370.1 1295.3h6.4M370.1 1308.0h6.4M374.4 1298.2V1310.0M371.2 1298.2h6.4M371.2 1310.0h6.4M375.5 1296.0V1306.0M372.3 1296.0h6.4M372.3 1306.0h6.4M376.6 1297.6V1312.0M373.4 1297.6h6.4M373.4 1312.0h6.4M377.6 1294.2V1306.7M374.4 1294.2h6.4M374.4 1306.7h6.4M378.7 1298.5V1308.3M375.5 1298.5h6.4M375.5 1308.3h6.4M379.8 1297.9V1308.6M376.6 1297.9h6.4M376.6 1308.6h6.4M380.9 1295.6V1309.8M377.7 1295.6h6.4M377.7 1309.8h6.4M382.0 1296.1V1310.4M378.8 1296.1h6.4M378.8 1310.4h6.4M383.0 1294.6V1306.8M379.8 1294.6h6.4M379.8 1306.8h6.4M384.1 1294.4V1305.9M380.9 1294.4h6.4M380.9 1305.9h6.4M385.2 1297.2V1309.0M382.0 1297.2h6.4M382.0 1309.0h6.4M386.3 1298.8V1310.1M383.1 1298.8h6.4M383.1 1310.1h6.4M387.3 1300.2V1312.3M384.1 1300.2h6.4M384.1 1312.3h6.4M388.4 1299.3V1312.0M385.2 1299.3h6.4M385.2 1312.0h6.4M389.5 1299.2V1309.6M386.3 1299.2h6.4M386.3 1309.6h6.4M390.6 1297.5V1311.8M387.4 1297.5h6.4M387.4 1311.8h6.4M391.7 1299.3V1310.0M388.5 1299.3h6.4M388.5 1310.0h6.4M392.7 1299.6V1309.7M389.5 1299.6h6.4M389.5 1309.7h6.4M393.8 1297.5V1310.2M390.6 1297.5h6.4M390.6 1310.2h6.4M394.9 1301.4V1312.9M391.7 1301.4h6.4M391.7 1312.9h6.4M396.0 1300.0V1313.3M392.8 1300.0h6.4M392.8 1313.3h6.4M397.1 1297.7V1308.3M393.9 1297.7h6.4M393.9 1308.3h6.4M398.1 1297.4V1309.8M394.9 1297.4h6.4M394.9 1309.8h6.4M399.2 1300.9V1311.2M396.0 1300.9h6.4M396.0 1311.2h6.4M400.3 1296.1V1309.8M397.1 1296.1h6.4M397.1 1309.8h6.4M401.4 1301.0V1311.9M398.2 1301.0h6.4M398.2 1311.9h6.4M402.4 1298.6V1313.0M399.2 1298.6h6.4M399.2 1313.0h6.4M403.5 1303.2V1314.0M400.3 1303.2h6.4M400.3 1314.0h6.4M404.6 1297.8V1310.3M401.4 1297.8h6.4M401.4 1310.3h6.4M405.7 1299.7V1311.4M402.5 1299.7h6.4M402.5 1311.4h6.4" fill="none" stroke="#4b57be" stroke-width="1.15"/>
<polyline points="145.8,1472.4 146.9,1472.3 148.0,1471.0 149.0,1472.3 150.1,1475.0 151.2,1473.8 152.3,1474.8 153.3,1474.5 154.4,1476.6 155.5,1475.0 156.6,1475.3 157.7,1474.3 158.7,1475.8 159.8,1475.9 160.9,1478.1 162.0,1474.7 163.1,1479.0 164.1,1476.4 165.2,1478.0 166.3,1478.8 167.4,1478.9 168.4,1478.7 169.5,1477.5 170.6,1477.9 171.7,1476.1 172.8,1479.2 173.8,1477.3 174.9,1478.0 176.0,1476.2 177.1,1478.8 178.2,1476.9 179.2,1476.2 180.3,1477.7 181.4,1475.2 182.5,1475.8 183.5,1474.8 184.6,1474.7 185.7,1476.4 186.8,1476.1 187.9,1475.4 188.9,1474.3 190.0,1474.3 191.1,1476.0 192.2,1476.1 193.2,1476.4 194.3,1476.4 195.4,1476.2 196.5,1476.3 197.6,1474.3 198.6,1476.9 199.7,1476.9 200.8,1476.3 201.9,1477.9 203.0,1477.5 204.0,1477.2 205.1,1476.7 206.2,1478.9 207.3,1476.4 208.3,1478.2 209.4,1477.9 210.5,1477.4 211.6,1477.6 212.7,1477.3 213.7,1478.2 214.8,1478.5 215.9,1478.2 217.0,1479.5 218.0,1477.4 219.1,1479.4 220.2,1479.9 221.3,1476.8 222.4,1479.0 223.4,1480.0 224.5,1477.1 225.6,1479.3 226.7,1478.0 227.8,1479.9 228.8,1479.4 229.9,1480.8 231.0,1481.1 232.1,1480.2 233.1,1479.4 234.2,1478.6 235.3,1477.1 236.4,1480.5 237.5,1478.6 238.5,1480.2 239.6,1479.8 240.7,1481.2 241.8,1481.2 242.9,1480.6 243.9,1481.0 245.0,1479.9 246.1,1480.6 247.2,1478.7 248.2,1479.8 249.3,1479.8 250.4,1478.9 251.5,1479.6 252.6,1480.1 253.6,1480.2 254.7,1480.3 255.8,1479.1 256.9,1479.4 257.9,1479.9 259.0,1479.5 260.1,1480.8 261.2,1479.8 262.3,1481.7 263.3,1479.1 264.4,1480.3 265.5,1480.2 266.6,1479.9 267.7,1480.5 268.7,1480.7 269.8,1479.4 270.9,1480.4 272.0,1481.5 273.0,1480.2 274.1,1482.3 275.4,1446.8 275.8,1438.7 276.3,1374.1 276.7,1349.9 277.1,1313.6 277.4,1309.5 278.4,1277.4 279.5,1271.8 280.6,1274.4 281.7,1275.7 282.7,1277.2 283.8,1278.4 284.9,1282.2 286.0,1282.4 287.1,1281.2 288.1,1283.5 289.2,1283.4 290.3,1284.3 291.4,1288.0 292.5,1288.2 293.5,1292.0 294.6,1288.5 295.7,1286.4 296.8,1291.3 297.8,1287.6 298.9,1288.3 300.0,1290.5 301.1,1290.7 302.2,1290.9 303.2,1292.8 304.3,1292.1 305.4,1292.1 306.5,1291.2 307.6,1291.2 308.6,1294.2 309.7,1291.8 310.8,1294.9 311.9,1294.2 312.9,1293.6 314.0,1294.6 315.1,1295.1 316.2,1294.7 317.3,1296.5 318.3,1297.0 319.4,1296.4 320.5,1294.5 321.6,1296.5 322.6,1293.2 323.7,1296.3 324.8,1302.0 325.9,1297.7 327.0,1294.2 328.0,1297.3 329.1,1298.2 330.2,1299.1 331.3,1295.5 332.4,1296.2 333.4,1296.9 334.5,1297.5 335.6,1295.9 336.7,1297.2 337.7,1300.9 338.8,1297.6 339.9,1298.8 341.0,1299.4 342.1,1298.1 343.1,1299.5 344.2,1304.8 345.3,1297.2 346.4,1298.2 347.4,1300.4 348.5,1301.0 349.6,1300.1 350.7,1302.9 351.8,1300.3 352.8,1301.4 353.9,1301.8 355.0,1302.9 356.1,1302.7 357.2,1299.7 358.2,1299.5 359.3,1301.1 360.4,1302.2 361.5,1303.8 362.5,1301.1 363.6,1299.7 364.7,1305.4 365.8,1300.6 366.9,1306.5 367.9,1303.4 369.0,1302.2 370.1,1305.3 371.2,1305.7 372.2,1302.8 373.3,1301.7 374.4,1304.1 375.5,1301.0 376.6,1304.8 377.6,1300.5 378.7,1303.4 379.8,1303.3 380.9,1302.7 382.0,1303.3 383.0,1300.7 384.1,1300.2 385.2,1303.1 386.3,1304.4 387.3,1306.3 388.4,1305.6 389.5,1304.4 390.6,1304.7 391.7,1304.6 392.7,1304.6 393.8,1303.9 394.9,1307.2 396.0,1306.7 397.1,1303.0 398.1,1303.6 399.2,1306.1 400.3,1302.9 401.4,1306.5 402.4,1305.8 403.5,1308.6 404.6,1304.1 405.7,1305.5" fill="none" stroke="#4b57be" stroke-width="2.4" stroke-linejoin="round"/>
<!-- panel f -->
<text x="258.00" y="1662.00" font-size="53.00" stroke="#fff" stroke-width="0.35">f</text>
<rect x="406.00" y="1639.00" width="188.00" height="11.30" fill="#fff" stroke="#000" stroke-width="1.1"/>
<rect x="594.00" y="1638.50" width="73.00" height="12.30" fill="#0a0a0a"/>
<rect x="429.60" y="1654.60" width="236.90" height="11.80" fill="#adadad" stroke="#000" stroke-width="1.1"/>
<text x="499.93" y="1626.70" font-size="26.80">0</text>
<text x="573.96" y="1626.70" font-size="26.8">2 mM Ca<tspan font-size="15.6" dy="-7.8" dx="0.8">2+</tspan></text>
<text x="502.20" y="1695.70" font-size="26.80">TG</text>
<line x1="406.00" y1="1675.00" x2="406.00" y2="1936.30" stroke="#000" stroke-width="2.6"/>
<line x1="404.70" y1="1935.00" x2="667.30" y2="1935.00" stroke="#000" stroke-width="2.6"/>
<line x1="398.70" y1="1676.30" x2="406.00" y2="1676.30" stroke="#000" stroke-width="2.6"/>
<text x="358.20" y="1686.50" font-size="24.00">2.5</text>
<line x1="398.70" y1="1744.00" x2="406.00" y2="1744.00" stroke="#000" stroke-width="2.6"/>
<text x="358.14" y="1754.20" font-size="24.00">2.0</text>
<line x1="398.70" y1="1812.00" x2="406.00" y2="1812.00" stroke="#000" stroke-width="2.6"/>
<text x="358.20" y="1822.20" font-size="24.00">1.5</text>
<line x1="398.70" y1="1880.00" x2="406.00" y2="1880.00" stroke="#000" stroke-width="2.6"/>
<text x="358.14" y="1890.20" font-size="24.00">1.0</text>
<line x1="406.00" y1="1935.00" x2="406.00" y2="1942.30" stroke="#000" stroke-width="2.6"/>
<line x1="471.00" y1="1935.00" x2="471.00" y2="1942.30" stroke="#000" stroke-width="2.6"/>
<line x1="536.00" y1="1935.00" x2="536.00" y2="1942.30" stroke="#000" stroke-width="2.6"/>
<line x1="601.00" y1="1935.00" x2="601.00" y2="1942.30" stroke="#000" stroke-width="2.6"/>
<line x1="666.00" y1="1935.00" x2="666.00" y2="1942.30" stroke="#000" stroke-width="2.6"/>
<text x="396.97" y="1974.00" font-size="25.76">0</text>
<text x="445.31" y="1974.00" font-size="23.73">250</text>
<text x="510.56" y="1974.00" font-size="23.58">500</text>
<text x="575.31" y="1974.00" font-size="23.73">750</text>
<text x="629.68" y="1974.00" font-size="24.31">1000</text>
<text x="519.72" y="2005.80" font-size="25.73">Time (s)</text>
<text x="344.60" y="1914.23" font-size="27.80" transform="rotate(-90 344.60 1914.23)" textLength="210.03" lengthAdjust="spacingAndGlyphs">Fura2 (F340/380)</text>
<g transform="translate(429,1723.3)" fill="#7c7a78"><path d="M40 54.5 C 22 56, 8 54, 3.5 44 C 1 38, 2 32, 5 28.5" fill="none" stroke="#7c7a78" stroke-width="2.0" stroke-linecap="round"/><path d="M36 55.5 C 33 45, 35 30, 44 21 C 51 14, 61 12.5, 68 14 C 66 10, 66.5 4.5, 70 2 C 74 -0.5, 79 1, 80.5 5 C 81.5 8, 80.5 10.5, 79.5 12 C 86 13.5, 92 17, 97 22 C 100 24.5, 102 26.5, 100.5 28.5 C 98 31.5, 92 33, 86 33.5 C 84.5 35.5, 82 37, 79.5 38 C 84 38, 89 39, 90 42 C 90.5 44, 88 44.5, 86 43.5 C 87.5 45.5, 86 47.5, 83.5 46.5 C 79 44.5, 74 44.5, 70.5 44 C 72 47.5, 75 50.5, 79 51.5 C 82.5 52, 83.5 55.5, 80 55.5 Z"/><circle cx="87.5" cy="20.8" r="1.7" fill="#fff"/></g>
<rect x="691.60" y="1752.50" width="21.60" height="21.40" fill="#4b57be"/>
<text x="721.75" y="1770.70" font-size="27.30">DMSO</text>
<rect x="691.60" y="1784.80" width="21.60" height="21.40" fill="#e2351c"/>
<text x="721.75" y="1803.00" font-size="27.30">BTP2</text>
<path d="M406.0 1878.8V1883.1M403.4 1878.8h5.2M403.4 1883.1h5.2M407.0 1877.8V1881.9M404.4 1877.8h5.2M404.4 1881.9h5.2M408.1 1877.9V1881.7M405.5 1877.9h5.2M405.5 1881.7h5.2M409.1 1877.4V1881.9M406.5 1877.4h5.2M406.5 1881.9h5.2M410.2 1878.7V1882.3M407.6 1878.7h5.2M407.6 1882.3h5.2M411.2 1877.7V1882.1M408.6 1877.7h5.2M408.6 1882.1h5.2M412.2 1878.2V1882.7M409.6 1878.2h5.2M409.6 1882.7h5.2M413.3 1878.4V1882.1M410.7 1878.4h5.2M410.7 1882.1h5.2M414.3 1877.8V1882.3M411.7 1877.8h5.2M411.7 1882.3h5.2M415.4 1877.4V1881.1M412.8 1877.4h5.2M412.8 1881.1h5.2M416.4 1878.3V1882.1M413.8 1878.3h5.2M413.8 1882.1h5.2M417.4 1877.9V1882.0M414.8 1877.9h5.2M414.8 1882.0h5.2M418.5 1878.2V1882.8M415.9 1878.2h5.2M415.9 1882.8h5.2M419.5 1878.4V1882.3M416.9 1878.4h5.2M416.9 1882.3h5.2M420.6 1878.6V1882.2M418.0 1878.6h5.2M418.0 1882.2h5.2M421.6 1878.0V1882.2M419.0 1878.0h5.2M419.0 1882.2h5.2M422.6 1877.7V1881.5M420.0 1877.7h5.2M420.0 1881.5h5.2M423.7 1878.3V1882.9M421.1 1878.3h5.2M421.1 1882.9h5.2M424.7 1877.7V1881.5M422.1 1877.7h5.2M422.1 1881.5h5.2M425.8 1878.4V1882.6M423.2 1878.4h5.2M423.2 1882.6h5.2M426.8 1878.0V1881.6M424.2 1878.0h5.2M424.2 1881.6h5.2M427.8 1878.2V1882.4M425.2 1878.2h5.2M425.2 1882.4h5.2M428.9 1878.3V1882.1M426.3 1878.3h5.2M426.3 1882.1h5.2M429.9 1878.0V1882.5M427.3 1878.0h5.2M427.3 1882.5h5.2M431.0 1877.5V1881.3M428.4 1877.5h5.2M428.4 1881.3h5.2M432.0 1877.8V1881.9M429.4 1877.8h5.2M429.4 1881.9h5.2M433.0 1876.1V1880.5M430.4 1876.1h5.2M430.4 1880.5h5.2M434.1 1876.2V1879.9M431.5 1876.2h5.2M431.5 1879.9h5.2M435.1 1874.9V1878.8M432.5 1874.9h5.2M432.5 1878.8h5.2M436.2 1872.6V1877.0M433.6 1872.6h5.2M433.6 1877.0h5.2M437.2 1873.3V1877.7M434.6 1873.3h5.2M434.6 1877.7h5.2M438.2 1871.9V1876.3M435.6 1871.9h5.2M435.6 1876.3h5.2M439.3 1870.7V1875.0M436.7 1870.7h5.2M436.7 1875.0h5.2M440.3 1868.7V1873.0M437.7 1868.7h5.2M437.7 1873.0h5.2M441.4 1869.3V1873.3M438.8 1869.3h5.2M438.8 1873.3h5.2M442.4 1867.3V1871.9M439.8 1867.3h5.2M439.8 1871.9h5.2M443.4 1866.3V1870.2M440.8 1866.3h5.2M440.8 1870.2h5.2M444.5 1866.1V1870.6M441.9 1866.1h5.2M441.9 1870.6h5.2M445.5 1865.8V1870.0M442.9 1865.8h5.2M442.9 1870.0h5.2M446.6 1864.9V1868.8M444.0 1864.9h5.2M444.0 1868.8h5.2M447.6 1866.3V1869.9M445.0 1866.3h5.2M445.0 1869.9h5.2M448.6 1866.6V1870.1M446.0 1866.6h5.2M446.0 1870.1h5.2M449.7 1865.4V1869.2M447.1 1865.4h5.2M447.1 1869.2h5.2M450.7 1865.9V1870.2M448.1 1865.9h5.2M448.1 1870.2h5.2M451.8 1865.0V1869.3M449.2 1865.0h5.2M449.2 1869.3h5.2M452.8 1866.1V1869.8M450.2 1866.1h5.2M450.2 1869.8h5.2M453.8 1867.6V1871.6M451.2 1867.6h5.2M451.2 1871.6h5.2M454.9 1867.0V1870.8M452.3 1867.0h5.2M452.3 1870.8h5.2M455.9 1867.6V1871.3M453.3 1867.6h5.2M453.3 1871.3h5.2M457.0 1868.1V1872.3M454.4 1868.1h5.2M454.4 1872.3h5.2M458.0 1867.6V1871.7M455.4 1867.6h5.2M455.4 1871.7h5.2M459.0 1869.5V1873.7M456.4 1869.5h5.2M456.4 1873.7h5.2M460.1 1869.7V1873.7M457.5 1869.7h5.2M457.5 1873.7h5.2M461.1 1869.5V1873.9M458.5 1869.5h5.2M458.5 1873.9h5.2M462.2 1869.6V1873.2M459.6 1869.6h5.2M459.6 1873.2h5.2M463.2 1871.0V1875.1M460.6 1871.0h5.2M460.6 1875.1h5.2M464.2 1871.2V1874.8M461.6 1871.2h5.2M461.6 1874.8h5.2M465.3 1871.6V1875.2M462.7 1871.6h5.2M462.7 1875.2h5.2M466.3 1872.0V1876.3M463.7 1872.0h5.2M463.7 1876.3h5.2M467.4 1872.0V1875.6M464.8 1872.0h5.2M464.8 1875.6h5.2M468.4 1872.3V1876.7M465.8 1872.3h5.2M465.8 1876.7h5.2M469.4 1872.6V1876.3M466.8 1872.6h5.2M466.8 1876.3h5.2M470.5 1872.4V1876.1M467.9 1872.4h5.2M467.9 1876.1h5.2M471.5 1873.1V1877.3M468.9 1873.1h5.2M468.9 1877.3h5.2M472.6 1873.6V1877.4M470.0 1873.6h5.2M470.0 1877.4h5.2M473.6 1873.7V1877.9M471.0 1873.7h5.2M471.0 1877.9h5.2M474.6 1874.0V1878.0M472.0 1874.0h5.2M472.0 1878.0h5.2M475.7 1874.4V1878.9M473.1 1874.4h5.2M473.1 1878.9h5.2M476.7 1874.6V1878.9M474.1 1874.6h5.2M474.1 1878.9h5.2M477.8 1874.2V1878.3M475.2 1874.2h5.2M475.2 1878.3h5.2M478.8 1875.0V1879.2M476.2 1875.0h5.2M476.2 1879.2h5.2M479.8 1872.9V1877.4M477.2 1872.9h5.2M477.2 1877.4h5.2M480.9 1875.6V1879.6M478.3 1875.6h5.2M478.3 1879.6h5.2M481.9 1875.1V1879.3M479.3 1875.1h5.2M479.3 1879.3h5.2M483.0 1876.4V1880.7M480.4 1876.4h5.2M480.4 1880.7h5.2M484.0 1876.0V1880.2M481.4 1876.0h5.2M481.4 1880.2h5.2M485.0 1876.3V1880.4M482.4 1876.3h5.2M482.4 1880.4h5.2M486.1 1876.0V1880.2M483.5 1876.0h5.2M483.5 1880.2h5.2M487.1 1875.5V1879.3M484.5 1875.5h5.2M484.5 1879.3h5.2M488.2 1876.4V1880.1M485.6 1876.4h5.2M485.6 1880.1h5.2M489.2 1876.9V1880.9M486.6 1876.9h5.2M486.6 1880.9h5.2M490.2 1876.2V1880.3M487.6 1876.2h5.2M487.6 1880.3h5.2M491.3 1876.9V1880.8M488.7 1876.9h5.2M488.7 1880.8h5.2M492.3 1876.4V1880.6M489.7 1876.4h5.2M489.7 1880.6h5.2M493.4 1875.5V1879.7M490.8 1875.5h5.2M490.8 1879.7h5.2M494.4 1875.8V1880.2M491.8 1875.8h5.2M491.8 1880.2h5.2M495.4 1875.9V1880.1M492.8 1875.9h5.2M492.8 1880.1h5.2M496.5 1876.1V1880.6M493.9 1876.1h5.2M493.9 1880.6h5.2M497.5 1876.6V1880.8M494.9 1876.6h5.2M494.9 1880.8h5.2M498.6 1877.6V1881.5M496.0 1877.6h5.2M496.0 1881.5h5.2M499.6 1877.0V1881.1M497.0 1877.0h5.2M497.0 1881.1h5.2M500.6 1877.3V1880.9M498.0 1877.3h5.2M498.0 1880.9h5.2M501.7 1876.4V1880.6M499.1 1876.4h5.2M499.1 1880.6h5.2M502.7 1876.1V1880.7M500.1 1876.1h5.2M500.1 1880.7h5.2M503.8 1876.6V1880.9M501.2 1876.6h5.2M501.2 1880.9h5.2M504.8 1877.7V1881.3M502.2 1877.7h5.2M502.2 1881.3h5.2M505.8 1876.0V1880.2M503.2 1876.0h5.2M503.2 1880.2h5.2M506.9 1876.6V1880.2M504.3 1876.6h5.2M504.3 1880.2h5.2M507.9 1877.2V1881.5M505.3 1877.2h5.2M505.3 1881.5h5.2M509.0 1877.3V1881.0M506.4 1877.3h5.2M506.4 1881.0h5.2M510.0 1876.8V1881.1M507.4 1876.8h5.2M507.4 1881.1h5.2M511.0 1877.5V1881.0M508.4 1877.5h5.2M508.4 1881.0h5.2M512.1 1877.2V1881.5M509.5 1877.2h5.2M509.5 1881.5h5.2M513.1 1877.0V1881.2M510.5 1877.0h5.2M510.5 1881.2h5.2M514.2 1877.2V1881.5M511.6 1877.2h5.2M511.6 1881.5h5.2M515.2 1877.1V1881.4M512.6 1877.1h5.2M512.6 1881.4h5.2M516.2 1878.2V1882.3M513.6 1878.2h5.2M513.6 1882.3h5.2M517.3 1878.0V1882.5M514.7 1878.0h5.2M514.7 1882.5h5.2M518.3 1876.3V1880.6M515.7 1876.3h5.2M515.7 1880.6h5.2M519.4 1878.2V1882.2M516.8 1878.2h5.2M516.8 1882.2h5.2M520.4 1877.2V1881.1M517.8 1877.2h5.2M517.8 1881.1h5.2M521.4 1877.3V1881.2M518.8 1877.3h5.2M518.8 1881.2h5.2M522.5 1877.3V1881.3M519.9 1877.3h5.2M519.9 1881.3h5.2M523.5 1877.6V1882.0M520.9 1877.6h5.2M520.9 1882.0h5.2M524.6 1877.1V1880.7M522.0 1877.1h5.2M522.0 1880.7h5.2M525.6 1877.3V1881.2M523.0 1877.3h5.2M523.0 1881.2h5.2M526.6 1877.4V1881.9M524.0 1877.4h5.2M524.0 1881.9h5.2M527.7 1878.3V1882.2M525.1 1878.3h5.2M525.1 1882.2h5.2M528.7 1877.4V1881.8M526.1 1877.4h5.2M526.1 1881.8h5.2M529.8 1877.9V1881.7M527.2 1877.9h5.2M527.2 1881.7h5.2M530.8 1877.9V1882.4M528.2 1877.9h5.2M528.2 1882.4h5.2M531.8 1877.5V1881.1M529.2 1877.5h5.2M529.2 1881.1h5.2M532.9 1877.1V1881.3M530.3 1877.1h5.2M530.3 1881.3h5.2M533.9 1877.2V1880.9M531.3 1877.2h5.2M531.3 1880.9h5.2M535.0 1877.4V1881.5M532.4 1877.4h5.2M532.4 1881.5h5.2M536.0 1877.6V1881.7M533.4 1877.6h5.2M533.4 1881.7h5.2M537.0 1877.1V1880.8M534.4 1877.1h5.2M534.4 1880.8h5.2M538.1 1877.2V1881.0M535.5 1877.2h5.2M535.5 1881.0h5.2M539.1 1876.5V1880.1M536.5 1876.5h5.2M536.5 1880.1h5.2M540.2 1877.3V1881.2M537.6 1877.3h5.2M537.6 1881.2h5.2M541.2 1878.2V1881.9M538.6 1878.2h5.2M538.6 1881.9h5.2M542.2 1877.2V1880.9M539.6 1877.2h5.2M539.6 1880.9h5.2M543.3 1876.4V1880.2M540.7 1876.4h5.2M540.7 1880.2h5.2M544.3 1877.6V1881.3M541.7 1877.6h5.2M541.7 1881.3h5.2M545.4 1877.4V1881.9M542.8 1877.4h5.2M542.8 1881.9h5.2M546.4 1877.7V1882.1M543.8 1877.7h5.2M543.8 1882.1h5.2M547.4 1876.8V1880.4M544.8 1876.8h5.2M544.8 1880.4h5.2M548.5 1877.9V1881.6M545.9 1877.9h5.2M545.9 1881.6h5.2M549.5 1877.5V1882.0M546.9 1877.5h5.2M546.9 1882.0h5.2M550.6 1877.4V1881.5M548.0 1877.4h5.2M548.0 1881.5h5.2M551.6 1878.4V1882.4M549.0 1878.4h5.2M549.0 1882.4h5.2M552.6 1878.0V1881.6M550.0 1878.0h5.2M550.0 1881.6h5.2M553.7 1878.5V1882.1M551.1 1878.5h5.2M551.1 1882.1h5.2M554.7 1877.7V1881.7M552.1 1877.7h5.2M552.1 1881.7h5.2M555.8 1877.4V1881.4M553.2 1877.4h5.2M553.2 1881.4h5.2M556.8 1877.2V1881.1M554.2 1877.2h5.2M554.2 1881.1h5.2M557.8 1878.1V1881.7M555.2 1878.1h5.2M555.2 1881.7h5.2M558.9 1877.3V1881.2M556.3 1877.3h5.2M556.3 1881.2h5.2M559.9 1877.8V1882.0M557.3 1877.8h5.2M557.3 1882.0h5.2M561.0 1878.6V1882.6M558.4 1878.6h5.2M558.4 1882.6h5.2M562.0 1877.4V1881.4M559.4 1877.4h5.2M559.4 1881.4h5.2M563.0 1877.6V1882.0M560.4 1877.6h5.2M560.4 1882.0h5.2M564.1 1877.8V1881.5M561.5 1877.8h5.2M561.5 1881.5h5.2M565.1 1879.0V1883.3M562.5 1879.0h5.2M562.5 1883.3h5.2M566.2 1877.7V1881.5M563.6 1877.7h5.2M563.6 1881.5h5.2M567.2 1877.4V1881.8M564.6 1877.4h5.2M564.6 1881.8h5.2M568.2 1877.7V1881.6M565.6 1877.7h5.2M565.6 1881.6h5.2M569.3 1877.4V1881.0M566.7 1877.4h5.2M566.7 1881.0h5.2M570.3 1877.9V1882.0M567.7 1877.9h5.2M567.7 1882.0h5.2M571.4 1876.8V1880.4M568.8 1876.8h5.2M568.8 1880.4h5.2M572.4 1877.2V1881.5M569.8 1877.2h5.2M569.8 1881.5h5.2M573.4 1877.2V1881.7M570.8 1877.2h5.2M570.8 1881.7h5.2M574.5 1879.1V1883.2M571.9 1879.1h5.2M571.9 1883.2h5.2M575.5 1878.7V1883.1M572.9 1878.7h5.2M572.9 1883.1h5.2M576.6 1876.9V1881.0M574.0 1876.9h5.2M574.0 1881.0h5.2M577.6 1877.4V1881.8M575.0 1877.4h5.2M575.0 1881.8h5.2M578.6 1877.4V1881.2M576.0 1877.4h5.2M576.0 1881.2h5.2M579.7 1878.2V1881.9M577.1 1878.2h5.2M577.1 1881.9h5.2M580.7 1878.1V1881.7M578.1 1878.1h5.2M578.1 1881.7h5.2M581.8 1877.6V1881.4M579.2 1877.6h5.2M579.2 1881.4h5.2M582.8 1878.3V1882.3M580.2 1878.3h5.2M580.2 1882.3h5.2M583.8 1877.2V1881.1M581.2 1877.2h5.2M581.2 1881.1h5.2M584.9 1878.6V1882.3M582.3 1878.6h5.2M582.3 1882.3h5.2M585.9 1877.7V1881.8M583.3 1877.7h5.2M583.3 1881.8h5.2M587.0 1878.2V1881.8M584.4 1878.2h5.2M584.4 1881.8h5.2M588.0 1877.7V1881.7M585.4 1877.7h5.2M585.4 1881.7h5.2M589.0 1877.0V1881.4M586.4 1877.0h5.2M586.4 1881.4h5.2M590.1 1878.4V1882.6M587.5 1878.4h5.2M587.5 1882.6h5.2M591.1 1877.6V1881.7M588.5 1877.6h5.2M588.5 1881.7h5.2M592.2 1877.8V1881.8M589.6 1877.8h5.2M589.6 1881.8h5.2M593.2 1877.4V1881.5M590.6 1877.4h5.2M590.6 1881.5h5.2M594.2 1878.1V1881.7M591.6 1878.1h5.2M591.6 1881.7h5.2M595.3 1878.4V1882.0M592.7 1878.4h5.2M592.7 1882.0h5.2M596.3 1877.7V1881.6M593.7 1877.7h5.2M593.7 1881.6h5.2M597.4 1873.6V1884.8M594.8 1873.6h5.2M594.8 1884.8h5.2M598.4 1865.2V1875.6M595.8 1865.2h5.2M595.8 1875.6h5.2M599.4 1856.3V1867.1M596.8 1856.3h5.2M596.8 1867.1h5.2M600.5 1847.5V1858.8M597.9 1847.5h5.2M597.9 1858.8h5.2M601.5 1840.4V1851.7M598.9 1840.4h5.2M598.9 1851.7h5.2M602.6 1833.4V1844.4M600.0 1833.4h5.2M600.0 1844.4h5.2M603.6 1831.5V1841.8M601.0 1831.5h5.2M601.0 1841.8h5.2M604.6 1830.2V1839.2M602.0 1830.2h5.2M602.0 1839.2h5.2M605.7 1827.7V1837.7M603.1 1827.7h5.2M603.1 1837.7h5.2M606.7 1827.7V1837.5M604.1 1827.7h5.2M604.1 1837.5h5.2M607.8 1827.4V1837.8M605.2 1827.4h5.2M605.2 1837.8h5.2M608.8 1826.5V1837.5M606.2 1826.5h5.2M606.2 1837.5h5.2M609.8 1828.0V1839.3M607.2 1828.0h5.2M607.2 1839.3h5.2M610.9 1828.5V1839.6M608.3 1828.5h5.2M608.3 1839.6h5.2M611.9 1828.1V1838.8M609.3 1828.1h5.2M609.3 1838.8h5.2M613.0 1829.2V1839.7M610.4 1829.2h5.2M610.4 1839.7h5.2M614.0 1830.4V1840.6M611.4 1830.4h5.2M611.4 1840.6h5.2M615.0 1830.2V1839.3M612.4 1830.2h5.2M612.4 1839.3h5.2M616.1 1831.3V1841.2M613.5 1831.3h5.2M613.5 1841.2h5.2M617.1 1831.8V1841.9M614.5 1831.8h5.2M614.5 1841.9h5.2M618.2 1832.5V1842.6M615.6 1832.5h5.2M615.6 1842.6h5.2M619.2 1832.5V1844.0M616.6 1832.5h5.2M616.6 1844.0h5.2M620.2 1832.9V1843.6M617.6 1832.9h5.2M617.6 1843.6h5.2M621.3 1833.7V1845.1M618.7 1833.7h5.2M618.7 1845.1h5.2M622.3 1832.5V1843.4M619.7 1832.5h5.2M619.7 1843.4h5.2M623.4 1834.2V1844.6M620.8 1834.2h5.2M620.8 1844.6h5.2M624.4 1834.8V1845.3M621.8 1834.8h5.2M621.8 1845.3h5.2M625.4 1835.4V1845.9M622.8 1835.4h5.2M622.8 1845.9h5.2M626.5 1835.3V1845.4M623.9 1835.3h5.2M623.9 1845.4h5.2M627.5 1835.6V1845.0M624.9 1835.6h5.2M624.9 1845.0h5.2M628.6 1836.5V1845.6M626.0 1836.5h5.2M626.0 1845.6h5.2M629.6 1837.4V1846.8M627.0 1837.4h5.2M627.0 1846.8h5.2M630.6 1837.1V1846.7M628.0 1837.1h5.2M628.0 1846.7h5.2M631.7 1837.2V1848.8M629.1 1837.2h5.2M629.1 1848.8h5.2M632.7 1836.6V1846.6M630.1 1836.6h5.2M630.1 1846.6h5.2M633.8 1837.4V1847.3M631.2 1837.4h5.2M631.2 1847.3h5.2M634.8 1838.1V1847.7M632.2 1838.1h5.2M632.2 1847.7h5.2M635.8 1837.6V1848.7M633.2 1837.6h5.2M633.2 1848.7h5.2M636.9 1838.8V1849.1M634.3 1838.8h5.2M634.3 1849.1h5.2M637.9 1839.1V1849.0M635.3 1839.1h5.2M635.3 1849.0h5.2M639.0 1838.5V1849.0M636.4 1838.5h5.2M636.4 1849.0h5.2M640.0 1839.7V1849.5M637.4 1839.7h5.2M637.4 1849.5h5.2M641.0 1839.2V1849.7M638.4 1839.2h5.2M638.4 1849.7h5.2M642.1 1839.2V1850.5M639.5 1839.2h5.2M639.5 1850.5h5.2M643.1 1840.2V1849.9M640.5 1840.2h5.2M640.5 1849.9h5.2M644.2 1839.5V1850.8M641.6 1839.5h5.2M641.6 1850.8h5.2M645.2 1839.9V1850.0M642.6 1839.9h5.2M642.6 1850.0h5.2M646.2 1841.3V1850.5M643.6 1841.3h5.2M643.6 1850.5h5.2M647.3 1841.1V1850.0M644.7 1841.1h5.2M644.7 1850.0h5.2M648.3 1841.8V1851.3M645.7 1841.8h5.2M645.7 1851.3h5.2M649.4 1841.6V1851.6M646.8 1841.6h5.2M646.8 1851.6h5.2M650.4 1841.3V1852.5M647.8 1841.3h5.2M647.8 1852.5h5.2M651.4 1841.2V1851.2M648.8 1841.2h5.2M648.8 1851.2h5.2M652.5 1841.6V1852.5M649.9 1841.6h5.2M649.9 1852.5h5.2M653.5 1841.3V1851.5M650.9 1841.3h5.2M650.9 1851.5h5.2M654.6 1842.7V1852.9M652.0 1842.7h5.2M652.0 1852.9h5.2M655.6 1842.7V1851.7M653.0 1842.7h5.2M653.0 1851.7h5.2M656.6 1843.1V1853.4M654.0 1843.1h5.2M654.0 1853.4h5.2M657.7 1841.7V1852.7M655.1 1841.7h5.2M655.1 1852.7h5.2M658.7 1842.9V1853.8M656.1 1842.9h5.2M656.1 1853.8h5.2M659.8 1842.5V1853.4M657.2 1842.5h5.2M657.2 1853.4h5.2M660.8 1843.4V1854.1M658.2 1843.4h5.2M658.2 1854.1h5.2M661.8 1844.4V1853.6M659.2 1844.4h5.2M659.2 1853.6h5.2M662.9 1843.5V1853.8M660.3 1843.5h5.2M660.3 1853.8h5.2M663.9 1844.8V1855.0M661.3 1844.8h5.2M661.3 1855.0h5.2M665.0 1844.6V1855.0M662.4 1844.6h5.2M662.4 1855.0h5.2M666.0 1843.8V1853.2M663.4 1843.8h5.2M663.4 1853.2h5.2" fill="none" stroke="#e2351c" stroke-width="1.15"/>
<polyline points="406.0,1881.0 407.0,1879.8 408.1,1879.8 409.1,1879.6 410.2,1880.5 411.2,1879.9 412.2,1880.5 413.3,1880.3 414.3,1880.0 415.4,1879.3 416.4,1880.2 417.4,1879.9 418.5,1880.5 419.5,1880.3 420.6,1880.4 421.6,1880.1 422.6,1879.6 423.7,1880.6 424.7,1879.6 425.8,1880.5 426.8,1879.8 427.8,1880.3 428.9,1880.2 429.9,1880.2 431.0,1879.4 432.0,1879.9 433.0,1878.3 434.1,1878.0 435.1,1876.9 436.2,1874.8 437.2,1875.5 438.2,1874.1 439.3,1872.9 440.3,1870.9 441.4,1871.3 442.4,1869.6 443.4,1868.3 444.5,1868.4 445.5,1867.9 446.6,1866.9 447.6,1868.1 448.6,1868.3 449.7,1867.3 450.7,1868.1 451.8,1867.2 452.8,1868.0 453.8,1869.6 454.9,1868.9 455.9,1869.4 457.0,1870.2 458.0,1869.6 459.0,1871.6 460.1,1871.7 461.1,1871.7 462.2,1871.4 463.2,1873.1 464.2,1873.0 465.3,1873.4 466.3,1874.2 467.4,1873.8 468.4,1874.5 469.4,1874.4 470.5,1874.3 471.5,1875.2 472.6,1875.5 473.6,1875.8 474.6,1876.0 475.7,1876.7 476.7,1876.7 477.8,1876.3 478.8,1877.1 479.8,1875.1 480.9,1877.6 481.9,1877.2 483.0,1878.5 484.0,1878.1 485.0,1878.3 486.1,1878.1 487.1,1877.4 488.2,1878.3 489.2,1878.9 490.2,1878.2 491.3,1878.9 492.3,1878.5 493.4,1877.6 494.4,1878.0 495.4,1878.0 496.5,1878.3 497.5,1878.7 498.6,1879.6 499.6,1879.0 500.6,1879.1 501.7,1878.5 502.7,1878.4 503.8,1878.7 504.8,1879.5 505.8,1878.1 506.9,1878.4 507.9,1879.3 509.0,1879.2 510.0,1879.0 511.0,1879.3 512.1,1879.4 513.1,1879.1 514.2,1879.3 515.2,1879.3 516.2,1880.2 517.3,1880.3 518.3,1878.4 519.4,1880.2 520.4,1879.1 521.4,1879.2 522.5,1879.3 523.5,1879.8 524.6,1878.9 525.6,1879.3 526.6,1879.6 527.7,1880.2 528.7,1879.6 529.8,1879.8 530.8,1880.2 531.8,1879.3 532.9,1879.2 533.9,1879.1 535.0,1879.5 536.0,1879.7 537.0,1878.9 538.1,1879.1 539.1,1878.3 540.2,1879.2 541.2,1880.1 542.2,1879.0 543.3,1878.3 544.3,1879.4 545.4,1879.7 546.4,1879.9 547.4,1878.6 548.5,1879.7 549.5,1879.8 550.6,1879.5 551.6,1880.4 552.6,1879.8 553.7,1880.3 554.7,1879.7 555.8,1879.4 556.8,1879.2 557.8,1879.9 558.9,1879.2 559.9,1879.9 561.0,1880.6 562.0,1879.4 563.0,1879.8 564.1,1879.7 565.1,1881.2 566.2,1879.6 567.2,1879.6 568.2,1879.6 569.3,1879.2 570.3,1880.0 571.4,1878.6 572.4,1879.4 573.4,1879.5 574.5,1881.2 575.5,1880.9 576.6,1879.0 577.6,1879.6 578.6,1879.3 579.7,1880.0 580.7,1879.9 581.8,1879.5 582.8,1880.3 583.8,1879.1 584.9,1880.5 585.9,1879.7 587.0,1880.0 588.0,1879.7 589.0,1879.2 590.1,1880.5 591.1,1879.6 592.2,1879.8 593.2,1879.5 594.2,1879.9 595.3,1880.2 596.3,1879.6 597.4,1879.2 598.4,1870.4 599.4,1861.7 600.5,1853.2 601.5,1846.1 602.6,1838.9 603.6,1836.6 604.6,1834.7 605.7,1832.7 606.7,1832.6 607.8,1832.6 608.8,1832.0 609.8,1833.7 610.9,1834.0 611.9,1833.4 613.0,1834.4 614.0,1835.5 615.0,1834.7 616.1,1836.2 617.1,1836.8 618.2,1837.6 619.2,1838.3 620.2,1838.3 621.3,1839.4 622.3,1837.9 623.4,1839.4 624.4,1840.0 625.4,1840.6 626.5,1840.4 627.5,1840.3 628.6,1841.0 629.6,1842.1 630.6,1841.9 631.7,1843.0 632.7,1841.6 633.8,1842.3 634.8,1842.9 635.8,1843.2 636.9,1844.0 637.9,1844.0 639.0,1843.7 640.0,1844.6 641.0,1844.5 642.1,1844.8 643.1,1845.0 644.2,1845.2 645.2,1845.0 646.2,1845.9 647.3,1845.5 648.3,1846.5 649.4,1846.6 650.4,1846.9 651.4,1846.2 652.5,1847.0 653.5,1846.4 654.6,1847.8 655.6,1847.2 656.6,1848.2 657.7,1847.2 658.7,1848.4 659.8,1847.9 660.8,1848.8 661.8,1849.0 662.9,1848.6 663.9,1849.9 665.0,1849.8 666.0,1848.5" fill="none" stroke="#e2351c" stroke-width="2.4" stroke-linejoin="round"/>
<path d="M406.0 1879.0V1882.9M403.4 1879.0h5.2M403.4 1882.9h5.2M407.0 1878.5V1883.0M404.4 1878.5h5.2M404.4 1883.0h5.2M408.1 1878.6V1882.9M405.5 1878.6h5.2M405.5 1882.9h5.2M409.1 1878.2V1882.2M406.5 1878.2h5.2M406.5 1882.2h5.2M410.2 1879.1V1883.4M407.6 1879.1h5.2M407.6 1883.4h5.2M411.2 1877.9V1882.3M408.6 1877.9h5.2M408.6 1882.3h5.2M412.2 1878.3V1882.7M409.6 1878.3h5.2M409.6 1882.7h5.2M413.3 1877.6V1881.4M410.7 1877.6h5.2M410.7 1881.4h5.2M414.3 1877.7V1881.3M411.7 1877.7h5.2M411.7 1881.3h5.2M415.4 1877.4V1881.1M412.8 1877.4h5.2M412.8 1881.1h5.2M416.4 1877.5V1881.6M413.8 1877.5h5.2M413.8 1881.6h5.2M417.4 1877.9V1882.2M414.8 1877.9h5.2M414.8 1882.2h5.2M418.5 1877.2V1881.9M415.9 1877.2h5.2M415.9 1881.9h5.2M419.5 1877.1V1881.3M416.9 1877.1h5.2M416.9 1881.3h5.2M420.6 1878.0V1882.7M418.0 1878.0h5.2M418.0 1882.7h5.2M421.6 1877.6V1881.8M419.0 1877.6h5.2M419.0 1881.8h5.2M422.6 1878.2V1881.9M420.0 1878.2h5.2M420.0 1881.9h5.2M423.7 1877.4V1881.0M421.1 1877.4h5.2M421.1 1881.0h5.2M424.7 1878.3V1882.6M422.1 1878.3h5.2M422.1 1882.6h5.2M425.8 1878.1V1882.2M423.2 1878.1h5.2M423.2 1882.2h5.2M426.8 1878.0V1881.6M424.2 1878.0h5.2M424.2 1881.6h5.2M427.8 1877.9V1881.9M425.2 1877.9h5.2M425.2 1881.9h5.2M428.9 1878.6V1883.2M426.3 1878.6h5.2M426.3 1883.2h5.2M429.9 1877.3V1882.3M427.3 1877.3h5.2M427.3 1882.3h5.2M431.0 1882.8V1886.4M428.4 1882.8h5.2M428.4 1886.4h5.2M432.0 1872.7V1918.9M429.4 1872.7h5.2M429.4 1918.9h5.2M433.0 1895.5V1899.1M430.4 1895.5h5.2M430.4 1899.1h5.2M434.1 1880.6V1884.6M431.5 1880.6h5.2M431.5 1884.6h5.2M435.1 1878.0V1882.1M432.5 1878.0h5.2M432.5 1882.1h5.2M436.2 1872.7V1876.6M433.6 1872.7h5.2M433.6 1876.6h5.2M437.2 1870.0V1874.6M434.6 1870.0h5.2M434.6 1874.6h5.2M438.2 1869.5V1873.4M435.6 1869.5h5.2M435.6 1873.4h5.2M439.3 1866.6V1870.6M436.7 1866.6h5.2M436.7 1870.6h5.2M440.3 1864.1V1868.2M437.7 1864.1h5.2M437.7 1868.2h5.2M441.4 1863.5V1867.7M438.8 1863.5h5.2M438.8 1867.7h5.2M442.4 1860.9V1864.8M439.8 1860.9h5.2M439.8 1864.8h5.2M443.4 1860.2V1864.7M440.8 1860.2h5.2M440.8 1864.7h5.2M444.5 1861.2V1865.5M441.9 1861.2h5.2M441.9 1865.5h5.2M445.5 1861.6V1866.0M442.9 1861.6h5.2M442.9 1866.0h5.2M446.6 1860.6V1864.8M444.0 1860.6h5.2M444.0 1864.8h5.2M447.6 1859.0V1863.0M445.0 1859.0h5.2M445.0 1863.0h5.2M448.6 1860.3V1864.5M446.0 1860.3h5.2M446.0 1864.5h5.2M449.7 1860.8V1865.4M447.1 1860.8h5.2M447.1 1865.4h5.2M450.7 1860.9V1865.8M448.1 1860.9h5.2M448.1 1865.8h5.2M451.8 1860.6V1865.2M449.2 1860.6h5.2M449.2 1865.2h5.2M452.8 1861.4V1865.2M450.2 1861.4h5.2M450.2 1865.2h5.2M453.8 1861.1V1865.2M451.2 1861.1h5.2M451.2 1865.2h5.2M454.9 1861.4V1866.0M452.3 1861.4h5.2M452.3 1866.0h5.2M455.9 1863.1V1867.8M453.3 1863.1h5.2M453.3 1867.8h5.2M457.0 1863.8V1867.7M454.4 1863.8h5.2M454.4 1867.7h5.2M458.0 1865.1V1868.9M455.4 1865.1h5.2M455.4 1868.9h5.2M459.0 1865.2V1869.0M456.4 1865.2h5.2M456.4 1869.0h5.2M460.1 1866.2V1870.7M457.5 1866.2h5.2M457.5 1870.7h5.2M461.1 1867.3V1871.1M458.5 1867.3h5.2M458.5 1871.1h5.2M462.2 1865.9V1870.4M459.6 1865.9h5.2M459.6 1870.4h5.2M463.2 1867.9V1872.2M460.6 1867.9h5.2M460.6 1872.2h5.2M464.2 1868.1V1872.7M461.6 1868.1h5.2M461.6 1872.7h5.2M465.3 1868.0V1872.2M462.7 1868.0h5.2M462.7 1872.2h5.2M466.3 1869.4V1873.8M463.7 1869.4h5.2M463.7 1873.8h5.2M467.4 1870.0V1874.9M464.8 1870.0h5.2M464.8 1874.9h5.2M468.4 1870.8V1874.6M465.8 1870.8h5.2M465.8 1874.6h5.2M469.4 1871.4V1875.5M466.8 1871.4h5.2M466.8 1875.5h5.2M470.5 1870.7V1875.0M467.9 1870.7h5.2M467.9 1875.0h5.2M471.5 1871.6V1876.3M468.9 1871.6h5.2M468.9 1876.3h5.2M472.6 1871.1V1875.2M470.0 1871.1h5.2M470.0 1875.2h5.2M473.6 1872.6V1876.7M471.0 1872.6h5.2M471.0 1876.7h5.2M474.6 1872.8V1877.2M472.0 1872.8h5.2M472.0 1877.2h5.2M475.7 1873.3V1877.4M473.1 1873.3h5.2M473.1 1877.4h5.2M476.7 1873.1V1877.2M474.1 1873.1h5.2M474.1 1877.2h5.2M477.8 1873.6V1877.9M475.2 1873.6h5.2M475.2 1877.9h5.2M478.8 1873.6V1877.4M476.2 1873.6h5.2M476.2 1877.4h5.2M479.8 1875.1V1878.6M477.2 1875.1h5.2M477.2 1878.6h5.2M480.9 1874.7V1878.8M478.3 1874.7h5.2M478.3 1878.8h5.2M481.9 1874.0V1878.4M479.3 1874.0h5.2M479.3 1878.4h5.2M483.0 1875.7V1879.8M480.4 1875.7h5.2M480.4 1879.8h5.2M484.0 1875.7V1879.7M481.4 1875.7h5.2M481.4 1879.7h5.2M485.0 1875.0V1879.3M482.4 1875.0h5.2M482.4 1879.3h5.2M486.1 1875.9V1879.7M483.5 1875.9h5.2M483.5 1879.7h5.2M487.1 1876.7V1880.4M484.5 1876.7h5.2M484.5 1880.4h5.2M488.2 1877.3V1881.5M485.6 1877.3h5.2M485.6 1881.5h5.2M489.2 1875.2V1878.9M486.6 1875.2h5.2M486.6 1878.9h5.2M490.2 1876.2V1880.2M487.6 1876.2h5.2M487.6 1880.2h5.2M491.3 1875.8V1879.9M488.7 1875.8h5.2M488.7 1879.9h5.2M492.3 1876.9V1880.8M489.7 1876.9h5.2M489.7 1880.8h5.2M493.4 1875.6V1879.8M490.8 1875.6h5.2M490.8 1879.8h5.2M494.4 1876.3V1880.7M491.8 1876.3h5.2M491.8 1880.7h5.2M495.4 1877.0V1880.7M492.8 1877.0h5.2M492.8 1880.7h5.2M496.5 1877.0V1881.8M493.9 1877.0h5.2M493.9 1881.8h5.2M497.5 1876.6V1881.0M494.9 1876.6h5.2M494.9 1881.0h5.2M498.6 1876.9V1881.8M496.0 1876.9h5.2M496.0 1881.8h5.2M499.6 1876.9V1881.7M497.0 1876.9h5.2M497.0 1881.7h5.2M500.6 1878.0V1882.3M498.0 1878.0h5.2M498.0 1882.3h5.2M501.7 1877.4V1881.9M499.1 1877.4h5.2M499.1 1881.9h5.2M502.7 1877.2V1881.5M500.1 1877.2h5.2M500.1 1881.5h5.2M503.8 1878.3V1882.0M501.2 1878.3h5.2M501.2 1882.0h5.2M504.8 1877.1V1882.0M502.2 1877.1h5.2M502.2 1882.0h5.2M505.8 1877.3V1881.3M503.2 1877.3h5.2M503.2 1881.3h5.2M506.9 1877.9V1881.9M504.3 1877.9h5.2M504.3 1881.9h5.2M507.9 1878.4V1882.0M505.3 1878.4h5.2M505.3 1882.0h5.2M509.0 1878.2V1882.3M506.4 1878.2h5.2M506.4 1882.3h5.2M510.0 1877.5V1881.4M507.4 1877.5h5.2M507.4 1881.4h5.2M511.0 1878.5V1883.2M508.4 1878.5h5.2M508.4 1883.2h5.2M512.1 1878.0V1882.4M509.5 1878.0h5.2M509.5 1882.4h5.2M513.1 1878.0V1882.5M510.5 1878.0h5.2M510.5 1882.5h5.2M514.2 1878.0V1882.0M511.6 1878.0h5.2M511.6 1882.0h5.2M515.2 1878.0V1882.2M512.6 1878.0h5.2M512.6 1882.2h5.2M516.2 1878.6V1882.8M513.6 1878.6h5.2M513.6 1882.8h5.2M517.3 1877.1V1880.9M514.7 1877.1h5.2M514.7 1880.9h5.2M518.3 1877.9V1882.1M515.7 1877.9h5.2M515.7 1882.1h5.2M519.4 1878.7V1883.0M516.8 1878.7h5.2M516.8 1883.0h5.2M520.4 1878.4V1882.9M517.8 1878.4h5.2M517.8 1882.9h5.2M521.4 1878.1V1882.1M518.8 1878.1h5.2M518.8 1882.1h5.2M522.5 1877.8V1881.9M519.9 1877.8h5.2M519.9 1881.9h5.2M523.5 1878.8V1883.1M520.9 1878.8h5.2M520.9 1883.1h5.2M524.6 1877.5V1882.2M522.0 1877.5h5.2M522.0 1882.2h5.2M525.6 1879.1V1882.9M523.0 1879.1h5.2M523.0 1882.9h5.2M526.6 1878.4V1883.0M524.0 1878.4h5.2M524.0 1883.0h5.2M527.7 1877.5V1882.2M525.1 1877.5h5.2M525.1 1882.2h5.2M528.7 1877.5V1881.2M526.1 1877.5h5.2M526.1 1881.2h5.2M529.8 1878.3V1882.4M527.2 1878.3h5.2M527.2 1882.4h5.2M530.8 1878.7V1882.4M528.2 1878.7h5.2M528.2 1882.4h5.2M531.8 1877.5V1881.8M529.2 1877.5h5.2M529.2 1881.8h5.2M532.9 1878.6V1883.3M530.3 1878.6h5.2M530.3 1883.3h5.2M533.9 1877.8V1882.7M531.3 1877.8h5.2M531.3 1882.7h5.2M535.0 1878.4V1882.1M532.4 1878.4h5.2M532.4 1882.1h5.2M536.0 1878.1V1881.7M533.4 1878.1h5.2M533.4 1881.7h5.2M537.0 1877.9V1882.6M534.4 1877.9h5.2M534.4 1882.6h5.2M538.1 1878.8V1882.4M535.5 1878.8h5.2M535.5 1882.4h5.2M539.1 1877.8V1882.5M536.5 1877.8h5.2M536.5 1882.5h5.2M540.2 1879.1V1883.1M537.6 1879.1h5.2M537.6 1883.1h5.2M541.2 1877.8V1882.3M538.6 1877.8h5.2M538.6 1882.3h5.2M542.2 1878.5V1883.3M539.6 1878.5h5.2M539.6 1883.3h5.2M543.3 1879.1V1883.0M540.7 1879.1h5.2M540.7 1883.0h5.2M544.3 1878.5V1883.0M541.7 1878.5h5.2M541.7 1883.0h5.2M545.4 1878.4V1882.7M542.8 1878.4h5.2M542.8 1882.7h5.2M546.4 1877.8V1882.6M543.8 1877.8h5.2M543.8 1882.6h5.2M547.4 1878.5V1882.9M544.8 1878.5h5.2M544.8 1882.9h5.2M548.5 1877.9V1882.5M545.9 1877.9h5.2M545.9 1882.5h5.2M549.5 1877.7V1882.5M546.9 1877.7h5.2M546.9 1882.5h5.2M550.6 1878.7V1882.8M548.0 1878.7h5.2M548.0 1882.8h5.2M551.6 1879.1V1883.3M549.0 1879.1h5.2M549.0 1883.3h5.2M552.6 1878.4V1882.0M550.0 1878.4h5.2M550.0 1882.0h5.2M553.7 1878.2V1882.9M551.1 1878.2h5.2M551.1 1882.9h5.2M554.7 1879.7V1884.0M552.1 1879.7h5.2M552.1 1884.0h5.2M555.8 1878.8V1883.7M553.2 1878.8h5.2M553.2 1883.7h5.2M556.8 1878.7V1882.7M554.2 1878.7h5.2M554.2 1882.7h5.2M557.8 1879.1V1883.9M555.2 1879.1h5.2M555.2 1883.9h5.2M558.9 1879.1V1883.2M556.3 1879.1h5.2M556.3 1883.2h5.2M559.9 1879.4V1884.1M557.3 1879.4h5.2M557.3 1884.1h5.2M561.0 1878.7V1882.5M558.4 1878.7h5.2M558.4 1882.5h5.2M562.0 1878.9V1882.5M559.4 1878.9h5.2M559.4 1882.5h5.2M563.0 1878.8V1882.7M560.4 1878.8h5.2M560.4 1882.7h5.2M564.1 1877.7V1882.4M561.5 1877.7h5.2M561.5 1882.4h5.2M565.1 1878.7V1883.5M562.5 1878.7h5.2M562.5 1883.5h5.2M566.2 1879.2V1882.9M563.6 1879.2h5.2M563.6 1882.9h5.2M567.2 1877.8V1881.8M564.6 1877.8h5.2M564.6 1881.8h5.2M568.2 1879.4V1883.9M565.6 1879.4h5.2M565.6 1883.9h5.2M569.3 1878.6V1882.5M566.7 1878.6h5.2M566.7 1882.5h5.2M570.3 1879.3V1884.1M567.7 1879.3h5.2M567.7 1884.1h5.2M571.4 1878.5V1883.3M568.8 1878.5h5.2M568.8 1883.3h5.2M572.4 1877.9V1881.8M569.8 1877.9h5.2M569.8 1881.8h5.2M573.4 1879.0V1882.7M570.8 1879.0h5.2M570.8 1882.7h5.2M574.5 1879.4V1883.5M571.9 1879.4h5.2M571.9 1883.5h5.2M575.5 1877.7V1881.9M572.9 1877.7h5.2M572.9 1881.9h5.2M576.6 1879.3V1883.4M574.0 1879.3h5.2M574.0 1883.4h5.2M577.6 1879.0V1883.4M575.0 1879.0h5.2M575.0 1883.4h5.2M578.6 1878.5V1883.4M576.0 1878.5h5.2M576.0 1883.4h5.2M579.7 1879.9V1883.8M577.1 1879.9h5.2M577.1 1883.8h5.2M580.7 1878.1V1883.0M578.1 1878.1h5.2M578.1 1883.0h5.2M581.8 1878.0V1882.6M579.2 1878.0h5.2M579.2 1882.6h5.2M582.8 1878.6V1882.9M580.2 1878.6h5.2M580.2 1882.9h5.2M583.8 1879.0V1883.0M581.2 1879.0h5.2M581.2 1883.0h5.2M584.9 1879.4V1883.2M582.3 1879.4h5.2M582.3 1883.2h5.2M585.9 1878.9V1882.6M583.3 1878.9h5.2M583.3 1882.6h5.2M587.0 1881.2V1884.7M584.4 1881.2h5.2M584.4 1884.7h5.2M588.0 1879.3V1883.4M585.4 1879.3h5.2M585.4 1883.4h5.2M589.0 1879.1V1883.2M586.4 1879.1h5.2M586.4 1883.2h5.2M590.1 1880.4V1884.4M587.5 1880.4h5.2M587.5 1884.4h5.2M591.1 1878.7V1883.4M588.5 1878.7h5.2M588.5 1883.4h5.2M592.2 1879.1V1883.7M589.6 1879.1h5.2M589.6 1883.7h5.2M593.2 1879.5V1883.2M590.6 1879.5h5.2M590.6 1883.2h5.2M594.2 1879.1V1883.5M591.6 1879.1h5.2M591.6 1883.5h5.2M595.3 1878.3V1902.8M592.7 1878.3h5.2M592.7 1902.8h5.2M596.3 1884.8V1888.3M593.7 1884.8h5.2M593.7 1888.3h5.2M597.4 1842.4V1850.7M594.8 1842.4h5.2M594.8 1850.7h5.2M598.4 1767.9V1774.7M595.8 1767.9h5.2M595.8 1774.7h5.2M599.4 1749.8V1756.6M596.8 1749.8h5.2M596.8 1756.6h5.2M600.5 1739.9V1746.4M597.9 1739.9h5.2M597.9 1746.4h5.2M601.5 1737.8V1745.9M598.9 1737.8h5.2M598.9 1745.9h5.2M602.6 1736.3V1742.5M600.0 1736.3h5.2M600.0 1742.5h5.2M603.6 1735.9V1743.3M601.0 1735.9h5.2M601.0 1743.3h5.2M604.6 1735.9V1743.9M602.0 1735.9h5.2M602.0 1743.9h5.2M605.7 1736.1V1744.0M603.1 1736.1h5.2M603.1 1744.0h5.2M606.7 1737.7V1744.6M604.1 1737.7h5.2M604.1 1744.6h5.2M607.8 1739.8V1747.3M605.2 1739.8h5.2M605.2 1747.3h5.2M608.8 1742.0V1748.0M606.2 1742.0h5.2M606.2 1748.0h5.2M609.8 1742.2V1750.3M607.2 1742.2h5.2M607.2 1750.3h5.2M610.9 1744.1V1750.1M608.3 1744.1h5.2M608.3 1750.1h5.2M611.9 1744.8V1752.2M609.3 1744.8h5.2M609.3 1752.2h5.2M613.0 1745.0V1752.3M610.4 1745.0h5.2M610.4 1752.3h5.2M614.0 1745.9V1752.0M611.4 1745.9h5.2M611.4 1752.0h5.2M615.0 1747.8V1753.9M612.4 1747.8h5.2M612.4 1753.9h5.2M616.1 1747.6V1754.1M613.5 1747.6h5.2M613.5 1754.1h5.2M617.1 1748.8V1755.8M614.5 1748.8h5.2M614.5 1755.8h5.2M618.2 1749.6V1757.3M615.6 1749.6h5.2M615.6 1757.3h5.2M619.2 1750.6V1757.8M616.6 1750.6h5.2M616.6 1757.8h5.2M620.2 1749.6V1757.7M617.6 1749.6h5.2M617.6 1757.7h5.2M621.3 1750.6V1758.3M618.7 1750.6h5.2M618.7 1758.3h5.2M622.3 1749.3V1757.0M619.7 1749.3h5.2M619.7 1757.0h5.2M623.4 1749.3V1755.8M620.8 1749.3h5.2M620.8 1755.8h5.2M624.4 1750.2V1757.8M621.8 1750.2h5.2M621.8 1757.8h5.2M625.4 1749.7V1757.2M622.8 1749.7h5.2M622.8 1757.2h5.2M626.5 1748.6V1756.3M623.9 1748.6h5.2M623.9 1756.3h5.2M627.5 1749.2V1756.9M624.9 1749.2h5.2M624.9 1756.9h5.2M628.6 1749.5V1756.7M626.0 1749.5h5.2M626.0 1756.7h5.2M629.6 1750.0V1756.6M627.0 1750.0h5.2M627.0 1756.6h5.2M630.6 1749.3V1755.8M628.0 1749.3h5.2M628.0 1755.8h5.2M631.7 1749.4V1756.5M629.1 1749.4h5.2M629.1 1756.5h5.2M632.7 1750.5V1756.8M630.1 1750.5h5.2M630.1 1756.8h5.2M633.8 1750.8V1758.0M631.2 1750.8h5.2M631.2 1758.0h5.2M634.8 1751.4V1757.6M632.2 1751.4h5.2M632.2 1757.6h5.2M635.8 1745.8V1759.4M633.2 1745.8h5.2M633.2 1759.4h5.2M636.9 1748.9V1757.3M634.3 1748.9h5.2M634.3 1757.3h5.2M637.9 1748.7V1755.5M635.3 1748.7h5.2M635.3 1755.5h5.2M639.0 1748.5V1756.7M636.4 1748.5h5.2M636.4 1756.7h5.2M640.0 1749.5V1757.5M637.4 1749.5h5.2M637.4 1757.5h5.2M641.0 1749.1V1756.4M638.4 1749.1h5.2M638.4 1756.4h5.2M642.1 1748.2V1756.4M639.5 1748.2h5.2M639.5 1756.4h5.2M643.1 1749.6V1757.4M640.5 1749.6h5.2M640.5 1757.4h5.2M644.2 1750.2V1756.4M641.6 1750.2h5.2M641.6 1756.4h5.2M645.2 1748.8V1755.6M642.6 1748.8h5.2M642.6 1755.6h5.2M646.2 1750.4V1757.9M643.6 1750.4h5.2M643.6 1757.9h5.2M647.3 1750.4V1757.3M644.7 1750.4h5.2M644.7 1757.3h5.2M648.3 1749.3V1756.1M645.7 1749.3h5.2M645.7 1756.1h5.2M649.4 1749.7V1756.7M646.8 1749.7h5.2M646.8 1756.7h5.2M650.4 1750.5V1757.5M647.8 1750.5h5.2M647.8 1757.5h5.2M651.4 1750.3V1758.1M648.8 1750.3h5.2M648.8 1758.1h5.2M652.5 1749.3V1757.2M649.9 1749.3h5.2M649.9 1757.2h5.2M653.5 1749.0V1756.8M650.9 1749.0h5.2M650.9 1756.8h5.2M654.6 1749.4V1756.9M652.0 1749.4h5.2M652.0 1756.9h5.2M655.6 1749.5V1757.3M653.0 1749.5h5.2M653.0 1757.3h5.2M656.6 1749.5V1756.3M654.0 1749.5h5.2M654.0 1756.3h5.2M657.7 1749.6V1757.6M655.1 1749.6h5.2M655.1 1757.6h5.2M658.7 1750.9V1757.7M656.1 1750.9h5.2M656.1 1757.7h5.2M659.8 1748.8V1756.8M657.2 1748.8h5.2M657.2 1756.8h5.2M660.8 1750.7V1758.5M658.2 1750.7h5.2M658.2 1758.5h5.2M661.8 1750.4V1757.7M659.2 1750.4h5.2M659.2 1757.7h5.2M662.9 1750.9V1757.2M660.3 1750.9h5.2M660.3 1757.2h5.2M663.9 1749.5V1757.1M661.3 1749.5h5.2M661.3 1757.1h5.2M665.0 1751.4V1757.7M662.4 1751.4h5.2M662.4 1757.7h5.2M666.0 1751.0V1757.7M663.4 1751.0h5.2M663.4 1757.7h5.2" fill="none" stroke="#4b57be" stroke-width="1.15"/>
<polyline points="406.0,1880.9 407.0,1880.7 408.1,1880.7 409.1,1880.2 410.2,1881.3 411.2,1880.1 412.2,1880.5 413.3,1879.5 414.3,1879.5 415.4,1879.2 416.4,1879.6 417.4,1880.0 418.5,1879.5 419.5,1879.2 420.6,1880.4 421.6,1879.7 422.6,1880.0 423.7,1879.2 424.7,1880.5 425.8,1880.2 426.8,1879.8 427.8,1879.9 428.9,1880.9 429.9,1879.8 431.0,1884.6 432.0,1895.8 433.0,1897.3 434.1,1882.6 435.1,1880.1 436.2,1874.6 437.2,1872.3 438.2,1871.4 439.3,1868.6 440.3,1866.2 441.4,1865.6 442.4,1862.8 443.4,1862.4 444.5,1863.3 445.5,1863.8 446.6,1862.7 447.6,1861.0 448.6,1862.4 449.7,1863.1 450.7,1863.3 451.8,1862.9 452.8,1863.3 453.8,1863.1 454.9,1863.7 455.9,1865.5 457.0,1865.8 458.0,1867.0 459.0,1867.1 460.1,1868.5 461.1,1869.2 462.2,1868.1 463.2,1870.0 464.2,1870.4 465.3,1870.1 466.3,1871.6 467.4,1872.4 468.4,1872.7 469.4,1873.5 470.5,1872.8 471.5,1873.9 472.6,1873.2 473.6,1874.7 474.6,1875.0 475.7,1875.4 476.7,1875.2 477.8,1875.8 478.8,1875.5 479.8,1876.9 480.9,1876.8 481.9,1876.2 483.0,1877.7 484.0,1877.7 485.0,1877.2 486.1,1877.8 487.1,1878.5 488.2,1879.4 489.2,1877.1 490.2,1878.2 491.3,1877.8 492.3,1878.9 493.4,1877.7 494.4,1878.5 495.4,1878.8 496.5,1879.4 497.5,1878.8 498.6,1879.4 499.6,1879.3 500.6,1880.1 501.7,1879.6 502.7,1879.3 503.8,1880.2 504.8,1879.6 505.8,1879.3 506.9,1879.9 507.9,1880.2 509.0,1880.3 510.0,1879.5 511.0,1880.9 512.1,1880.2 513.1,1880.3 514.2,1880.0 515.2,1880.1 516.2,1880.7 517.3,1879.0 518.3,1880.0 519.4,1880.9 520.4,1880.7 521.4,1880.1 522.5,1879.9 523.5,1880.9 524.6,1879.8 525.6,1881.0 526.6,1880.7 527.7,1879.8 528.7,1879.4 529.8,1880.4 530.8,1880.5 531.8,1879.7 532.9,1881.0 533.9,1880.2 535.0,1880.3 536.0,1879.9 537.0,1880.3 538.1,1880.6 539.1,1880.1 540.2,1881.1 541.2,1880.1 542.2,1880.9 543.3,1881.0 544.3,1880.8 545.4,1880.5 546.4,1880.2 547.4,1880.7 548.5,1880.2 549.5,1880.1 550.6,1880.7 551.6,1881.2 552.6,1880.2 553.7,1880.6 554.7,1881.9 555.8,1881.3 556.8,1880.7 557.8,1881.5 558.9,1881.2 559.9,1881.7 561.0,1880.6 562.0,1880.7 563.0,1880.8 564.1,1880.1 565.1,1881.1 566.2,1881.1 567.2,1879.8 568.2,1881.6 569.3,1880.6 570.3,1881.7 571.4,1880.9 572.4,1879.9 573.4,1880.9 574.5,1881.5 575.5,1879.8 576.6,1881.4 577.6,1881.2 578.6,1880.9 579.7,1881.9 580.7,1880.5 581.8,1880.3 582.8,1880.8 583.8,1881.0 584.9,1881.3 585.9,1880.7 587.0,1883.0 588.0,1881.3 589.0,1881.1 590.1,1882.4 591.1,1881.1 592.2,1881.4 593.2,1881.4 594.2,1881.3 595.3,1890.6 596.3,1886.6 597.4,1846.6 598.4,1771.3 599.4,1753.2 600.5,1743.2 601.5,1741.9 602.6,1739.4 603.6,1739.6 604.6,1739.9 605.7,1740.0 606.7,1741.1 607.8,1743.6 608.8,1745.0 609.8,1746.3 610.9,1747.1 611.9,1748.5 613.0,1748.6 614.0,1749.0 615.0,1750.9 616.1,1750.8 617.1,1752.3 618.2,1753.5 619.2,1754.2 620.2,1753.7 621.3,1754.5 622.3,1753.1 623.4,1752.6 624.4,1754.0 625.4,1753.5 626.5,1752.4 627.5,1753.1 628.6,1753.1 629.6,1753.3 630.6,1752.6 631.7,1752.9 632.7,1753.7 633.8,1754.4 634.8,1754.5 635.8,1752.6 636.9,1753.1 637.9,1752.1 639.0,1752.6 640.0,1753.5 641.0,1752.7 642.1,1752.3 643.1,1753.5 644.2,1753.3 645.2,1752.2 646.2,1754.1 647.3,1753.8 648.3,1752.7 649.4,1753.2 650.4,1754.0 651.4,1754.2 652.5,1753.2 653.5,1752.9 654.6,1753.2 655.6,1753.4 656.6,1752.9 657.7,1753.6 658.7,1754.3 659.8,1752.8 660.8,1754.6 661.8,1754.1 662.9,1754.1 663.9,1753.3 665.0,1754.6 666.0,1754.4" fill="none" stroke="#4b57be" stroke-width="2.4" stroke-linejoin="round"/>
<!-- panel e -->
<text x="593.03" y="1206.00" font-size="53.50" stroke="#fff" stroke-width="0.35">e</text>
<polyline points="760.0,1473.0 763.0,1470.0 767.0,1463.0 771.0,1453.0 775.0,1441.0 779.0,1428.0 783.0,1414.0 786.0,1403.0 789.0,1396.0 792.0,1392.0 794.3,1390.5 796.5,1392.5 799.0,1396.5 801.5,1399.0 804.0,1404.0 807.0,1412.0 810.0,1423.0 813.0,1435.0 816.0,1444.0 819.0,1450.5 822.0,1454.5 825.0,1458.0 828.0,1460.0 831.0,1460.3 834.0,1459.6 837.0,1460.5 841.0,1462.2 845.0,1464.0 849.0,1466.5 853.0,1469.5 857.0,1472.0 860.0,1473.0" fill="none" stroke="#bdbdbd" stroke-width="1.4" stroke-linejoin="round" stroke-linecap="round"/>
<line x1="833.80" y1="1198.20" x2="833.80" y2="1473.00" stroke="#8a8a8a" stroke-width="1.4" stroke-dasharray="10 5.5"/>
<polyline points="679.0,1381.8 752.0,1381.8 756.0,1381.2 760.0,1381.7 766.0,1381.5 772.0,1380.8 778.0,1379.6 783.0,1377.4 788.0,1374.0 792.0,1369.5 796.0,1362.5 799.0,1355.0 802.0,1347.5 805.0,1342.0 808.0,1339.5 811.0,1338.6 814.0,1337.0 816.0,1334.8 818.0,1333.3 820.0,1334.8 822.0,1338.0 825.0,1341.0 828.0,1344.5 830.0,1348.0 832.5,1351.2 834.5,1351.8 836.5,1350.4 838.5,1351.8 840.5,1355.0 843.0,1357.5 845.5,1356.0 848.0,1354.5 850.5,1355.8 853.0,1358.0 856.0,1359.8 859.0,1361.2 862.0,1362.0 865.0,1364.2 867.5,1366.4 870.0,1365.0 872.5,1363.8 875.0,1364.2 879.0,1366.3 884.0,1368.8 890.0,1371.3 897.0,1374.0 904.0,1376.5 911.0,1378.8 918.0,1380.6 924.0,1381.6 930.0,1381.8 953.5,1381.8" fill="none" stroke="#e2351c" stroke-width="0.8" stroke-linejoin="round" stroke-linecap="round"/>
<polyline points="679.0,1290.0 762.0,1290.0 770.0,1289.6 777.0,1289.0 784.0,1287.8 790.0,1286.3 796.0,1284.3 801.0,1282.3 804.5,1279.5 807.5,1274.5 811.0,1265.0 814.0,1258.0 817.0,1252.0 819.0,1249.0 821.0,1247.6 823.0,1248.3 825.0,1249.0 827.0,1246.0 829.0,1241.5 831.0,1237.5 833.5,1234.3 835.5,1235.5 838.0,1238.5 841.0,1242.0 844.0,1245.0 846.0,1246.6 848.0,1247.2 850.0,1249.5 853.0,1255.0 857.0,1261.0 861.0,1267.0 865.0,1272.5 868.0,1276.0 871.0,1278.0 876.0,1279.5 882.0,1281.0 888.0,1282.0 893.0,1281.6 897.0,1281.2 901.0,1282.2 906.0,1284.0 912.0,1286.5 918.0,1288.7 923.0,1289.8 930.0,1290.0 953.5,1290.0" fill="none" stroke="#4b57be" stroke-width="0.8" stroke-linejoin="round" stroke-linecap="round"/>
<polyline points="772.0,1380.8 778.0,1379.6 783.0,1377.4 788.0,1374.0 792.0,1369.5 796.0,1362.5 799.0,1355.0 802.0,1347.5 805.0,1342.0 808.0,1339.5 811.0,1338.6 814.0,1337.0 816.0,1334.8 818.0,1333.3 820.0,1334.8 822.0,1338.0 825.0,1341.0 828.0,1344.5 830.0,1348.0 832.5,1351.2 834.5,1351.8 836.5,1350.4 838.5,1351.8 840.5,1355.0 843.0,1357.5 845.5,1356.0 848.0,1354.5 850.5,1355.8 853.0,1358.0 856.0,1359.8 859.0,1361.2 862.0,1362.0 865.0,1364.2 867.5,1366.4 870.0,1365.0 872.5,1363.8 875.0,1364.2 879.0,1366.3 884.0,1368.8 890.0,1371.3 897.0,1374.0 904.0,1376.5 911.0,1378.8 918.0,1380.6" fill="none" stroke="#e2351c" stroke-width="1.6" stroke-linejoin="round" stroke-linecap="round"/>
<polyline points="784.0,1287.8 790.0,1286.3 796.0,1284.3 801.0,1282.3 804.5,1279.5 807.5,1274.5 811.0,1265.0 814.0,1258.0 817.0,1252.0 819.0,1249.0 821.0,1247.6 823.0,1248.3 825.0,1249.0 827.0,1246.0 829.0,1241.5 831.0,1237.5 833.5,1234.3 835.5,1235.5 838.0,1238.5 841.0,1242.0 844.0,1245.0 846.0,1246.6 848.0,1247.2 850.0,1249.5 853.0,1255.0 857.0,1261.0 861.0,1267.0 865.0,1272.5 868.0,1276.0 871.0,1278.0 876.0,1279.5 882.0,1281.0 888.0,1282.0 893.0,1281.6 897.0,1281.2 901.0,1282.2 906.0,1284.0 912.0,1286.5" fill="none" stroke="#4b57be" stroke-width="1.6" stroke-linejoin="round" stroke-linecap="round"/>
<rect x="679.00" y="1198.20" width="274.50" height="274.80" fill="none" stroke="#222" stroke-width="1"/>
<path d="M679.3 1473v7M704.3 1473v3.6M718.9 1473v3.6M729.3 1473v3.6M737.3 1473v3.6M743.9 1473v3.6M749.4 1473v3.6M754.3 1473v3.6M758.5 1473v3.6M762.3 1473v7M787.3 1473v3.6M801.9 1473v3.6M812.3 1473v3.6M820.3 1473v3.6M826.9 1473v3.6M832.4 1473v3.6M837.3 1473v3.6M841.5 1473v3.6M845.3 1473v7M870.3 1473v3.6M884.9 1473v3.6M895.3 1473v3.6M903.3 1473v3.6M909.9 1473v3.6M915.4 1473v3.6M920.3 1473v3.6M924.5 1473v3.6M928.3 1473v7M953.3 1473v3.6" fill="none" stroke="#111" stroke-width="1.35"/>
<text x="685.0" y="1497.3" font-size="12" font-family="Liberation Serif,serif" letter-spacing="0.9">10<tspan font-size="9.2" dy="-5.8" dx="0.6">1</tspan></text>
<text x="762.3" y="1497.3" font-size="12" font-family="Liberation Serif,serif" letter-spacing="0.9">10<tspan font-size="9.2" dy="-5.8" dx="0.6">2</tspan></text>
<text x="843.0" y="1497.3" font-size="12" font-family="Liberation Serif,serif" letter-spacing="0.9">10<tspan font-size="9.2" dy="-5.8" dx="0.6">3</tspan></text>
<text x="928.0" y="1497.3" font-size="12" font-family="Liberation Serif,serif" letter-spacing="0.9">10<tspan font-size="9.2" dy="-5.8" dx="0.6">4</tspan></text>
<line x1="650.30" y1="1358.50" x2="650.30" y2="1279.00" stroke="#000" stroke-width="1.6"/>
<path d="M650.30 1267.50L643.05 1280.00L657.55 1280.00Z" fill="#000"/>
<text x="660.60" y="1462.84" font-size="29.50" transform="rotate(-90 660.60 1462.84)">% max.</text>
<text x="675.33" y="1535.80" font-size="29.71">T-bet-647</text>
<line x1="815.00" y1="1525.00" x2="911.00" y2="1525.00" stroke="#000" stroke-width="1.6"/>
<path d="M922.50 1525.00L910.00 1517.75L910.00 1532.25Z" fill="#000"/>
<rect x="968.10" y="1277.30" width="21.60" height="21.40" fill="#4b57be"/>
<text x="998.25" y="1295.50" font-size="27.30">DMSO</text>
<rect x="968.10" y="1310.30" width="21.60" height="21.40" fill="#e2351c"/>
<text x="998.25" y="1328.50" font-size="27.30">BTP2</text>
<rect x="968.10" y="1343.30" width="21.60" height="21.40" fill="#d3d3d3"/>
<text x="997.97" y="1361.50" font-size="27.30">ISO</text>
<line x1="1240.00" y1="1236.35" x2="1240.00" y2="1455.65" stroke="#000" stroke-width="2.7"/>
<line x1="1238.65" y1="1454.30" x2="1328.35" y2="1454.30" stroke="#000" stroke-width="2.7"/>
<line x1="1229.15" y1="1237.70" x2="1240.00" y2="1237.70" stroke="#000" stroke-width="2.7"/>
<text x="1187.65" y="1244.40" font-size="26.70">1.5</text>
<line x1="1229.15" y1="1309.90" x2="1240.00" y2="1309.90" stroke="#000" stroke-width="2.7"/>
<text x="1187.59" y="1316.60" font-size="26.70">1.0</text>
<line x1="1229.15" y1="1382.10" x2="1240.00" y2="1382.10" stroke="#000" stroke-width="2.7"/>
<text x="1187.65" y="1388.80" font-size="26.70">0.5</text>
<text x="1187.59" y="1461.10" font-size="26.70">0.0</text>
<line x1="1228.30" y1="1454.30" x2="1240.00" y2="1454.30" stroke="#000" stroke-width="2.5"/>
<rect x="1254.30" y="1310.20" width="22.40" height="144.10" fill="#fff" stroke="#4b57be" stroke-width="2.4"/>
<rect x="1291.30" y="1377.80" width="22.80" height="76.50" fill="#fff" stroke="#e2351c" stroke-width="2.4"/>
<line x1="1228.60" y1="1454.30" x2="1327.60" y2="1454.30" stroke="#000" stroke-width="2.8"/>
<circle cx="1257.60" cy="1310.40" r="4.30" fill="#4b57be"/>
<circle cx="1265.60" cy="1310.40" r="4.30" fill="#4b57be"/>
<circle cx="1273.60" cy="1310.40" r="4.30" fill="#4b57be"/>
<line x1="1302.50" y1="1368.00" x2="1302.50" y2="1386.80" stroke="#e2351c" stroke-width="2"/>
<line x1="1295.30" y1="1368.00" x2="1309.60" y2="1368.00" stroke="#e2351c" stroke-width="2"/>
<line x1="1295.30" y1="1386.80" x2="1309.60" y2="1386.80" stroke="#e2351c" stroke-width="2"/>
<circle cx="1302.50" cy="1360.00" r="4.30" fill="#e2351c"/>
<circle cx="1302.50" cy="1380.50" r="4.30" fill="#e2351c"/>
<circle cx="1302.50" cy="1391.80" r="4.30" fill="#e2351c"/>
<line x1="1265.80" y1="1286.00" x2="1302.00" y2="1286.00" stroke="#000" stroke-width="1.5"/>
<text x="1284.00" y="1290.30" font-size="25.00" text-anchor="middle">*</text>
<text x="1165.20" y="1449.18" font-size="27.70" transform="rotate(-90 1165.20 1449.18)">T-bet (Rel. ΔMFI)</text>
<text x="1270.80" y="1475.90" font-size="27.70" text-anchor="end" transform="rotate(-45 1270.80 1475.90)">DMSO</text>
<text x="1316.90" y="1477.40" font-size="27.70" text-anchor="end" transform="rotate(-45 1316.90 1477.40)">BTP2</text>
<!-- panel g -->
<text x="868.25" y="1651.50" font-size="53.00" stroke="#fff" stroke-width="0.35">g</text>
<text x="1119.20" y="1647.00" font-size="28.87" font-style="italic">Tbx21</text>
<line x1="1061.70" y1="1662.00" x2="1061.70" y2="1878.75" stroke="#000" stroke-width="2.5"/>
<line x1="1060.45" y1="1877.50" x2="1235.25" y2="1877.50" stroke="#000" stroke-width="2.5"/>
<line x1="1050.25" y1="1663.25" x2="1061.70" y2="1663.25" stroke="#000" stroke-width="2.5"/>
<text x="1011.18" y="1670.75" font-size="27.80">50</text>
<line x1="1050.25" y1="1706.10" x2="1061.70" y2="1706.10" stroke="#000" stroke-width="2.5"/>
<text x="1011.18" y="1713.60" font-size="27.80">40</text>
<line x1="1050.25" y1="1748.95" x2="1061.70" y2="1748.95" stroke="#000" stroke-width="2.5"/>
<text x="1011.18" y="1756.45" font-size="27.80">30</text>
<line x1="1050.25" y1="1791.80" x2="1061.70" y2="1791.80" stroke="#000" stroke-width="2.5"/>
<text x="1011.18" y="1799.30" font-size="27.80">20</text>
<line x1="1050.25" y1="1834.65" x2="1061.70" y2="1834.65" stroke="#000" stroke-width="2.5"/>
<text x="1011.18" y="1842.15" font-size="27.80">10</text>
<line x1="1050.25" y1="1877.50" x2="1061.70" y2="1877.50" stroke="#000" stroke-width="2.5"/>
<text x="1026.61" y="1885.00" font-size="27.80">0</text>
<line x1="1100.60" y1="1877.50" x2="1100.60" y2="1888.95" stroke="#000" stroke-width="2.5"/>
<line x1="1193.30" y1="1877.50" x2="1193.30" y2="1888.95" stroke="#000" stroke-width="2.5"/>
<rect x="1166.90" y="1766.00" width="20.60" height="111.50" fill="#9895db" stroke="#4b57be" stroke-width="2.2"/>
<rect x="1201.40" y="1829.80" width="20.40" height="47.70" fill="#f7c6b3" stroke="#e2351c" stroke-width="2.2"/>
<line x1="1050.00" y1="1877.50" x2="1234.00" y2="1877.50" stroke="#000" stroke-width="2.5"/>
<line x1="1176.30" y1="1745.00" x2="1176.30" y2="1785.80" stroke="#4b57be" stroke-width="2.2"/>
<line x1="1170.00" y1="1745.00" x2="1182.60" y2="1745.00" stroke="#4b57be" stroke-width="2.2"/>
<line x1="1170.00" y1="1785.80" x2="1182.60" y2="1785.80" stroke="#4b57be" stroke-width="2.2"/>
<line x1="1211.00" y1="1805.30" x2="1211.00" y2="1852.50" stroke="#e2351c" stroke-width="2.2"/>
<line x1="1204.70" y1="1805.30" x2="1217.30" y2="1805.30" stroke="#e2351c" stroke-width="2.2"/>
<line x1="1204.70" y1="1852.50" x2="1217.30" y2="1852.50" stroke="#e2351c" stroke-width="2.2"/>
<circle cx="1077.30" cy="1873.30" r="4.10" fill="#fff" stroke="#4b57be" stroke-width="2.3"/>
<circle cx="1085.00" cy="1873.30" r="4.10" fill="#fff" stroke="#4b57be" stroke-width="2.3"/>
<circle cx="1092.30" cy="1873.30" r="4.10" fill="#fff" stroke="#4b57be" stroke-width="2.3"/>
<circle cx="1176.30" cy="1726.50" r="4.10" fill="#fff" stroke="#4b57be" stroke-width="2.3"/>
<circle cx="1176.30" cy="1774.50" r="4.10" fill="#fff" stroke="#4b57be" stroke-width="2.3"/>
<circle cx="1176.30" cy="1795.80" r="4.10" fill="#fff" stroke="#4b57be" stroke-width="2.3"/>
<line x1="1112.00" y1="1872.60" x2="1126.00" y2="1872.60" stroke="#e2351c" stroke-width="2.2"/>
<circle cx="1112.30" cy="1867.00" r="4.10" fill="#fff" stroke="#e2351c" stroke-width="2.3"/>
<circle cx="1112.30" cy="1877.20" r="4.10" fill="#fff" stroke="#e2351c" stroke-width="2.3"/>
<circle cx="1119.30" cy="1872.80" r="4.10" fill="#fff" stroke="#e2351c" stroke-width="2.3"/>
<circle cx="1126.30" cy="1873.80" r="4.10" fill="#fff" stroke="#e2351c" stroke-width="2.3"/>
<circle cx="1211.00" cy="1786.50" r="4.10" fill="#fff" stroke="#e2351c" stroke-width="2.3"/>
<circle cx="1211.00" cy="1832.00" r="4.10" fill="#fff" stroke="#e2351c" stroke-width="2.3"/>
<circle cx="1211.00" cy="1868.30" r="4.10" fill="#fff" stroke="#e2351c" stroke-width="2.3"/>
<line x1="1175.80" y1="1706.50" x2="1212.00" y2="1706.50" stroke="#000" stroke-width="1.5"/>
<text x="1194.00" y="1710.60" font-size="25.00" text-anchor="middle">*</text>
<text x="976.60" y="1850.24" font-size="28.30" transform="rotate(-90 976.60 1850.24)">mRNA Level</text>
<text x="966.11" y="1921.50" font-size="30.17">BTP2:</text>
<text y="1974.5" font-size="30.17"><tspan x="913.0" font-family="Liberation Serif,DejaVu Serif,serif" font-size="33.5">α</tspan><tspan x="930.88">CD/3/28:</tspan></text>
<text x="1077.70" y="1921.50" font-size="35.51">-</text>
<text x="1173.48" y="1921.50" font-size="33.88">-</text>
<text x="1096.38" y="1974.50" font-size="35.92">-</text>
<text x="1109.16" y="1921.50" font-size="28.31">+</text>
<text x="1204.42" y="1921.50" font-size="29.13">+</text>
<text x="1185.11" y="1974.50" font-size="29.33">+</text>
<line x1="1070.00" y1="1938.30" x2="1134.80" y2="1938.30" stroke="#000" stroke-width="2.3"/>
<line x1="1165.00" y1="1938.30" x2="1230.30" y2="1938.30" stroke="#000" stroke-width="2.3"/>
</svg>
</body></html>
